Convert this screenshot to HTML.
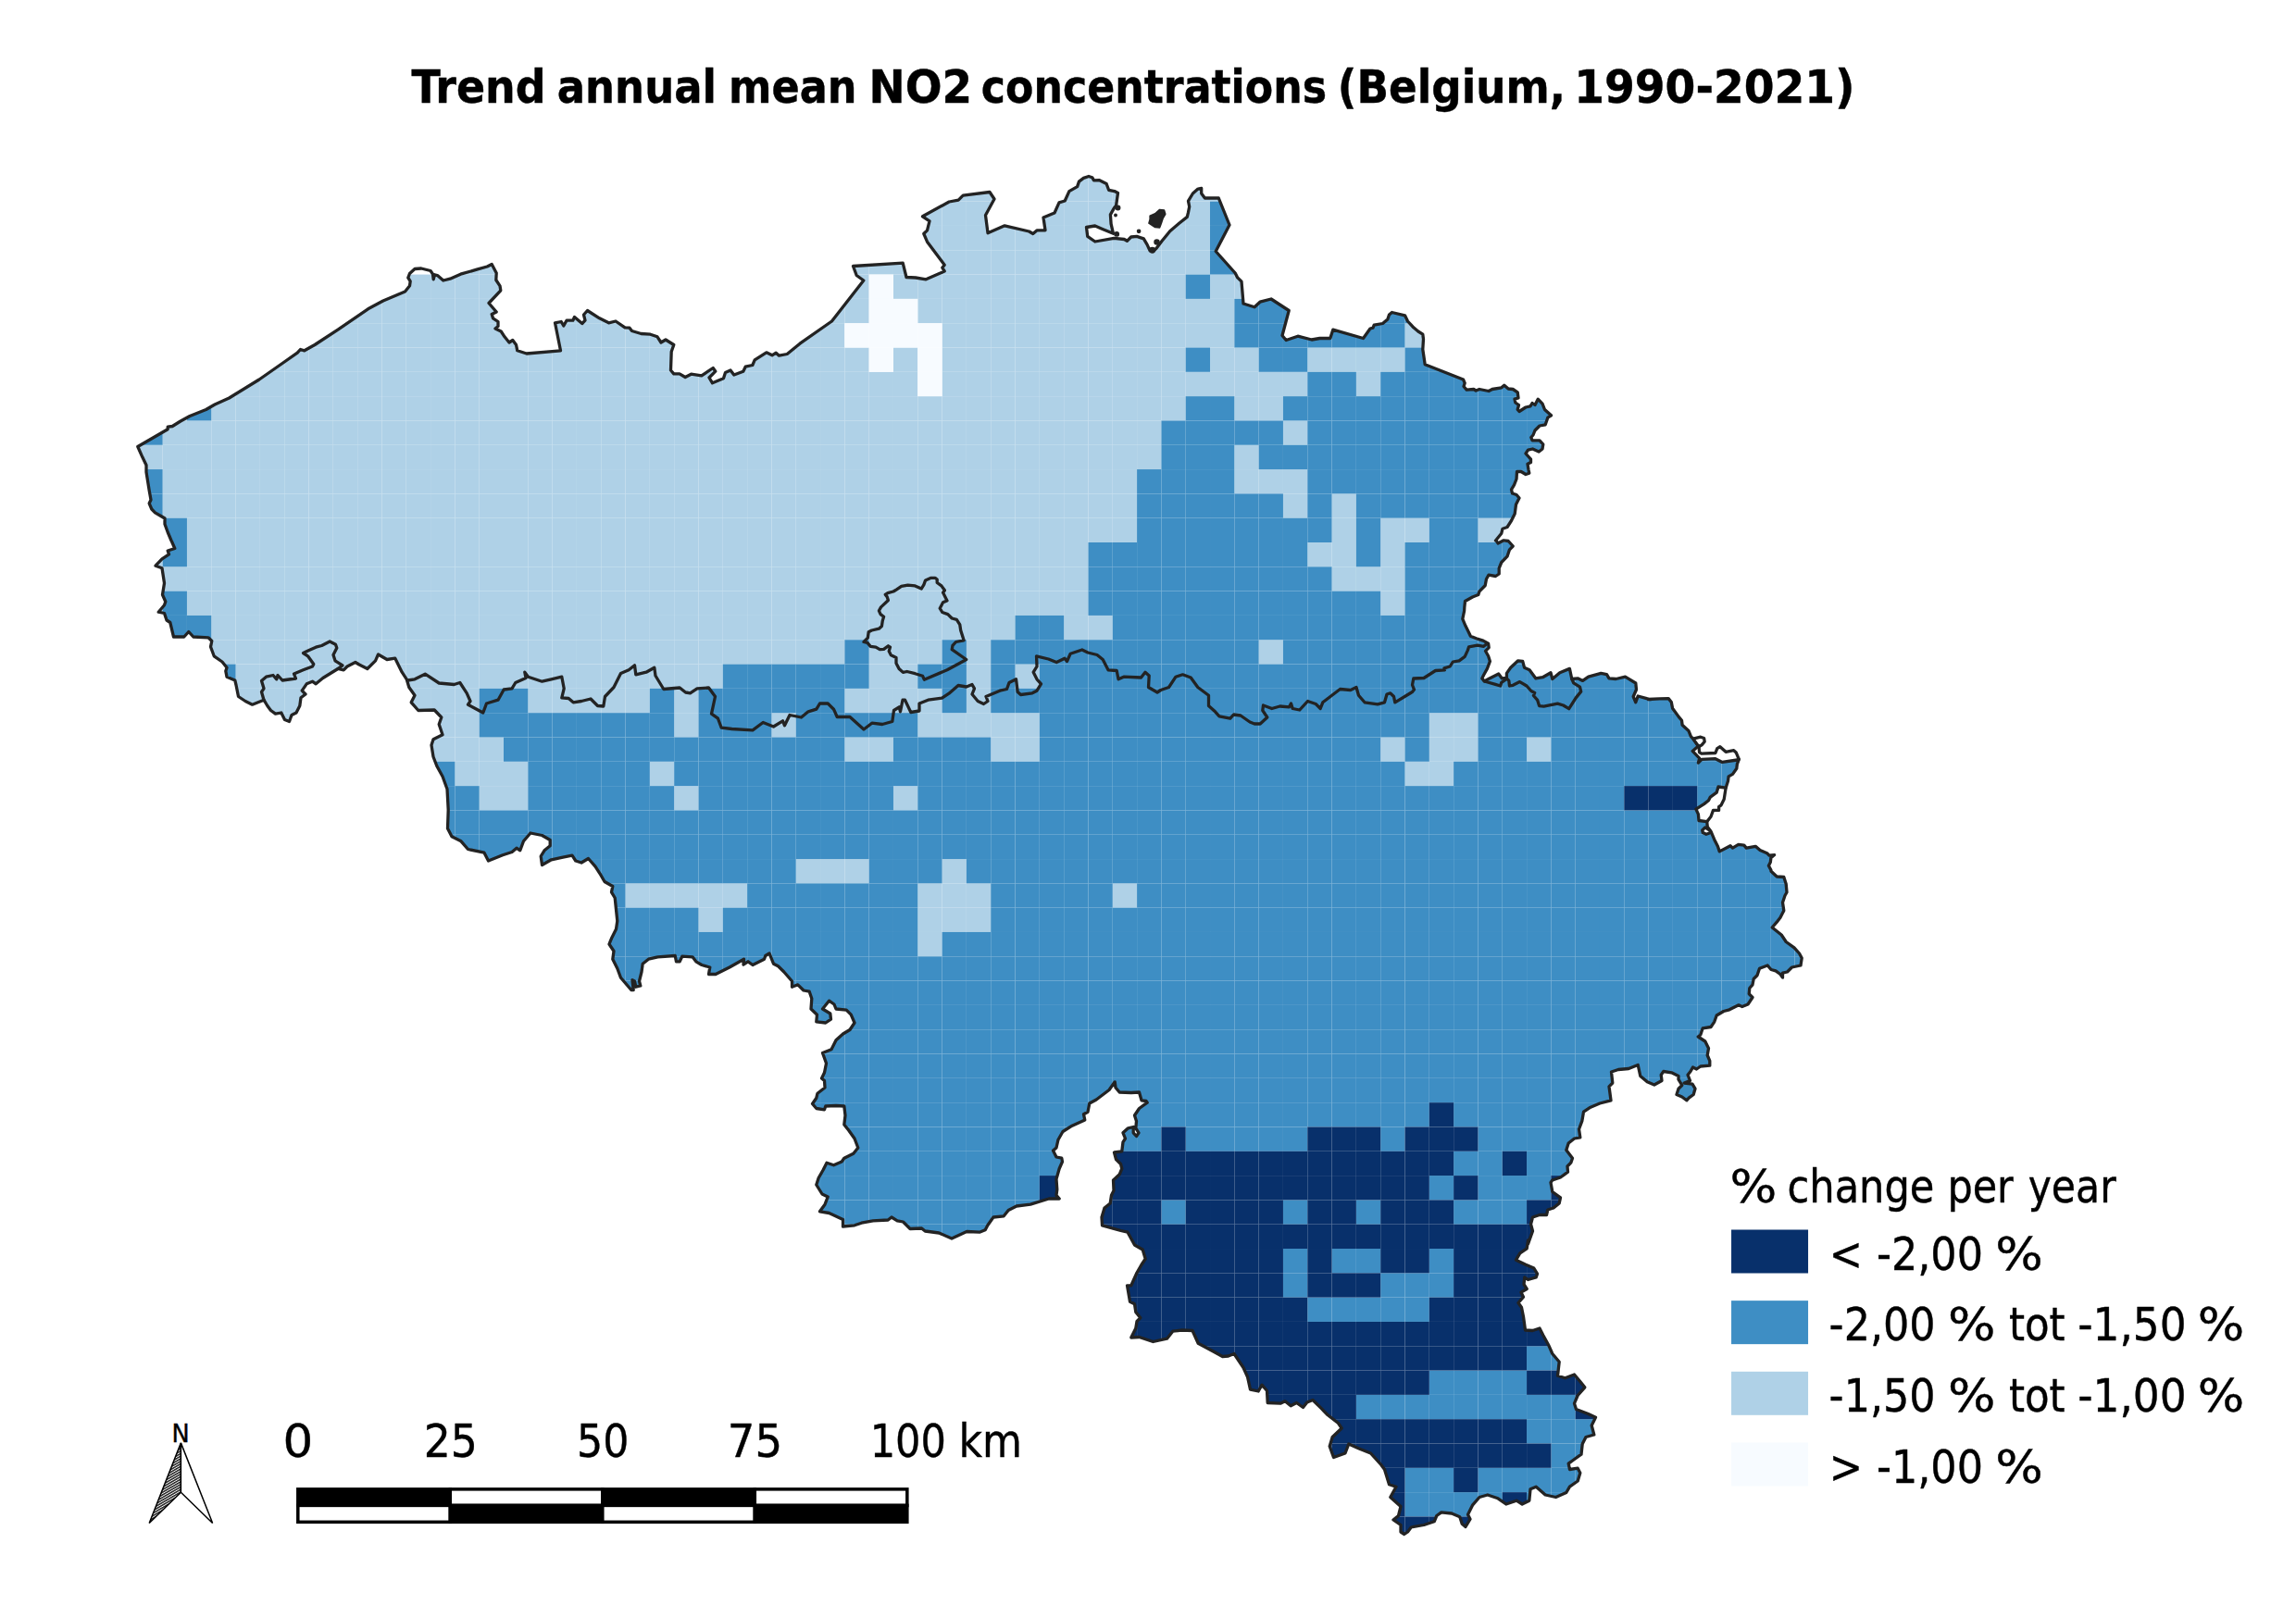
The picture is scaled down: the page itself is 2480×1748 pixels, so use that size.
<!DOCTYPE html><html><head><meta charset="utf-8"><title>Trend annual mean NO2 concentrations</title><style>html,body{margin:0;padding:0;background:#fff}body{width:2480px;height:1748px;position:relative;overflow:hidden}text{font-family:"DejaVu Sans Condensed","DejaVu Sans","Liberation Sans",sans-serif;fill:#000;stroke:#000;stroke-width:.4px}</style></head><body><svg width="2480" height="1748" viewBox="0 0 2480 1748" style="position:absolute;left:0;top:0">
<defs><clipPath id="be"><path d="M148.8,482.5 L181.2,463.8 L181.2,461.2 L186.2,460.5 L195.0,455.0 L205.0,449.5 L222.5,442.5 L232.0,437.0 L247.5,430.0 L280.0,410.0 L305.0,392.5 L321.2,381.2 L324.5,377.5 L328.8,378.8 L340.0,372.5 L365.0,356.2 L397.5,333.8 L413.8,325.0 L437.5,315.0 L442.5,308.8 L443.2,303.8 L440.8,300.0 L442.5,295.5 L448.0,290.5 L455.0,290.0 L465.0,292.5 L467.5,296.2 L468.2,301.8 L469.5,296.8 L472.5,297.5 L478.8,303.0 L486.2,301.2 L497.5,296.2 L515.0,291.2 L526.2,288.0 L531.2,285.5 L536.2,295.0 L535.8,302.5 L540.0,308.8 L540.8,313.8 L528.0,327.5 L536.2,337.0 L531.2,339.5 L532.5,343.8 L538.0,347.5 L538.0,352.5 L535.0,355.0 L541.2,358.0 L545.0,363.8 L550.0,370.0 L553.8,367.5 L557.5,372.5 L558.8,378.8 L568.8,382.0 L605.5,378.8 L599.5,348.8 L606.2,347.5 L608.8,352.0 L612.0,346.2 L618.8,346.2 L620.5,342.5 L628.8,349.5 L632.0,346.2 L630.5,340.0 L634.5,335.5 L647.5,343.8 L657.5,348.8 L665.0,347.0 L675.0,353.8 L680.0,354.2 L682.5,357.5 L692.5,360.5 L702.5,361.2 L710.0,363.8 L714.0,370.0 L719.0,367.0 L727.8,372.5 L725.2,380.0 L724.5,400.0 L727.8,403.8 L734.0,403.8 L740.2,407.5 L746.5,404.2 L757.8,405.8 L770.2,397.5 L772.8,401.2 L766.0,408.0 L769.5,413.8 L781.5,408.8 L783.5,402.5 L789.0,400.0 L792.8,405.0 L802.8,401.2 L805.2,396.2 L812.8,394.5 L815.2,388.8 L827.8,380.8 L834.0,383.8 L838.2,381.2 L841.5,384.2 L850.2,382.5 L864.0,371.2 L898.5,347.0 L932.8,303.0 L925.2,297.5 L921.5,287.5 L975.2,284.2 L979.0,299.5 L989.0,300.0 L1000.2,301.8 L1020.2,293.0 L1017.8,289.2 L1020.2,286.2 L1001.5,261.2 L997.8,252.5 L1001.5,248.8 L1004.0,238.8 L996.5,233.8 L1025.2,218.0 L1035.2,216.2 L1040.2,211.2 L1069.0,207.5 L1074.0,215.0 L1064.5,232.5 L1067.0,251.8 L1085.2,243.8 L1111.5,250.0 L1115.8,252.5 L1120.2,248.8 L1129.0,248.8 L1127.0,235.0 L1139.0,230.0 L1144.0,218.8 L1150.2,217.0 L1154.9,206.6 L1163.6,201.6 L1165.5,196.1 L1170.4,192.4 L1176.0,190.5 L1179.7,191.7 L1181.5,194.8 L1187.1,194.6 L1195.1,198.5 L1197.6,205.3 L1203.8,206.6 L1207.5,208.4 L1205.6,222.0 L1203.2,225.1 L1199.4,231.9 L1200.1,241.8 L1202.5,252.3 L1190.8,247.4 L1182.8,244.0 L1173.5,245.5 L1174.7,255.4 L1182.8,261.0 L1203.2,257.3 L1214.3,258.5 L1217.4,260.3 L1221.7,256.0 L1227.9,255.4 L1235.3,257.9 L1239.0,264.1 L1242.1,270.9 L1245.8,271.5 L1248.9,268.4 L1255.1,260.3 L1263.7,249.8 L1273.6,241.2 L1282.3,234.4 L1283.5,229.4 L1284.7,223.3 L1283.5,217.1 L1288.4,209.0 L1294.0,204.1 L1297.7,203.5 L1297.7,209.0 L1301.4,214.0 L1316.3,214.0 L1328.0,243.0 L1313.2,271.5 L1334.2,295.0 L1336.7,299.9 L1341.0,304.2 L1343.0,328.0 L1355.0,331.8 L1361.0,326.2 L1373.0,323.0 L1392.2,335.5 L1385.0,362.5 L1389.2,367.5 L1401.8,363.2 L1416.8,367.0 L1425.5,365.5 L1436.8,365.5 L1439.8,356.2 L1472.5,365.5 L1480.0,355.0 L1483.0,354.2 L1484.2,351.2 L1493.5,349.5 L1498.8,345.0 L1500.5,340.0 L1503.5,337.5 L1517.5,340.8 L1520.5,347.0 L1526.8,353.8 L1531.8,358.0 L1536.8,361.2 L1537.5,366.2 L1536.8,377.5 L1539.2,393.8 L1580.5,410.0 L1582.2,413.8 L1581.0,417.5 L1584.2,421.2 L1591.8,420.5 L1594.2,422.0 L1598.0,420.5 L1608.0,422.5 L1611.8,420.5 L1621.8,418.8 L1624.8,416.2 L1629.2,420.0 L1634.2,420.5 L1639.2,423.8 L1640.0,430.0 L1636.0,431.2 L1636.8,435.0 L1640.5,437.5 L1639.2,442.5 L1641.0,444.5 L1648.0,440.0 L1653.0,438.8 L1655.0,435.5 L1658.0,437.5 L1661.2,431.2 L1666.0,436.2 L1668.5,442.5 L1675.5,448.8 L1671.8,451.2 L1669.2,458.8 L1663.0,460.0 L1658.0,465.0 L1656.0,470.0 L1653.8,472.5 L1655.0,475.8 L1663.0,475.8 L1666.8,480.0 L1666.0,485.0 L1662.2,488.0 L1655.5,485.0 L1650.5,486.2 L1648.0,490.0 L1653.5,496.2 L1653.5,499.5 L1650.0,501.2 L1651.0,507.5 L1651.8,511.2 L1648.0,512.5 L1643.0,509.5 L1638.5,509.5 L1638.0,517.5 L1635.5,523.8 L1632.5,528.8 L1633.5,533.0 L1638.0,534.5 L1641.0,538.0 L1637.5,545.0 L1636.2,555.0 L1632.5,562.5 L1628.0,569.5 L1623.0,571.2 L1621.8,576.2 L1615.5,584.0 L1616.0,583.8 L1618.0,587.0 L1624.2,583.8 L1629.2,584.5 L1634.2,590.0 L1630.5,593.8 L1628.0,601.2 L1621.8,607.5 L1619.2,613.8 L1619.2,620.0 L1615.5,622.5 L1608.0,621.2 L1605.5,625.5 L1604.2,632.5 L1598.0,638.8 L1596.8,642.5 L1590.5,645.0 L1582.5,649.5 L1581.8,656.2 L1581.6,660.0 L1579.8,668.7 L1582.9,676.1 L1586.0,682.2 L1588.4,687.2 L1594.6,689.7 L1602.0,692.1 L1607.6,695.2 L1608.2,699.6 L1604.5,703.3 L1607.6,708.8 L1609.4,714.4 L1606.4,722.4 L1602.6,729.2 L1600.8,732.9 L1603.3,736.0 L1608.8,732.9 L1618.7,728.0 L1622.4,732.9 L1627.4,732.3 L1627.4,727.4 L1631.7,721.2 L1639.7,713.8 L1644.7,714.4 L1646.5,721.2 L1652.1,723.7 L1658.9,732.9 L1666.3,731.7 L1675.0,726.7 L1676.8,733.5 L1684.8,726.7 L1695.4,722.4 L1697.8,733.5 L1704.6,732.9 L1709.6,735.4 L1715.7,731.1 L1729.3,727.4 L1735.5,728.6 L1738.0,732.9 L1745.4,733.5 L1755.5,731.2 L1766.8,738.0 L1767.5,745.0 L1764.2,752.5 L1766.8,758.8 L1769.2,752.0 L1783.0,755.8 L1780.0,755.5 L1792.4,754.8 L1802.2,754.6 L1805.3,758.5 L1806.6,765.3 L1813.4,774.6 L1816.5,778.3 L1817.1,783.3 L1823.9,789.4 L1826.4,795.6 L1828.8,798.1 L1834.4,806.1 L1828.2,811.4 L1835.6,819.1 L1834.4,824.1 L1838.1,820.3 L1852.9,819.7 L1860.3,823.4 L1876.4,821.0 L1878.3,820.3 L1876.4,825.3 L1875.8,830.2 L1871.5,836.4 L1867.1,838.9 L1866.5,843.8 L1864.1,851.2 L1856.0,850.0 L1854.2,856.2 L1847.4,861.1 L1845.5,864.8 L1840.6,868.6 L1831.9,874.1 L1834.4,879.7 L1835.0,886.5 L1843.7,887.7 L1844.3,893.3 L1848.0,898.2 L1851.7,906.9 L1855.4,914.3 L1857.3,919.9 L1869.0,913.7 L1871.5,916.1 L1877.7,912.4 L1883.8,913.1 L1886.3,916.1 L1896.2,914.3 L1901.1,918.6 L1908.6,921.7 L1911.0,924.2 L1916.6,923.6 L1912.9,926.7 L1912.3,931.6 L1910.4,935.3 L1912.9,940.0 L1913.0,941.2 L1919.2,947.0 L1926.8,947.5 L1929.2,955.0 L1930.0,964.0 L1930.0,964.0 L1928.0,967.5 L1925.5,975.0 L1926.8,983.8 L1923.0,991.2 L1919.2,996.2 L1914.2,1002.0 L1924.2,1010.0 L1929.2,1017.5 L1938.0,1023.8 L1943.5,1030.0 L1946.2,1035.0 L1945.0,1043.0 L1935.5,1045.0 L1930.5,1050.0 L1925.5,1051.2 L1925.5,1056.2 L1923.0,1052.5 L1918.0,1048.8 L1913.0,1047.5 L1909.2,1043.0 L1900.5,1046.2 L1898.0,1053.8 L1894.2,1057.5 L1893.0,1063.8 L1889.8,1067.5 L1889.2,1073.8 L1893.0,1077.5 L1888.0,1085.0 L1881.8,1087.5 L1878.0,1085.8 L1868.0,1090.8 L1861.8,1092.5 L1854.2,1097.0 L1851.8,1103.8 L1848.0,1109.5 L1839.2,1110.8 L1836.8,1118.0 L1834.2,1120.0 L1841.8,1125.0 L1845.5,1132.5 L1844.2,1140.0 L1846.8,1146.2 L1846.8,1151.2 L1836.8,1152.0 L1832.5,1155.0 L1828.5,1153.0 L1826.0,1157.5 L1823.0,1161.2 L1825.5,1167.5 L1819.2,1170.0 L1828.0,1171.2 L1831.0,1176.2 L1829.2,1182.5 L1824.2,1186.2 L1821.8,1188.8 L1816.8,1185.0 L1811.0,1182.5 L1813.0,1176.2 L1816.8,1172.5 L1813.0,1166.2 L1813.0,1162.5 L1805.5,1158.8 L1796.8,1157.5 L1794.2,1161.2 L1795.0,1167.5 L1786.8,1172.0 L1779.2,1168.8 L1771.8,1162.5 L1769.2,1150.5 L1759.2,1154.5 L1748.0,1155.5 L1740.5,1158.0 L1741.8,1170.0 L1738.0,1173.8 L1740.0,1188.8 L1728.0,1192.0 L1718.0,1196.2 L1710.5,1201.2 L1708.8,1211.2 L1705.5,1220.0 L1706.8,1228.8 L1700.5,1230.0 L1694.2,1235.0 L1691.8,1242.5 L1698.5,1251.2 L1696.8,1256.2 L1693.0,1260.0 L1693.5,1266.2 L1685.5,1272.0 L1676.8,1275.0 L1675.0,1277.5 L1676.8,1287.5 L1685.5,1293.8 L1684.2,1300.0 L1678.0,1305.0 L1671.8,1307.0 L1670.5,1312.5 L1663.0,1312.5 L1655.5,1315.0 L1653.5,1322.5 L1655.5,1330.0 L1650.5,1344.0 L1650.5,1340.0 L1649.2,1348.8 L1641.8,1353.8 L1637.5,1361.2 L1648.0,1366.2 L1656.8,1370.0 L1660.5,1376.2 L1659.2,1380.0 L1650.5,1382.5 L1646.8,1380.0 L1646.0,1387.5 L1649.2,1392.5 L1643.0,1396.2 L1645.5,1401.2 L1640.0,1407.5 L1643.5,1412.5 L1645.5,1422.5 L1647.5,1437.0 L1655.5,1437.5 L1663.0,1435.0 L1666.8,1442.5 L1673.0,1453.8 L1676.8,1462.5 L1684.2,1471.2 L1682.5,1486.2 L1690.5,1488.8 L1700.5,1485.0 L1706.8,1492.5 L1711.8,1498.8 L1704.2,1507.5 L1700.5,1516.2 L1702.5,1522.5 L1715.5,1527.5 L1723.5,1531.2 L1719.2,1540.0 L1721.8,1550.0 L1713.0,1552.5 L1709.2,1560.0 L1708.0,1571.2 L1699.2,1577.5 L1694.2,1581.2 L1695.5,1587.5 L1704.2,1586.2 L1706.8,1591.2 L1704.2,1600.0 L1695.5,1606.2 L1691.8,1612.5 L1680.5,1617.5 L1669.2,1615.0 L1659.2,1606.2 L1653.0,1608.8 L1651.8,1621.2 L1644.2,1625.0 L1638.0,1621.2 L1626.8,1625.0 L1618.0,1618.8 L1606.8,1615.0 L1598.0,1617.5 L1590.5,1626.2 L1585.5,1636.2 L1588.0,1641.2 L1583.0,1649.5 L1579.2,1646.2 L1576.8,1638.8 L1568.0,1635.0 L1556.8,1633.8 L1551.8,1637.5 L1549.2,1643.8 L1538.0,1647.5 L1524.2,1650.0 L1520.5,1655.0 L1516.8,1657.5 L1513.0,1655.0 L1513.0,1647.5 L1505.0,1642.0 L1510.5,1637.5 L1513.0,1627.5 L1501.8,1617.5 L1508.0,1606.2 L1500.5,1603.8 L1495.5,1587.5 L1491.8,1582.5 L1480.5,1570.0 L1468.0,1565.0 L1456.8,1560.0 L1453.0,1570.0 L1440.5,1574.5 L1436.2,1562.5 L1439.2,1552.5 L1449.2,1543.0 L1445.5,1537.5 L1434.2,1528.8 L1426.8,1521.2 L1418.0,1512.5 L1411.8,1515.0 L1407.5,1520.5 L1400.5,1515.5 L1394.2,1518.8 L1388.0,1513.8 L1383.0,1516.2 L1369.2,1515.5 L1368.5,1502.5 L1363.0,1496.2 L1359.2,1503.0 L1350.5,1501.2 L1347.5,1487.5 L1343.0,1477.5 L1333.0,1462.5 L1326.8,1465.0 L1320.5,1465.5 L1310.5,1460.0 L1294.2,1451.2 L1288.0,1437.5 L1276.8,1437.0 L1266.8,1438.2 L1260.5,1446.2 L1245.5,1449.5 L1230.5,1444.5 L1221.8,1445.0 L1226.8,1435.0 L1228.0,1427.5 L1231.8,1423.8 L1226.8,1417.5 L1225.5,1408.8 L1220.5,1406.2 L1217.5,1388.8 L1221.8,1388.8 L1228.0,1375.0 L1233.0,1366.2 L1237.2,1360.0 L1234.2,1350.0 L1225.5,1345.0 L1218.0,1331.2 L1210.5,1329.5 L1190.5,1323.8 L1190.0,1315.0 L1193.0,1305.0 L1199.2,1300.0 L1199.2,1300.0 L1200.5,1291.2 L1203.0,1286.2 L1202.5,1275.0 L1209.2,1268.8 L1211.8,1262.5 L1210.5,1257.5 L1205.5,1252.5 L1203.5,1245.0 L1211.8,1243.8 L1213.0,1233.8 L1215.5,1230.0 L1213.0,1223.8 L1218.5,1218.8 L1224.2,1217.5 L1224.2,1223.8 L1227.5,1227.5 L1230.0,1223.8 L1226.8,1218.8 L1227.5,1211.2 L1225.5,1205.0 L1230.5,1197.5 L1239.2,1191.2 L1238.0,1189.5 L1233.0,1188.8 L1230.5,1180.0 L1221.8,1180.5 L1209.2,1180.0 L1205.0,1175.0 L1204.2,1168.8 L1198.0,1177.5 L1184.2,1188.0 L1176.8,1192.0 L1175.0,1201.2 L1170.5,1203.8 L1171.8,1210.0 L1158.0,1216.2 L1148.0,1222.5 L1143.0,1231.2 L1141.0,1240.0 L1137.5,1243.0 L1141.0,1250.0 L1146.8,1251.2 L1147.5,1255.0 L1144.2,1262.5 L1141.0,1273.8 L1141.8,1285.0 L1141.0,1291.2 L1144.2,1295.0 L1133.0,1295.0 L1113.0,1301.2 L1098.0,1303.0 L1089.2,1307.5 L1084.2,1313.8 L1073.0,1315.0 L1066.8,1323.8 L1064.2,1328.8 L1058.0,1331.2 L1044.2,1330.5 L1028.0,1338.0 L1014.2,1332.0 L999.2,1330.0 L995.5,1327.0 L983.0,1327.5 L975.5,1320.0 L969.2,1318.8 L963.0,1315.0 L959.2,1318.0 L943.0,1318.8 L930.5,1321.2 L923.0,1323.8 L910.5,1325.0 L910.5,1317.5 L895.5,1310.5 L885.5,1308.8 L891.0,1301.2 L894.2,1293.0 L888.0,1290.0 L881.8,1280.0 L884.2,1272.5 L889.2,1263.8 L893.0,1256.2 L900.5,1258.8 L909.2,1255.0 L911.8,1251.2 L921.8,1246.2 L926.8,1240.0 L923.0,1230.0 L916.8,1221.2 L911.8,1215.0 L913.0,1205.0 L911.8,1195.0 L903.0,1194.5 L891.8,1195.0 L890.5,1198.8 L881.8,1197.5 L877.5,1192.5 L881.8,1186.2 L883.0,1181.2 L891.0,1175.0 L890.5,1167.5 L887.5,1165.0 L890.5,1158.8 L892.5,1148.8 L888.5,1137.5 L898.0,1133.8 L903.0,1123.8 L910.5,1117.0 L918.0,1112.5 L923.0,1105.0 L919.2,1096.2 L914.2,1091.2 L903.0,1090.0 L901.0,1085.0 L895.5,1081.2 L888.5,1090.0 L896.8,1095.0 L897.5,1101.2 L891.8,1105.0 L881.8,1103.8 L882.5,1096.2 L876.0,1090.0 L876.8,1078.8 L874.2,1071.2 L868.0,1070.0 L861.8,1063.8 L855.5,1066.2 L855.5,1060.0 L846.8,1050.0 L840.5,1043.8 L835.5,1041.2 L831.0,1030.0 L826.8,1032.5 L825.5,1036.2 L813.0,1042.5 L808.0,1038.8 L803.0,1042.0 L803.5,1036.2 L788.0,1045.0 L788.0,1045.0 L773.0,1052.5 L765.5,1052.5 L766.8,1045.0 L758.0,1042.5 L751.8,1038.8 L748.0,1033.8 L736.8,1033.2 L734.2,1038.8 L730.5,1038.8 L729.2,1032.5 L710.5,1033.8 L700.5,1036.2 L694.2,1041.2 L693.0,1050.0 L690.5,1060.0 L691.8,1065.0 L686.8,1066.2 L685.5,1060.0 L683.0,1058.8 L684.2,1069.5 L681.8,1069.5 L670.5,1056.2 L666.8,1046.2 L661.8,1036.2 L663.0,1027.5 L658.0,1020.0 L660.5,1013.8 L665.5,1003.8 L666.8,995.0 L664.2,970.0 L660.5,963.8 L661.8,957.5 L653.0,952.5 L648.0,943.8 L643.0,936.2 L635.5,927.5 L628.0,932.0 L621.8,930.0 L618.0,924.2 L608.0,926.2 L595.5,928.8 L585.5,934.5 L584.2,925.0 L588.0,918.8 L594.2,913.8 L594.2,907.5 L585.5,902.5 L573.0,900.0 L565.5,908.8 L561.8,918.8 L558.0,916.2 L553.0,920.5 L543.0,923.8 L527.5,930.0 L523.0,921.2 L505.5,917.5 L498.0,908.8 L488.0,903.8 L483.5,895.0 L484.2,875.0 L483.0,852.5 L478.0,838.8 L471.8,827.5 L468.0,817.5 L466.0,805.0 L468.0,798.8 L478.0,793.8 L474.2,782.5 L476.8,775.0 L469.2,767.0 L451.8,767.5 L444.2,758.8 L448.0,751.2 L441.8,742.5 L439.2,733.8 L434.2,726.2 L426.8,711.2 L418.0,712.5 L408.5,707.0 L405.5,713.8 L396.8,722.5 L388.0,718.0 L388.0,718.0 L383.8,715.5 L375.0,720.0 L371.2,723.8 L365.0,722.5 L348.8,732.5 L341.2,738.8 L337.5,736.2 L331.2,738.8 L326.2,746.2 L330.0,750.0 L325.0,753.8 L323.8,762.5 L320.0,770.0 L315.0,772.5 L312.5,779.5 L307.5,777.5 L303.8,770.0 L297.5,771.2 L292.5,767.5 L288.8,762.5 L285.0,756.2 L272.5,761.2 L265.0,757.5 L257.5,752.5 L255.0,740.0 L253.8,735.0 L245.0,731.2 L243.8,725.0 L245.0,721.2 L240.0,715.0 L231.2,708.8 L227.5,698.8 L228.8,692.5 L225.0,688.8 L208.8,688.0 L203.8,682.5 L198.8,688.0 L187.5,688.0 L183.8,672.5 L180.0,670.0 L177.5,662.5 L171.2,661.2 L177.5,653.8 L178.8,650.0 L175.5,642.5 L177.5,630.0 L175.0,613.8 L168.0,611.2 L175.0,603.8 L182.5,598.8 L181.2,595.0 L188.8,592.5 L185.5,585.0 L185.0,584.0 L181.2,575.0 L178.0,566.2 L178.0,560.0 L173.8,557.5 L167.5,553.8 L163.8,550.0 L161.2,543.8 L163.0,540.0 L161.2,530.0 L158.0,510.0 L158.0,502.5 L153.8,493.8Z"/></clipPath>
<pattern id="hatch" width="2.4" height="2.4" patternUnits="userSpaceOnUse" patternTransform="rotate(-30)"><rect width="2.4" height="2.4" fill="#fff"/><rect width="2.4" height="1.5" fill="#222"/></pattern></defs>
<g clip-path="url(#be)" class="cg"><g fill="#afd1e7"><rect x="1149.15" y="165.02" width="26.311" height="26.311"/><rect x="1175.46" y="165.02" width="26.311" height="26.311"/><rect x="1017.59" y="191.33" width="26.311" height="26.311"/><rect x="1043.90" y="191.33" width="26.311" height="26.311"/><rect x="1070.22" y="191.33" width="26.311" height="26.311"/><rect x="1122.84" y="191.33" width="26.311" height="26.311"/><rect x="1149.15" y="191.33" width="26.311" height="26.311"/><rect x="1175.46" y="191.33" width="26.311" height="26.311"/><rect x="1201.77" y="191.33" width="26.311" height="26.311"/><rect x="1280.70" y="191.33" width="26.311" height="26.311"/><rect x="1307.01" y="191.33" width="26.311" height="26.311"/><rect x="991.28" y="217.64" width="26.311" height="26.311"/><rect x="1017.59" y="217.64" width="26.311" height="26.311"/><rect x="1043.90" y="217.64" width="26.311" height="26.311"/><rect x="1070.22" y="217.64" width="26.311" height="26.311"/><rect x="1122.84" y="217.64" width="26.311" height="26.311"/><rect x="1149.15" y="217.64" width="26.311" height="26.311"/><rect x="1175.46" y="217.64" width="26.311" height="26.311"/><rect x="1201.77" y="217.64" width="26.311" height="26.311"/><rect x="1254.39" y="217.64" width="26.311" height="26.311"/><rect x="1280.70" y="217.64" width="26.311" height="26.311"/><rect x="991.28" y="243.95" width="26.311" height="26.311"/><rect x="1017.59" y="243.95" width="26.311" height="26.311"/><rect x="1043.90" y="243.95" width="26.311" height="26.311"/><rect x="1070.22" y="243.95" width="26.311" height="26.311"/><rect x="1096.53" y="243.95" width="26.311" height="26.311"/><rect x="1122.84" y="243.95" width="26.311" height="26.311"/><rect x="1149.15" y="243.95" width="26.311" height="26.311"/><rect x="1175.46" y="243.95" width="26.311" height="26.311"/><rect x="1201.77" y="243.95" width="26.311" height="26.311"/><rect x="1228.08" y="243.95" width="26.311" height="26.311"/><rect x="1254.39" y="243.95" width="26.311" height="26.311"/><rect x="1280.70" y="243.95" width="26.311" height="26.311"/><rect x="465.06" y="270.26" width="26.311" height="26.311"/><rect x="491.37" y="270.26" width="26.311" height="26.311"/><rect x="517.69" y="270.26" width="26.311" height="26.311"/><rect x="912.35" y="270.26" width="26.311" height="26.311"/><rect x="938.66" y="270.26" width="26.311" height="26.311"/><rect x="964.97" y="270.26" width="26.311" height="26.311"/><rect x="991.28" y="270.26" width="26.311" height="26.311"/><rect x="1017.59" y="270.26" width="26.311" height="26.311"/><rect x="1043.90" y="270.26" width="26.311" height="26.311"/><rect x="1070.22" y="270.26" width="26.311" height="26.311"/><rect x="1096.53" y="270.26" width="26.311" height="26.311"/><rect x="1122.84" y="270.26" width="26.311" height="26.311"/><rect x="1149.15" y="270.26" width="26.311" height="26.311"/><rect x="1175.46" y="270.26" width="26.311" height="26.311"/><rect x="1201.77" y="270.26" width="26.311" height="26.311"/><rect x="1228.08" y="270.26" width="26.311" height="26.311"/><rect x="1254.39" y="270.26" width="26.311" height="26.311"/><rect x="1280.70" y="270.26" width="26.311" height="26.311"/><rect x="412.44" y="296.58" width="26.311" height="26.311"/><rect x="438.75" y="296.58" width="26.311" height="26.311"/><rect x="465.06" y="296.58" width="26.311" height="26.311"/><rect x="491.37" y="296.58" width="26.311" height="26.311"/><rect x="517.69" y="296.58" width="26.311" height="26.311"/><rect x="912.35" y="296.58" width="26.311" height="26.311"/><rect x="964.97" y="296.58" width="26.311" height="26.311"/><rect x="991.28" y="296.58" width="26.311" height="26.311"/><rect x="1017.59" y="296.58" width="26.311" height="26.311"/><rect x="1043.90" y="296.58" width="26.311" height="26.311"/><rect x="1070.22" y="296.58" width="26.311" height="26.311"/><rect x="1096.53" y="296.58" width="26.311" height="26.311"/><rect x="1122.84" y="296.58" width="26.311" height="26.311"/><rect x="1149.15" y="296.58" width="26.311" height="26.311"/><rect x="1175.46" y="296.58" width="26.311" height="26.311"/><rect x="1201.77" y="296.58" width="26.311" height="26.311"/><rect x="1228.08" y="296.58" width="26.311" height="26.311"/><rect x="1254.39" y="296.58" width="26.311" height="26.311"/><rect x="1307.01" y="296.58" width="26.311" height="26.311"/><rect x="1333.33" y="296.58" width="26.311" height="26.311"/><rect x="1359.64" y="296.58" width="26.311" height="26.311"/><rect x="359.82" y="322.89" width="26.311" height="26.311"/><rect x="386.13" y="322.89" width="26.311" height="26.311"/><rect x="412.44" y="322.89" width="26.311" height="26.311"/><rect x="438.75" y="322.89" width="26.311" height="26.311"/><rect x="465.06" y="322.89" width="26.311" height="26.311"/><rect x="491.37" y="322.89" width="26.311" height="26.311"/><rect x="517.69" y="322.89" width="26.311" height="26.311"/><rect x="596.62" y="322.89" width="26.311" height="26.311"/><rect x="622.93" y="322.89" width="26.311" height="26.311"/><rect x="649.24" y="322.89" width="26.311" height="26.311"/><rect x="886.04" y="322.89" width="26.311" height="26.311"/><rect x="912.35" y="322.89" width="26.311" height="26.311"/><rect x="991.28" y="322.89" width="26.311" height="26.311"/><rect x="1017.59" y="322.89" width="26.311" height="26.311"/><rect x="1043.90" y="322.89" width="26.311" height="26.311"/><rect x="1070.22" y="322.89" width="26.311" height="26.311"/><rect x="1096.53" y="322.89" width="26.311" height="26.311"/><rect x="1122.84" y="322.89" width="26.311" height="26.311"/><rect x="1149.15" y="322.89" width="26.311" height="26.311"/><rect x="1175.46" y="322.89" width="26.311" height="26.311"/><rect x="1201.77" y="322.89" width="26.311" height="26.311"/><rect x="1228.08" y="322.89" width="26.311" height="26.311"/><rect x="1254.39" y="322.89" width="26.311" height="26.311"/><rect x="1280.70" y="322.89" width="26.311" height="26.311"/><rect x="1307.01" y="322.89" width="26.311" height="26.311"/><rect x="307.20" y="349.20" width="26.311" height="26.311"/><rect x="333.51" y="349.20" width="26.311" height="26.311"/><rect x="359.82" y="349.20" width="26.311" height="26.311"/><rect x="386.13" y="349.20" width="26.311" height="26.311"/><rect x="412.44" y="349.20" width="26.311" height="26.311"/><rect x="438.75" y="349.20" width="26.311" height="26.311"/><rect x="465.06" y="349.20" width="26.311" height="26.311"/><rect x="491.37" y="349.20" width="26.311" height="26.311"/><rect x="517.69" y="349.20" width="26.311" height="26.311"/><rect x="544.00" y="349.20" width="26.311" height="26.311"/><rect x="596.62" y="349.20" width="26.311" height="26.311"/><rect x="622.93" y="349.20" width="26.311" height="26.311"/><rect x="649.24" y="349.20" width="26.311" height="26.311"/><rect x="675.55" y="349.20" width="26.311" height="26.311"/><rect x="701.86" y="349.20" width="26.311" height="26.311"/><rect x="728.17" y="349.20" width="26.311" height="26.311"/><rect x="833.42" y="349.20" width="26.311" height="26.311"/><rect x="859.73" y="349.20" width="26.311" height="26.311"/><rect x="886.04" y="349.20" width="26.311" height="26.311"/><rect x="1017.59" y="349.20" width="26.311" height="26.311"/><rect x="1043.90" y="349.20" width="26.311" height="26.311"/><rect x="1070.22" y="349.20" width="26.311" height="26.311"/><rect x="1096.53" y="349.20" width="26.311" height="26.311"/><rect x="1122.84" y="349.20" width="26.311" height="26.311"/><rect x="1149.15" y="349.20" width="26.311" height="26.311"/><rect x="1175.46" y="349.20" width="26.311" height="26.311"/><rect x="1201.77" y="349.20" width="26.311" height="26.311"/><rect x="1228.08" y="349.20" width="26.311" height="26.311"/><rect x="1254.39" y="349.20" width="26.311" height="26.311"/><rect x="1280.70" y="349.20" width="26.311" height="26.311"/><rect x="1307.01" y="349.20" width="26.311" height="26.311"/><rect x="1517.50" y="349.20" width="26.311" height="26.311"/><rect x="280.89" y="375.51" width="26.311" height="26.311"/><rect x="307.20" y="375.51" width="26.311" height="26.311"/><rect x="333.51" y="375.51" width="26.311" height="26.311"/><rect x="359.82" y="375.51" width="26.311" height="26.311"/><rect x="386.13" y="375.51" width="26.311" height="26.311"/><rect x="412.44" y="375.51" width="26.311" height="26.311"/><rect x="438.75" y="375.51" width="26.311" height="26.311"/><rect x="465.06" y="375.51" width="26.311" height="26.311"/><rect x="491.37" y="375.51" width="26.311" height="26.311"/><rect x="517.69" y="375.51" width="26.311" height="26.311"/><rect x="544.00" y="375.51" width="26.311" height="26.311"/><rect x="570.31" y="375.51" width="26.311" height="26.311"/><rect x="596.62" y="375.51" width="26.311" height="26.311"/><rect x="622.93" y="375.51" width="26.311" height="26.311"/><rect x="649.24" y="375.51" width="26.311" height="26.311"/><rect x="675.55" y="375.51" width="26.311" height="26.311"/><rect x="701.86" y="375.51" width="26.311" height="26.311"/><rect x="728.17" y="375.51" width="26.311" height="26.311"/><rect x="754.48" y="375.51" width="26.311" height="26.311"/><rect x="780.79" y="375.51" width="26.311" height="26.311"/><rect x="807.11" y="375.51" width="26.311" height="26.311"/><rect x="833.42" y="375.51" width="26.311" height="26.311"/><rect x="859.73" y="375.51" width="26.311" height="26.311"/><rect x="886.04" y="375.51" width="26.311" height="26.311"/><rect x="912.35" y="375.51" width="26.311" height="26.311"/><rect x="964.97" y="375.51" width="26.311" height="26.311"/><rect x="1017.59" y="375.51" width="26.311" height="26.311"/><rect x="1043.90" y="375.51" width="26.311" height="26.311"/><rect x="1070.22" y="375.51" width="26.311" height="26.311"/><rect x="1096.53" y="375.51" width="26.311" height="26.311"/><rect x="1122.84" y="375.51" width="26.311" height="26.311"/><rect x="1149.15" y="375.51" width="26.311" height="26.311"/><rect x="1175.46" y="375.51" width="26.311" height="26.311"/><rect x="1201.77" y="375.51" width="26.311" height="26.311"/><rect x="1228.08" y="375.51" width="26.311" height="26.311"/><rect x="1254.39" y="375.51" width="26.311" height="26.311"/><rect x="1307.01" y="375.51" width="26.311" height="26.311"/><rect x="1333.33" y="375.51" width="26.311" height="26.311"/><rect x="1412.26" y="375.51" width="26.311" height="26.311"/><rect x="1438.57" y="375.51" width="26.311" height="26.311"/><rect x="1464.88" y="375.51" width="26.311" height="26.311"/><rect x="1491.19" y="375.51" width="26.311" height="26.311"/><rect x="228.26" y="401.82" width="26.311" height="26.311"/><rect x="254.57" y="401.82" width="26.311" height="26.311"/><rect x="280.89" y="401.82" width="26.311" height="26.311"/><rect x="307.20" y="401.82" width="26.311" height="26.311"/><rect x="333.51" y="401.82" width="26.311" height="26.311"/><rect x="359.82" y="401.82" width="26.311" height="26.311"/><rect x="386.13" y="401.82" width="26.311" height="26.311"/><rect x="412.44" y="401.82" width="26.311" height="26.311"/><rect x="438.75" y="401.82" width="26.311" height="26.311"/><rect x="465.06" y="401.82" width="26.311" height="26.311"/><rect x="491.37" y="401.82" width="26.311" height="26.311"/><rect x="517.69" y="401.82" width="26.311" height="26.311"/><rect x="544.00" y="401.82" width="26.311" height="26.311"/><rect x="570.31" y="401.82" width="26.311" height="26.311"/><rect x="596.62" y="401.82" width="26.311" height="26.311"/><rect x="622.93" y="401.82" width="26.311" height="26.311"/><rect x="649.24" y="401.82" width="26.311" height="26.311"/><rect x="675.55" y="401.82" width="26.311" height="26.311"/><rect x="701.86" y="401.82" width="26.311" height="26.311"/><rect x="728.17" y="401.82" width="26.311" height="26.311"/><rect x="754.48" y="401.82" width="26.311" height="26.311"/><rect x="780.79" y="401.82" width="26.311" height="26.311"/><rect x="807.11" y="401.82" width="26.311" height="26.311"/><rect x="833.42" y="401.82" width="26.311" height="26.311"/><rect x="859.73" y="401.82" width="26.311" height="26.311"/><rect x="886.04" y="401.82" width="26.311" height="26.311"/><rect x="912.35" y="401.82" width="26.311" height="26.311"/><rect x="938.66" y="401.82" width="26.311" height="26.311"/><rect x="964.97" y="401.82" width="26.311" height="26.311"/><rect x="1017.59" y="401.82" width="26.311" height="26.311"/><rect x="1043.90" y="401.82" width="26.311" height="26.311"/><rect x="1070.22" y="401.82" width="26.311" height="26.311"/><rect x="1096.53" y="401.82" width="26.311" height="26.311"/><rect x="1122.84" y="401.82" width="26.311" height="26.311"/><rect x="1149.15" y="401.82" width="26.311" height="26.311"/><rect x="1175.46" y="401.82" width="26.311" height="26.311"/><rect x="1201.77" y="401.82" width="26.311" height="26.311"/><rect x="1228.08" y="401.82" width="26.311" height="26.311"/><rect x="1254.39" y="401.82" width="26.311" height="26.311"/><rect x="1280.70" y="401.82" width="26.311" height="26.311"/><rect x="1307.01" y="401.82" width="26.311" height="26.311"/><rect x="1333.33" y="401.82" width="26.311" height="26.311"/><rect x="1359.64" y="401.82" width="26.311" height="26.311"/><rect x="1385.95" y="401.82" width="26.311" height="26.311"/><rect x="1464.88" y="401.82" width="26.311" height="26.311"/><rect x="175.64" y="428.13" width="26.311" height="26.311"/><rect x="228.26" y="428.13" width="26.311" height="26.311"/><rect x="254.57" y="428.13" width="26.311" height="26.311"/><rect x="280.89" y="428.13" width="26.311" height="26.311"/><rect x="307.20" y="428.13" width="26.311" height="26.311"/><rect x="333.51" y="428.13" width="26.311" height="26.311"/><rect x="359.82" y="428.13" width="26.311" height="26.311"/><rect x="386.13" y="428.13" width="26.311" height="26.311"/><rect x="412.44" y="428.13" width="26.311" height="26.311"/><rect x="438.75" y="428.13" width="26.311" height="26.311"/><rect x="465.06" y="428.13" width="26.311" height="26.311"/><rect x="491.37" y="428.13" width="26.311" height="26.311"/><rect x="517.69" y="428.13" width="26.311" height="26.311"/><rect x="544.00" y="428.13" width="26.311" height="26.311"/><rect x="570.31" y="428.13" width="26.311" height="26.311"/><rect x="596.62" y="428.13" width="26.311" height="26.311"/><rect x="622.93" y="428.13" width="26.311" height="26.311"/><rect x="649.24" y="428.13" width="26.311" height="26.311"/><rect x="675.55" y="428.13" width="26.311" height="26.311"/><rect x="701.86" y="428.13" width="26.311" height="26.311"/><rect x="728.17" y="428.13" width="26.311" height="26.311"/><rect x="754.48" y="428.13" width="26.311" height="26.311"/><rect x="780.79" y="428.13" width="26.311" height="26.311"/><rect x="807.11" y="428.13" width="26.311" height="26.311"/><rect x="833.42" y="428.13" width="26.311" height="26.311"/><rect x="859.73" y="428.13" width="26.311" height="26.311"/><rect x="886.04" y="428.13" width="26.311" height="26.311"/><rect x="912.35" y="428.13" width="26.311" height="26.311"/><rect x="938.66" y="428.13" width="26.311" height="26.311"/><rect x="964.97" y="428.13" width="26.311" height="26.311"/><rect x="991.28" y="428.13" width="26.311" height="26.311"/><rect x="1017.59" y="428.13" width="26.311" height="26.311"/><rect x="1043.90" y="428.13" width="26.311" height="26.311"/><rect x="1070.22" y="428.13" width="26.311" height="26.311"/><rect x="1096.53" y="428.13" width="26.311" height="26.311"/><rect x="1122.84" y="428.13" width="26.311" height="26.311"/><rect x="1149.15" y="428.13" width="26.311" height="26.311"/><rect x="1175.46" y="428.13" width="26.311" height="26.311"/><rect x="1201.77" y="428.13" width="26.311" height="26.311"/><rect x="1228.08" y="428.13" width="26.311" height="26.311"/><rect x="1254.39" y="428.13" width="26.311" height="26.311"/><rect x="1333.33" y="428.13" width="26.311" height="26.311"/><rect x="1359.64" y="428.13" width="26.311" height="26.311"/><rect x="123.02" y="454.44" width="26.311" height="26.311"/><rect x="175.64" y="454.44" width="26.311" height="26.311"/><rect x="201.95" y="454.44" width="26.311" height="26.311"/><rect x="228.26" y="454.44" width="26.311" height="26.311"/><rect x="254.57" y="454.44" width="26.311" height="26.311"/><rect x="280.89" y="454.44" width="26.311" height="26.311"/><rect x="307.20" y="454.44" width="26.311" height="26.311"/><rect x="333.51" y="454.44" width="26.311" height="26.311"/><rect x="359.82" y="454.44" width="26.311" height="26.311"/><rect x="386.13" y="454.44" width="26.311" height="26.311"/><rect x="412.44" y="454.44" width="26.311" height="26.311"/><rect x="438.75" y="454.44" width="26.311" height="26.311"/><rect x="465.06" y="454.44" width="26.311" height="26.311"/><rect x="491.37" y="454.44" width="26.311" height="26.311"/><rect x="517.69" y="454.44" width="26.311" height="26.311"/><rect x="544.00" y="454.44" width="26.311" height="26.311"/><rect x="570.31" y="454.44" width="26.311" height="26.311"/><rect x="596.62" y="454.44" width="26.311" height="26.311"/><rect x="622.93" y="454.44" width="26.311" height="26.311"/><rect x="649.24" y="454.44" width="26.311" height="26.311"/><rect x="675.55" y="454.44" width="26.311" height="26.311"/><rect x="701.86" y="454.44" width="26.311" height="26.311"/><rect x="728.17" y="454.44" width="26.311" height="26.311"/><rect x="754.48" y="454.44" width="26.311" height="26.311"/><rect x="780.79" y="454.44" width="26.311" height="26.311"/><rect x="807.11" y="454.44" width="26.311" height="26.311"/><rect x="833.42" y="454.44" width="26.311" height="26.311"/><rect x="859.73" y="454.44" width="26.311" height="26.311"/><rect x="886.04" y="454.44" width="26.311" height="26.311"/><rect x="912.35" y="454.44" width="26.311" height="26.311"/><rect x="938.66" y="454.44" width="26.311" height="26.311"/><rect x="964.97" y="454.44" width="26.311" height="26.311"/><rect x="991.28" y="454.44" width="26.311" height="26.311"/><rect x="1017.59" y="454.44" width="26.311" height="26.311"/><rect x="1043.90" y="454.44" width="26.311" height="26.311"/><rect x="1070.22" y="454.44" width="26.311" height="26.311"/><rect x="1096.53" y="454.44" width="26.311" height="26.311"/><rect x="1122.84" y="454.44" width="26.311" height="26.311"/><rect x="1149.15" y="454.44" width="26.311" height="26.311"/><rect x="1175.46" y="454.44" width="26.311" height="26.311"/><rect x="1201.77" y="454.44" width="26.311" height="26.311"/><rect x="1228.08" y="454.44" width="26.311" height="26.311"/><rect x="1385.95" y="454.44" width="26.311" height="26.311"/><rect x="123.02" y="480.75" width="26.311" height="26.311"/><rect x="149.33" y="480.75" width="26.311" height="26.311"/><rect x="175.64" y="480.75" width="26.311" height="26.311"/><rect x="201.95" y="480.75" width="26.311" height="26.311"/><rect x="228.26" y="480.75" width="26.311" height="26.311"/><rect x="254.57" y="480.75" width="26.311" height="26.311"/><rect x="280.89" y="480.75" width="26.311" height="26.311"/><rect x="307.20" y="480.75" width="26.311" height="26.311"/><rect x="333.51" y="480.75" width="26.311" height="26.311"/><rect x="359.82" y="480.75" width="26.311" height="26.311"/><rect x="386.13" y="480.75" width="26.311" height="26.311"/><rect x="412.44" y="480.75" width="26.311" height="26.311"/><rect x="438.75" y="480.75" width="26.311" height="26.311"/><rect x="465.06" y="480.75" width="26.311" height="26.311"/><rect x="491.37" y="480.75" width="26.311" height="26.311"/><rect x="517.69" y="480.75" width="26.311" height="26.311"/><rect x="544.00" y="480.75" width="26.311" height="26.311"/><rect x="570.31" y="480.75" width="26.311" height="26.311"/><rect x="596.62" y="480.75" width="26.311" height="26.311"/><rect x="622.93" y="480.75" width="26.311" height="26.311"/><rect x="649.24" y="480.75" width="26.311" height="26.311"/><rect x="675.55" y="480.75" width="26.311" height="26.311"/><rect x="701.86" y="480.75" width="26.311" height="26.311"/><rect x="728.17" y="480.75" width="26.311" height="26.311"/><rect x="754.48" y="480.75" width="26.311" height="26.311"/><rect x="780.79" y="480.75" width="26.311" height="26.311"/><rect x="807.11" y="480.75" width="26.311" height="26.311"/><rect x="833.42" y="480.75" width="26.311" height="26.311"/><rect x="859.73" y="480.75" width="26.311" height="26.311"/><rect x="886.04" y="480.75" width="26.311" height="26.311"/><rect x="912.35" y="480.75" width="26.311" height="26.311"/><rect x="938.66" y="480.75" width="26.311" height="26.311"/><rect x="964.97" y="480.75" width="26.311" height="26.311"/><rect x="991.28" y="480.75" width="26.311" height="26.311"/><rect x="1017.59" y="480.75" width="26.311" height="26.311"/><rect x="1043.90" y="480.75" width="26.311" height="26.311"/><rect x="1070.22" y="480.75" width="26.311" height="26.311"/><rect x="1096.53" y="480.75" width="26.311" height="26.311"/><rect x="1122.84" y="480.75" width="26.311" height="26.311"/><rect x="1149.15" y="480.75" width="26.311" height="26.311"/><rect x="1175.46" y="480.75" width="26.311" height="26.311"/><rect x="1201.77" y="480.75" width="26.311" height="26.311"/><rect x="1228.08" y="480.75" width="26.311" height="26.311"/><rect x="1333.33" y="480.75" width="26.311" height="26.311"/><rect x="175.64" y="507.06" width="26.311" height="26.311"/><rect x="201.95" y="507.06" width="26.311" height="26.311"/><rect x="228.26" y="507.06" width="26.311" height="26.311"/><rect x="254.57" y="507.06" width="26.311" height="26.311"/><rect x="280.89" y="507.06" width="26.311" height="26.311"/><rect x="307.20" y="507.06" width="26.311" height="26.311"/><rect x="333.51" y="507.06" width="26.311" height="26.311"/><rect x="359.82" y="507.06" width="26.311" height="26.311"/><rect x="386.13" y="507.06" width="26.311" height="26.311"/><rect x="412.44" y="507.06" width="26.311" height="26.311"/><rect x="438.75" y="507.06" width="26.311" height="26.311"/><rect x="465.06" y="507.06" width="26.311" height="26.311"/><rect x="491.37" y="507.06" width="26.311" height="26.311"/><rect x="517.69" y="507.06" width="26.311" height="26.311"/><rect x="544.00" y="507.06" width="26.311" height="26.311"/><rect x="570.31" y="507.06" width="26.311" height="26.311"/><rect x="596.62" y="507.06" width="26.311" height="26.311"/><rect x="622.93" y="507.06" width="26.311" height="26.311"/><rect x="649.24" y="507.06" width="26.311" height="26.311"/><rect x="675.55" y="507.06" width="26.311" height="26.311"/><rect x="701.86" y="507.06" width="26.311" height="26.311"/><rect x="728.17" y="507.06" width="26.311" height="26.311"/><rect x="754.48" y="507.06" width="26.311" height="26.311"/><rect x="780.79" y="507.06" width="26.311" height="26.311"/><rect x="807.11" y="507.06" width="26.311" height="26.311"/><rect x="833.42" y="507.06" width="26.311" height="26.311"/><rect x="859.73" y="507.06" width="26.311" height="26.311"/><rect x="886.04" y="507.06" width="26.311" height="26.311"/><rect x="912.35" y="507.06" width="26.311" height="26.311"/><rect x="938.66" y="507.06" width="26.311" height="26.311"/><rect x="964.97" y="507.06" width="26.311" height="26.311"/><rect x="991.28" y="507.06" width="26.311" height="26.311"/><rect x="1017.59" y="507.06" width="26.311" height="26.311"/><rect x="1043.90" y="507.06" width="26.311" height="26.311"/><rect x="1070.22" y="507.06" width="26.311" height="26.311"/><rect x="1096.53" y="507.06" width="26.311" height="26.311"/><rect x="1122.84" y="507.06" width="26.311" height="26.311"/><rect x="1149.15" y="507.06" width="26.311" height="26.311"/><rect x="1175.46" y="507.06" width="26.311" height="26.311"/><rect x="1201.77" y="507.06" width="26.311" height="26.311"/><rect x="1333.33" y="507.06" width="26.311" height="26.311"/><rect x="1359.64" y="507.06" width="26.311" height="26.311"/><rect x="1385.95" y="507.06" width="26.311" height="26.311"/><rect x="175.64" y="533.37" width="26.311" height="26.311"/><rect x="201.95" y="533.37" width="26.311" height="26.311"/><rect x="228.26" y="533.37" width="26.311" height="26.311"/><rect x="254.57" y="533.37" width="26.311" height="26.311"/><rect x="280.89" y="533.37" width="26.311" height="26.311"/><rect x="307.20" y="533.37" width="26.311" height="26.311"/><rect x="333.51" y="533.37" width="26.311" height="26.311"/><rect x="359.82" y="533.37" width="26.311" height="26.311"/><rect x="386.13" y="533.37" width="26.311" height="26.311"/><rect x="412.44" y="533.37" width="26.311" height="26.311"/><rect x="438.75" y="533.37" width="26.311" height="26.311"/><rect x="465.06" y="533.37" width="26.311" height="26.311"/><rect x="491.37" y="533.37" width="26.311" height="26.311"/><rect x="517.69" y="533.37" width="26.311" height="26.311"/><rect x="544.00" y="533.37" width="26.311" height="26.311"/><rect x="570.31" y="533.37" width="26.311" height="26.311"/><rect x="596.62" y="533.37" width="26.311" height="26.311"/><rect x="622.93" y="533.37" width="26.311" height="26.311"/><rect x="649.24" y="533.37" width="26.311" height="26.311"/><rect x="675.55" y="533.37" width="26.311" height="26.311"/><rect x="701.86" y="533.37" width="26.311" height="26.311"/><rect x="728.17" y="533.37" width="26.311" height="26.311"/><rect x="754.48" y="533.37" width="26.311" height="26.311"/><rect x="780.79" y="533.37" width="26.311" height="26.311"/><rect x="807.11" y="533.37" width="26.311" height="26.311"/><rect x="833.42" y="533.37" width="26.311" height="26.311"/><rect x="859.73" y="533.37" width="26.311" height="26.311"/><rect x="886.04" y="533.37" width="26.311" height="26.311"/><rect x="912.35" y="533.37" width="26.311" height="26.311"/><rect x="938.66" y="533.37" width="26.311" height="26.311"/><rect x="964.97" y="533.37" width="26.311" height="26.311"/><rect x="991.28" y="533.37" width="26.311" height="26.311"/><rect x="1017.59" y="533.37" width="26.311" height="26.311"/><rect x="1043.90" y="533.37" width="26.311" height="26.311"/><rect x="1070.22" y="533.37" width="26.311" height="26.311"/><rect x="1096.53" y="533.37" width="26.311" height="26.311"/><rect x="1122.84" y="533.37" width="26.311" height="26.311"/><rect x="1149.15" y="533.37" width="26.311" height="26.311"/><rect x="1175.46" y="533.37" width="26.311" height="26.311"/><rect x="1201.77" y="533.37" width="26.311" height="26.311"/><rect x="1385.95" y="533.37" width="26.311" height="26.311"/><rect x="1438.57" y="533.37" width="26.311" height="26.311"/><rect x="149.33" y="559.69" width="26.311" height="26.311"/><rect x="201.95" y="559.69" width="26.311" height="26.311"/><rect x="228.26" y="559.69" width="26.311" height="26.311"/><rect x="254.57" y="559.69" width="26.311" height="26.311"/><rect x="280.89" y="559.69" width="26.311" height="26.311"/><rect x="307.20" y="559.69" width="26.311" height="26.311"/><rect x="333.51" y="559.69" width="26.311" height="26.311"/><rect x="359.82" y="559.69" width="26.311" height="26.311"/><rect x="386.13" y="559.69" width="26.311" height="26.311"/><rect x="412.44" y="559.69" width="26.311" height="26.311"/><rect x="438.75" y="559.69" width="26.311" height="26.311"/><rect x="465.06" y="559.69" width="26.311" height="26.311"/><rect x="491.37" y="559.69" width="26.311" height="26.311"/><rect x="517.69" y="559.69" width="26.311" height="26.311"/><rect x="544.00" y="559.69" width="26.311" height="26.311"/><rect x="570.31" y="559.69" width="26.311" height="26.311"/><rect x="596.62" y="559.69" width="26.311" height="26.311"/><rect x="622.93" y="559.69" width="26.311" height="26.311"/><rect x="649.24" y="559.69" width="26.311" height="26.311"/><rect x="675.55" y="559.69" width="26.311" height="26.311"/><rect x="701.86" y="559.69" width="26.311" height="26.311"/><rect x="728.17" y="559.69" width="26.311" height="26.311"/><rect x="754.48" y="559.69" width="26.311" height="26.311"/><rect x="780.79" y="559.69" width="26.311" height="26.311"/><rect x="807.11" y="559.69" width="26.311" height="26.311"/><rect x="833.42" y="559.69" width="26.311" height="26.311"/><rect x="859.73" y="559.69" width="26.311" height="26.311"/><rect x="886.04" y="559.69" width="26.311" height="26.311"/><rect x="912.35" y="559.69" width="26.311" height="26.311"/><rect x="938.66" y="559.69" width="26.311" height="26.311"/><rect x="964.97" y="559.69" width="26.311" height="26.311"/><rect x="991.28" y="559.69" width="26.311" height="26.311"/><rect x="1017.59" y="559.69" width="26.311" height="26.311"/><rect x="1043.90" y="559.69" width="26.311" height="26.311"/><rect x="1070.22" y="559.69" width="26.311" height="26.311"/><rect x="1096.53" y="559.69" width="26.311" height="26.311"/><rect x="1122.84" y="559.69" width="26.311" height="26.311"/><rect x="1149.15" y="559.69" width="26.311" height="26.311"/><rect x="1175.46" y="559.69" width="26.311" height="26.311"/><rect x="1201.77" y="559.69" width="26.311" height="26.311"/><rect x="1438.57" y="559.69" width="26.311" height="26.311"/><rect x="1491.19" y="559.69" width="26.311" height="26.311"/><rect x="1517.50" y="559.69" width="26.311" height="26.311"/><rect x="1596.44" y="559.69" width="26.311" height="26.311"/><rect x="1622.75" y="559.69" width="26.311" height="26.311"/><rect x="149.33" y="586.00" width="26.311" height="26.311"/><rect x="201.95" y="586.00" width="26.311" height="26.311"/><rect x="228.26" y="586.00" width="26.311" height="26.311"/><rect x="254.57" y="586.00" width="26.311" height="26.311"/><rect x="280.89" y="586.00" width="26.311" height="26.311"/><rect x="307.20" y="586.00" width="26.311" height="26.311"/><rect x="333.51" y="586.00" width="26.311" height="26.311"/><rect x="359.82" y="586.00" width="26.311" height="26.311"/><rect x="386.13" y="586.00" width="26.311" height="26.311"/><rect x="412.44" y="586.00" width="26.311" height="26.311"/><rect x="438.75" y="586.00" width="26.311" height="26.311"/><rect x="465.06" y="586.00" width="26.311" height="26.311"/><rect x="491.37" y="586.00" width="26.311" height="26.311"/><rect x="517.69" y="586.00" width="26.311" height="26.311"/><rect x="544.00" y="586.00" width="26.311" height="26.311"/><rect x="570.31" y="586.00" width="26.311" height="26.311"/><rect x="596.62" y="586.00" width="26.311" height="26.311"/><rect x="622.93" y="586.00" width="26.311" height="26.311"/><rect x="649.24" y="586.00" width="26.311" height="26.311"/><rect x="675.55" y="586.00" width="26.311" height="26.311"/><rect x="701.86" y="586.00" width="26.311" height="26.311"/><rect x="728.17" y="586.00" width="26.311" height="26.311"/><rect x="754.48" y="586.00" width="26.311" height="26.311"/><rect x="780.79" y="586.00" width="26.311" height="26.311"/><rect x="807.11" y="586.00" width="26.311" height="26.311"/><rect x="833.42" y="586.00" width="26.311" height="26.311"/><rect x="859.73" y="586.00" width="26.311" height="26.311"/><rect x="886.04" y="586.00" width="26.311" height="26.311"/><rect x="912.35" y="586.00" width="26.311" height="26.311"/><rect x="938.66" y="586.00" width="26.311" height="26.311"/><rect x="964.97" y="586.00" width="26.311" height="26.311"/><rect x="991.28" y="586.00" width="26.311" height="26.311"/><rect x="1017.59" y="586.00" width="26.311" height="26.311"/><rect x="1043.90" y="586.00" width="26.311" height="26.311"/><rect x="1070.22" y="586.00" width="26.311" height="26.311"/><rect x="1096.53" y="586.00" width="26.311" height="26.311"/><rect x="1122.84" y="586.00" width="26.311" height="26.311"/><rect x="1149.15" y="586.00" width="26.311" height="26.311"/><rect x="1412.26" y="586.00" width="26.311" height="26.311"/><rect x="1438.57" y="586.00" width="26.311" height="26.311"/><rect x="1491.19" y="586.00" width="26.311" height="26.311"/><rect x="149.33" y="612.31" width="26.311" height="26.311"/><rect x="175.64" y="612.31" width="26.311" height="26.311"/><rect x="201.95" y="612.31" width="26.311" height="26.311"/><rect x="228.26" y="612.31" width="26.311" height="26.311"/><rect x="254.57" y="612.31" width="26.311" height="26.311"/><rect x="280.89" y="612.31" width="26.311" height="26.311"/><rect x="307.20" y="612.31" width="26.311" height="26.311"/><rect x="333.51" y="612.31" width="26.311" height="26.311"/><rect x="359.82" y="612.31" width="26.311" height="26.311"/><rect x="386.13" y="612.31" width="26.311" height="26.311"/><rect x="412.44" y="612.31" width="26.311" height="26.311"/><rect x="438.75" y="612.31" width="26.311" height="26.311"/><rect x="465.06" y="612.31" width="26.311" height="26.311"/><rect x="491.37" y="612.31" width="26.311" height="26.311"/><rect x="517.69" y="612.31" width="26.311" height="26.311"/><rect x="544.00" y="612.31" width="26.311" height="26.311"/><rect x="570.31" y="612.31" width="26.311" height="26.311"/><rect x="596.62" y="612.31" width="26.311" height="26.311"/><rect x="622.93" y="612.31" width="26.311" height="26.311"/><rect x="649.24" y="612.31" width="26.311" height="26.311"/><rect x="675.55" y="612.31" width="26.311" height="26.311"/><rect x="701.86" y="612.31" width="26.311" height="26.311"/><rect x="728.17" y="612.31" width="26.311" height="26.311"/><rect x="754.48" y="612.31" width="26.311" height="26.311"/><rect x="780.79" y="612.31" width="26.311" height="26.311"/><rect x="807.11" y="612.31" width="26.311" height="26.311"/><rect x="833.42" y="612.31" width="26.311" height="26.311"/><rect x="859.73" y="612.31" width="26.311" height="26.311"/><rect x="886.04" y="612.31" width="26.311" height="26.311"/><rect x="912.35" y="612.31" width="26.311" height="26.311"/><rect x="938.66" y="612.31" width="26.311" height="26.311"/><rect x="964.97" y="612.31" width="26.311" height="26.311"/><rect x="991.28" y="612.31" width="26.311" height="26.311"/><rect x="1017.59" y="612.31" width="26.311" height="26.311"/><rect x="1043.90" y="612.31" width="26.311" height="26.311"/><rect x="1070.22" y="612.31" width="26.311" height="26.311"/><rect x="1096.53" y="612.31" width="26.311" height="26.311"/><rect x="1122.84" y="612.31" width="26.311" height="26.311"/><rect x="1149.15" y="612.31" width="26.311" height="26.311"/><rect x="1438.57" y="612.31" width="26.311" height="26.311"/><rect x="1464.88" y="612.31" width="26.311" height="26.311"/><rect x="1491.19" y="612.31" width="26.311" height="26.311"/><rect x="149.33" y="638.62" width="26.311" height="26.311"/><rect x="201.95" y="638.62" width="26.311" height="26.311"/><rect x="228.26" y="638.62" width="26.311" height="26.311"/><rect x="254.57" y="638.62" width="26.311" height="26.311"/><rect x="280.89" y="638.62" width="26.311" height="26.311"/><rect x="307.20" y="638.62" width="26.311" height="26.311"/><rect x="333.51" y="638.62" width="26.311" height="26.311"/><rect x="359.82" y="638.62" width="26.311" height="26.311"/><rect x="386.13" y="638.62" width="26.311" height="26.311"/><rect x="412.44" y="638.62" width="26.311" height="26.311"/><rect x="438.75" y="638.62" width="26.311" height="26.311"/><rect x="465.06" y="638.62" width="26.311" height="26.311"/><rect x="491.37" y="638.62" width="26.311" height="26.311"/><rect x="517.69" y="638.62" width="26.311" height="26.311"/><rect x="544.00" y="638.62" width="26.311" height="26.311"/><rect x="570.31" y="638.62" width="26.311" height="26.311"/><rect x="596.62" y="638.62" width="26.311" height="26.311"/><rect x="622.93" y="638.62" width="26.311" height="26.311"/><rect x="649.24" y="638.62" width="26.311" height="26.311"/><rect x="675.55" y="638.62" width="26.311" height="26.311"/><rect x="701.86" y="638.62" width="26.311" height="26.311"/><rect x="728.17" y="638.62" width="26.311" height="26.311"/><rect x="754.48" y="638.62" width="26.311" height="26.311"/><rect x="780.79" y="638.62" width="26.311" height="26.311"/><rect x="807.11" y="638.62" width="26.311" height="26.311"/><rect x="833.42" y="638.62" width="26.311" height="26.311"/><rect x="859.73" y="638.62" width="26.311" height="26.311"/><rect x="886.04" y="638.62" width="26.311" height="26.311"/><rect x="912.35" y="638.62" width="26.311" height="26.311"/><rect x="938.66" y="638.62" width="26.311" height="26.311"/><rect x="964.97" y="638.62" width="26.311" height="26.311"/><rect x="991.28" y="638.62" width="26.311" height="26.311"/><rect x="1017.59" y="638.62" width="26.311" height="26.311"/><rect x="1043.90" y="638.62" width="26.311" height="26.311"/><rect x="1070.22" y="638.62" width="26.311" height="26.311"/><rect x="1096.53" y="638.62" width="26.311" height="26.311"/><rect x="1122.84" y="638.62" width="26.311" height="26.311"/><rect x="1149.15" y="638.62" width="26.311" height="26.311"/><rect x="1491.19" y="638.62" width="26.311" height="26.311"/><rect x="149.33" y="664.93" width="26.311" height="26.311"/><rect x="228.26" y="664.93" width="26.311" height="26.311"/><rect x="254.57" y="664.93" width="26.311" height="26.311"/><rect x="280.89" y="664.93" width="26.311" height="26.311"/><rect x="307.20" y="664.93" width="26.311" height="26.311"/><rect x="333.51" y="664.93" width="26.311" height="26.311"/><rect x="359.82" y="664.93" width="26.311" height="26.311"/><rect x="386.13" y="664.93" width="26.311" height="26.311"/><rect x="412.44" y="664.93" width="26.311" height="26.311"/><rect x="438.75" y="664.93" width="26.311" height="26.311"/><rect x="465.06" y="664.93" width="26.311" height="26.311"/><rect x="491.37" y="664.93" width="26.311" height="26.311"/><rect x="517.69" y="664.93" width="26.311" height="26.311"/><rect x="544.00" y="664.93" width="26.311" height="26.311"/><rect x="570.31" y="664.93" width="26.311" height="26.311"/><rect x="596.62" y="664.93" width="26.311" height="26.311"/><rect x="622.93" y="664.93" width="26.311" height="26.311"/><rect x="649.24" y="664.93" width="26.311" height="26.311"/><rect x="675.55" y="664.93" width="26.311" height="26.311"/><rect x="701.86" y="664.93" width="26.311" height="26.311"/><rect x="728.17" y="664.93" width="26.311" height="26.311"/><rect x="754.48" y="664.93" width="26.311" height="26.311"/><rect x="780.79" y="664.93" width="26.311" height="26.311"/><rect x="807.11" y="664.93" width="26.311" height="26.311"/><rect x="833.42" y="664.93" width="26.311" height="26.311"/><rect x="859.73" y="664.93" width="26.311" height="26.311"/><rect x="886.04" y="664.93" width="26.311" height="26.311"/><rect x="912.35" y="664.93" width="26.311" height="26.311"/><rect x="938.66" y="664.93" width="26.311" height="26.311"/><rect x="964.97" y="664.93" width="26.311" height="26.311"/><rect x="991.28" y="664.93" width="26.311" height="26.311"/><rect x="1017.59" y="664.93" width="26.311" height="26.311"/><rect x="1043.90" y="664.93" width="26.311" height="26.311"/><rect x="1070.22" y="664.93" width="26.311" height="26.311"/><rect x="1149.15" y="664.93" width="26.311" height="26.311"/><rect x="1175.46" y="664.93" width="26.311" height="26.311"/><rect x="201.95" y="691.24" width="26.311" height="26.311"/><rect x="228.26" y="691.24" width="26.311" height="26.311"/><rect x="254.57" y="691.24" width="26.311" height="26.311"/><rect x="280.89" y="691.24" width="26.311" height="26.311"/><rect x="307.20" y="691.24" width="26.311" height="26.311"/><rect x="333.51" y="691.24" width="26.311" height="26.311"/><rect x="359.82" y="691.24" width="26.311" height="26.311"/><rect x="386.13" y="691.24" width="26.311" height="26.311"/><rect x="412.44" y="691.24" width="26.311" height="26.311"/><rect x="438.75" y="691.24" width="26.311" height="26.311"/><rect x="465.06" y="691.24" width="26.311" height="26.311"/><rect x="491.37" y="691.24" width="26.311" height="26.311"/><rect x="517.69" y="691.24" width="26.311" height="26.311"/><rect x="544.00" y="691.24" width="26.311" height="26.311"/><rect x="570.31" y="691.24" width="26.311" height="26.311"/><rect x="596.62" y="691.24" width="26.311" height="26.311"/><rect x="622.93" y="691.24" width="26.311" height="26.311"/><rect x="649.24" y="691.24" width="26.311" height="26.311"/><rect x="675.55" y="691.24" width="26.311" height="26.311"/><rect x="701.86" y="691.24" width="26.311" height="26.311"/><rect x="728.17" y="691.24" width="26.311" height="26.311"/><rect x="754.48" y="691.24" width="26.311" height="26.311"/><rect x="780.79" y="691.24" width="26.311" height="26.311"/><rect x="807.11" y="691.24" width="26.311" height="26.311"/><rect x="833.42" y="691.24" width="26.311" height="26.311"/><rect x="859.73" y="691.24" width="26.311" height="26.311"/><rect x="886.04" y="691.24" width="26.311" height="26.311"/><rect x="938.66" y="691.24" width="26.311" height="26.311"/><rect x="964.97" y="691.24" width="26.311" height="26.311"/><rect x="991.28" y="691.24" width="26.311" height="26.311"/><rect x="1043.90" y="691.24" width="26.311" height="26.311"/><rect x="1359.64" y="691.24" width="26.311" height="26.311"/><rect x="254.57" y="717.55" width="26.311" height="26.311"/><rect x="280.89" y="717.55" width="26.311" height="26.311"/><rect x="307.20" y="717.55" width="26.311" height="26.311"/><rect x="333.51" y="717.55" width="26.311" height="26.311"/><rect x="359.82" y="717.55" width="26.311" height="26.311"/><rect x="386.13" y="717.55" width="26.311" height="26.311"/><rect x="412.44" y="717.55" width="26.311" height="26.311"/><rect x="438.75" y="717.55" width="26.311" height="26.311"/><rect x="465.06" y="717.55" width="26.311" height="26.311"/><rect x="491.37" y="717.55" width="26.311" height="26.311"/><rect x="517.69" y="717.55" width="26.311" height="26.311"/><rect x="544.00" y="717.55" width="26.311" height="26.311"/><rect x="570.31" y="717.55" width="26.311" height="26.311"/><rect x="596.62" y="717.55" width="26.311" height="26.311"/><rect x="622.93" y="717.55" width="26.311" height="26.311"/><rect x="649.24" y="717.55" width="26.311" height="26.311"/><rect x="675.55" y="717.55" width="26.311" height="26.311"/><rect x="701.86" y="717.55" width="26.311" height="26.311"/><rect x="728.17" y="717.55" width="26.311" height="26.311"/><rect x="754.48" y="717.55" width="26.311" height="26.311"/><rect x="938.66" y="717.55" width="26.311" height="26.311"/><rect x="964.97" y="717.55" width="26.311" height="26.311"/><rect x="1043.90" y="717.55" width="26.311" height="26.311"/><rect x="1096.53" y="717.55" width="26.311" height="26.311"/><rect x="228.26" y="743.86" width="26.311" height="26.311"/><rect x="254.57" y="743.86" width="26.311" height="26.311"/><rect x="280.89" y="743.86" width="26.311" height="26.311"/><rect x="307.20" y="743.86" width="26.311" height="26.311"/><rect x="438.75" y="743.86" width="26.311" height="26.311"/><rect x="465.06" y="743.86" width="26.311" height="26.311"/><rect x="491.37" y="743.86" width="26.311" height="26.311"/><rect x="570.31" y="743.86" width="26.311" height="26.311"/><rect x="596.62" y="743.86" width="26.311" height="26.311"/><rect x="622.93" y="743.86" width="26.311" height="26.311"/><rect x="649.24" y="743.86" width="26.311" height="26.311"/><rect x="675.55" y="743.86" width="26.311" height="26.311"/><rect x="728.17" y="743.86" width="26.311" height="26.311"/><rect x="912.35" y="743.86" width="26.311" height="26.311"/><rect x="938.66" y="743.86" width="26.311" height="26.311"/><rect x="964.97" y="743.86" width="26.311" height="26.311"/><rect x="991.28" y="743.86" width="26.311" height="26.311"/><rect x="1043.90" y="743.86" width="26.311" height="26.311"/><rect x="280.89" y="770.17" width="26.311" height="26.311"/><rect x="307.20" y="770.17" width="26.311" height="26.311"/><rect x="465.06" y="770.17" width="26.311" height="26.311"/><rect x="491.37" y="770.17" width="26.311" height="26.311"/><rect x="728.17" y="770.17" width="26.311" height="26.311"/><rect x="833.42" y="770.17" width="26.311" height="26.311"/><rect x="991.28" y="770.17" width="26.311" height="26.311"/><rect x="1017.59" y="770.17" width="26.311" height="26.311"/><rect x="1043.90" y="770.17" width="26.311" height="26.311"/><rect x="1070.22" y="770.17" width="26.311" height="26.311"/><rect x="1096.53" y="770.17" width="26.311" height="26.311"/><rect x="1543.81" y="770.17" width="26.311" height="26.311"/><rect x="1570.12" y="770.17" width="26.311" height="26.311"/><rect x="438.75" y="796.48" width="26.311" height="26.311"/><rect x="465.06" y="796.48" width="26.311" height="26.311"/><rect x="491.37" y="796.48" width="26.311" height="26.311"/><rect x="517.69" y="796.48" width="26.311" height="26.311"/><rect x="912.35" y="796.48" width="26.311" height="26.311"/><rect x="938.66" y="796.48" width="26.311" height="26.311"/><rect x="1070.22" y="796.48" width="26.311" height="26.311"/><rect x="1096.53" y="796.48" width="26.311" height="26.311"/><rect x="1491.19" y="796.48" width="26.311" height="26.311"/><rect x="1543.81" y="796.48" width="26.311" height="26.311"/><rect x="1570.12" y="796.48" width="26.311" height="26.311"/><rect x="1649.06" y="796.48" width="26.311" height="26.311"/><rect x="491.37" y="822.79" width="26.311" height="26.311"/><rect x="517.69" y="822.79" width="26.311" height="26.311"/><rect x="544.00" y="822.79" width="26.311" height="26.311"/><rect x="701.86" y="822.79" width="26.311" height="26.311"/><rect x="1517.50" y="822.79" width="26.311" height="26.311"/><rect x="1543.81" y="822.79" width="26.311" height="26.311"/><rect x="517.69" y="849.11" width="26.311" height="26.311"/><rect x="544.00" y="849.11" width="26.311" height="26.311"/><rect x="728.17" y="849.11" width="26.311" height="26.311"/><rect x="964.97" y="849.11" width="26.311" height="26.311"/><rect x="859.73" y="928.04" width="26.311" height="26.311"/><rect x="886.04" y="928.04" width="26.311" height="26.311"/><rect x="912.35" y="928.04" width="26.311" height="26.311"/><rect x="1017.59" y="928.04" width="26.311" height="26.311"/><rect x="675.55" y="954.35" width="26.311" height="26.311"/><rect x="701.86" y="954.35" width="26.311" height="26.311"/><rect x="728.17" y="954.35" width="26.311" height="26.311"/><rect x="754.48" y="954.35" width="26.311" height="26.311"/><rect x="780.79" y="954.35" width="26.311" height="26.311"/><rect x="991.28" y="954.35" width="26.311" height="26.311"/><rect x="1017.59" y="954.35" width="26.311" height="26.311"/><rect x="1043.90" y="954.35" width="26.311" height="26.311"/><rect x="1201.77" y="954.35" width="26.311" height="26.311"/><rect x="754.48" y="980.66" width="26.311" height="26.311"/><rect x="991.28" y="980.66" width="26.311" height="26.311"/><rect x="1017.59" y="980.66" width="26.311" height="26.311"/><rect x="1043.90" y="980.66" width="26.311" height="26.311"/><rect x="991.28" y="1006.97" width="26.311" height="26.311"/></g><g fill="#3e8ec4"><rect x="1307.01" y="217.64" width="26.311" height="26.311"/><rect x="1307.01" y="243.95" width="26.311" height="26.311"/><rect x="1307.01" y="270.26" width="26.311" height="26.311"/><rect x="1333.33" y="270.26" width="26.311" height="26.311"/><rect x="1280.70" y="296.58" width="26.311" height="26.311"/><rect x="1333.33" y="322.89" width="26.311" height="26.311"/><rect x="1359.64" y="322.89" width="26.311" height="26.311"/><rect x="1385.95" y="322.89" width="26.311" height="26.311"/><rect x="1464.88" y="322.89" width="26.311" height="26.311"/><rect x="1491.19" y="322.89" width="26.311" height="26.311"/><rect x="1517.50" y="322.89" width="26.311" height="26.311"/><rect x="1333.33" y="349.20" width="26.311" height="26.311"/><rect x="1359.64" y="349.20" width="26.311" height="26.311"/><rect x="1385.95" y="349.20" width="26.311" height="26.311"/><rect x="1412.26" y="349.20" width="26.311" height="26.311"/><rect x="1438.57" y="349.20" width="26.311" height="26.311"/><rect x="1464.88" y="349.20" width="26.311" height="26.311"/><rect x="1491.19" y="349.20" width="26.311" height="26.311"/><rect x="1280.70" y="375.51" width="26.311" height="26.311"/><rect x="1359.64" y="375.51" width="26.311" height="26.311"/><rect x="1385.95" y="375.51" width="26.311" height="26.311"/><rect x="1517.50" y="375.51" width="26.311" height="26.311"/><rect x="1543.81" y="375.51" width="26.311" height="26.311"/><rect x="1412.26" y="401.82" width="26.311" height="26.311"/><rect x="1438.57" y="401.82" width="26.311" height="26.311"/><rect x="1491.19" y="401.82" width="26.311" height="26.311"/><rect x="1517.50" y="401.82" width="26.311" height="26.311"/><rect x="1543.81" y="401.82" width="26.311" height="26.311"/><rect x="1570.12" y="401.82" width="26.311" height="26.311"/><rect x="1596.44" y="401.82" width="26.311" height="26.311"/><rect x="1622.75" y="401.82" width="26.311" height="26.311"/><rect x="201.95" y="428.13" width="26.311" height="26.311"/><rect x="1280.70" y="428.13" width="26.311" height="26.311"/><rect x="1307.01" y="428.13" width="26.311" height="26.311"/><rect x="1385.95" y="428.13" width="26.311" height="26.311"/><rect x="1412.26" y="428.13" width="26.311" height="26.311"/><rect x="1438.57" y="428.13" width="26.311" height="26.311"/><rect x="1464.88" y="428.13" width="26.311" height="26.311"/><rect x="1491.19" y="428.13" width="26.311" height="26.311"/><rect x="1517.50" y="428.13" width="26.311" height="26.311"/><rect x="1543.81" y="428.13" width="26.311" height="26.311"/><rect x="1570.12" y="428.13" width="26.311" height="26.311"/><rect x="1596.44" y="428.13" width="26.311" height="26.311"/><rect x="1622.75" y="428.13" width="26.311" height="26.311"/><rect x="1649.06" y="428.13" width="26.311" height="26.311"/><rect x="1675.37" y="428.13" width="26.311" height="26.311"/><rect x="149.33" y="454.44" width="26.311" height="26.311"/><rect x="1254.39" y="454.44" width="26.311" height="26.311"/><rect x="1280.70" y="454.44" width="26.311" height="26.311"/><rect x="1307.01" y="454.44" width="26.311" height="26.311"/><rect x="1333.33" y="454.44" width="26.311" height="26.311"/><rect x="1359.64" y="454.44" width="26.311" height="26.311"/><rect x="1412.26" y="454.44" width="26.311" height="26.311"/><rect x="1438.57" y="454.44" width="26.311" height="26.311"/><rect x="1464.88" y="454.44" width="26.311" height="26.311"/><rect x="1491.19" y="454.44" width="26.311" height="26.311"/><rect x="1517.50" y="454.44" width="26.311" height="26.311"/><rect x="1543.81" y="454.44" width="26.311" height="26.311"/><rect x="1570.12" y="454.44" width="26.311" height="26.311"/><rect x="1596.44" y="454.44" width="26.311" height="26.311"/><rect x="1622.75" y="454.44" width="26.311" height="26.311"/><rect x="1649.06" y="454.44" width="26.311" height="26.311"/><rect x="1254.39" y="480.75" width="26.311" height="26.311"/><rect x="1280.70" y="480.75" width="26.311" height="26.311"/><rect x="1307.01" y="480.75" width="26.311" height="26.311"/><rect x="1359.64" y="480.75" width="26.311" height="26.311"/><rect x="1385.95" y="480.75" width="26.311" height="26.311"/><rect x="1412.26" y="480.75" width="26.311" height="26.311"/><rect x="1438.57" y="480.75" width="26.311" height="26.311"/><rect x="1464.88" y="480.75" width="26.311" height="26.311"/><rect x="1491.19" y="480.75" width="26.311" height="26.311"/><rect x="1517.50" y="480.75" width="26.311" height="26.311"/><rect x="1543.81" y="480.75" width="26.311" height="26.311"/><rect x="1570.12" y="480.75" width="26.311" height="26.311"/><rect x="1596.44" y="480.75" width="26.311" height="26.311"/><rect x="1622.75" y="480.75" width="26.311" height="26.311"/><rect x="1649.06" y="480.75" width="26.311" height="26.311"/><rect x="149.33" y="507.06" width="26.311" height="26.311"/><rect x="1228.08" y="507.06" width="26.311" height="26.311"/><rect x="1254.39" y="507.06" width="26.311" height="26.311"/><rect x="1280.70" y="507.06" width="26.311" height="26.311"/><rect x="1307.01" y="507.06" width="26.311" height="26.311"/><rect x="1412.26" y="507.06" width="26.311" height="26.311"/><rect x="1438.57" y="507.06" width="26.311" height="26.311"/><rect x="1464.88" y="507.06" width="26.311" height="26.311"/><rect x="1491.19" y="507.06" width="26.311" height="26.311"/><rect x="1517.50" y="507.06" width="26.311" height="26.311"/><rect x="1543.81" y="507.06" width="26.311" height="26.311"/><rect x="1570.12" y="507.06" width="26.311" height="26.311"/><rect x="1596.44" y="507.06" width="26.311" height="26.311"/><rect x="1622.75" y="507.06" width="26.311" height="26.311"/><rect x="1649.06" y="507.06" width="26.311" height="26.311"/><rect x="149.33" y="533.37" width="26.311" height="26.311"/><rect x="1228.08" y="533.37" width="26.311" height="26.311"/><rect x="1254.39" y="533.37" width="26.311" height="26.311"/><rect x="1280.70" y="533.37" width="26.311" height="26.311"/><rect x="1307.01" y="533.37" width="26.311" height="26.311"/><rect x="1333.33" y="533.37" width="26.311" height="26.311"/><rect x="1359.64" y="533.37" width="26.311" height="26.311"/><rect x="1412.26" y="533.37" width="26.311" height="26.311"/><rect x="1464.88" y="533.37" width="26.311" height="26.311"/><rect x="1491.19" y="533.37" width="26.311" height="26.311"/><rect x="1517.50" y="533.37" width="26.311" height="26.311"/><rect x="1543.81" y="533.37" width="26.311" height="26.311"/><rect x="1570.12" y="533.37" width="26.311" height="26.311"/><rect x="1596.44" y="533.37" width="26.311" height="26.311"/><rect x="1622.75" y="533.37" width="26.311" height="26.311"/><rect x="175.64" y="559.69" width="26.311" height="26.311"/><rect x="1228.08" y="559.69" width="26.311" height="26.311"/><rect x="1254.39" y="559.69" width="26.311" height="26.311"/><rect x="1280.70" y="559.69" width="26.311" height="26.311"/><rect x="1307.01" y="559.69" width="26.311" height="26.311"/><rect x="1333.33" y="559.69" width="26.311" height="26.311"/><rect x="1359.64" y="559.69" width="26.311" height="26.311"/><rect x="1385.95" y="559.69" width="26.311" height="26.311"/><rect x="1412.26" y="559.69" width="26.311" height="26.311"/><rect x="1464.88" y="559.69" width="26.311" height="26.311"/><rect x="1543.81" y="559.69" width="26.311" height="26.311"/><rect x="1570.12" y="559.69" width="26.311" height="26.311"/><rect x="175.64" y="586.00" width="26.311" height="26.311"/><rect x="1175.46" y="586.00" width="26.311" height="26.311"/><rect x="1201.77" y="586.00" width="26.311" height="26.311"/><rect x="1228.08" y="586.00" width="26.311" height="26.311"/><rect x="1254.39" y="586.00" width="26.311" height="26.311"/><rect x="1280.70" y="586.00" width="26.311" height="26.311"/><rect x="1307.01" y="586.00" width="26.311" height="26.311"/><rect x="1333.33" y="586.00" width="26.311" height="26.311"/><rect x="1359.64" y="586.00" width="26.311" height="26.311"/><rect x="1385.95" y="586.00" width="26.311" height="26.311"/><rect x="1464.88" y="586.00" width="26.311" height="26.311"/><rect x="1517.50" y="586.00" width="26.311" height="26.311"/><rect x="1543.81" y="586.00" width="26.311" height="26.311"/><rect x="1570.12" y="586.00" width="26.311" height="26.311"/><rect x="1596.44" y="586.00" width="26.311" height="26.311"/><rect x="1622.75" y="586.00" width="26.311" height="26.311"/><rect x="1175.46" y="612.31" width="26.311" height="26.311"/><rect x="1201.77" y="612.31" width="26.311" height="26.311"/><rect x="1228.08" y="612.31" width="26.311" height="26.311"/><rect x="1254.39" y="612.31" width="26.311" height="26.311"/><rect x="1280.70" y="612.31" width="26.311" height="26.311"/><rect x="1307.01" y="612.31" width="26.311" height="26.311"/><rect x="1333.33" y="612.31" width="26.311" height="26.311"/><rect x="1359.64" y="612.31" width="26.311" height="26.311"/><rect x="1385.95" y="612.31" width="26.311" height="26.311"/><rect x="1412.26" y="612.31" width="26.311" height="26.311"/><rect x="1517.50" y="612.31" width="26.311" height="26.311"/><rect x="1543.81" y="612.31" width="26.311" height="26.311"/><rect x="1570.12" y="612.31" width="26.311" height="26.311"/><rect x="1596.44" y="612.31" width="26.311" height="26.311"/><rect x="1622.75" y="612.31" width="26.311" height="26.311"/><rect x="175.64" y="638.62" width="26.311" height="26.311"/><rect x="1175.46" y="638.62" width="26.311" height="26.311"/><rect x="1201.77" y="638.62" width="26.311" height="26.311"/><rect x="1228.08" y="638.62" width="26.311" height="26.311"/><rect x="1254.39" y="638.62" width="26.311" height="26.311"/><rect x="1280.70" y="638.62" width="26.311" height="26.311"/><rect x="1307.01" y="638.62" width="26.311" height="26.311"/><rect x="1333.33" y="638.62" width="26.311" height="26.311"/><rect x="1359.64" y="638.62" width="26.311" height="26.311"/><rect x="1385.95" y="638.62" width="26.311" height="26.311"/><rect x="1412.26" y="638.62" width="26.311" height="26.311"/><rect x="1438.57" y="638.62" width="26.311" height="26.311"/><rect x="1464.88" y="638.62" width="26.311" height="26.311"/><rect x="1517.50" y="638.62" width="26.311" height="26.311"/><rect x="1543.81" y="638.62" width="26.311" height="26.311"/><rect x="1570.12" y="638.62" width="26.311" height="26.311"/><rect x="1596.44" y="638.62" width="26.311" height="26.311"/><rect x="175.64" y="664.93" width="26.311" height="26.311"/><rect x="201.95" y="664.93" width="26.311" height="26.311"/><rect x="1096.53" y="664.93" width="26.311" height="26.311"/><rect x="1122.84" y="664.93" width="26.311" height="26.311"/><rect x="1201.77" y="664.93" width="26.311" height="26.311"/><rect x="1228.08" y="664.93" width="26.311" height="26.311"/><rect x="1254.39" y="664.93" width="26.311" height="26.311"/><rect x="1280.70" y="664.93" width="26.311" height="26.311"/><rect x="1307.01" y="664.93" width="26.311" height="26.311"/><rect x="1333.33" y="664.93" width="26.311" height="26.311"/><rect x="1359.64" y="664.93" width="26.311" height="26.311"/><rect x="1385.95" y="664.93" width="26.311" height="26.311"/><rect x="1412.26" y="664.93" width="26.311" height="26.311"/><rect x="1438.57" y="664.93" width="26.311" height="26.311"/><rect x="1464.88" y="664.93" width="26.311" height="26.311"/><rect x="1491.19" y="664.93" width="26.311" height="26.311"/><rect x="1517.50" y="664.93" width="26.311" height="26.311"/><rect x="1543.81" y="664.93" width="26.311" height="26.311"/><rect x="1570.12" y="664.93" width="26.311" height="26.311"/><rect x="1596.44" y="664.93" width="26.311" height="26.311"/><rect x="912.35" y="691.24" width="26.311" height="26.311"/><rect x="1017.59" y="691.24" width="26.311" height="26.311"/><rect x="1070.22" y="691.24" width="26.311" height="26.311"/><rect x="1096.53" y="691.24" width="26.311" height="26.311"/><rect x="1122.84" y="691.24" width="26.311" height="26.311"/><rect x="1149.15" y="691.24" width="26.311" height="26.311"/><rect x="1175.46" y="691.24" width="26.311" height="26.311"/><rect x="1201.77" y="691.24" width="26.311" height="26.311"/><rect x="1228.08" y="691.24" width="26.311" height="26.311"/><rect x="1254.39" y="691.24" width="26.311" height="26.311"/><rect x="1280.70" y="691.24" width="26.311" height="26.311"/><rect x="1307.01" y="691.24" width="26.311" height="26.311"/><rect x="1333.33" y="691.24" width="26.311" height="26.311"/><rect x="1385.95" y="691.24" width="26.311" height="26.311"/><rect x="1412.26" y="691.24" width="26.311" height="26.311"/><rect x="1438.57" y="691.24" width="26.311" height="26.311"/><rect x="1464.88" y="691.24" width="26.311" height="26.311"/><rect x="1491.19" y="691.24" width="26.311" height="26.311"/><rect x="1517.50" y="691.24" width="26.311" height="26.311"/><rect x="1543.81" y="691.24" width="26.311" height="26.311"/><rect x="1570.12" y="691.24" width="26.311" height="26.311"/><rect x="1596.44" y="691.24" width="26.311" height="26.311"/><rect x="1622.75" y="691.24" width="26.311" height="26.311"/><rect x="228.26" y="717.55" width="26.311" height="26.311"/><rect x="780.79" y="717.55" width="26.311" height="26.311"/><rect x="807.11" y="717.55" width="26.311" height="26.311"/><rect x="833.42" y="717.55" width="26.311" height="26.311"/><rect x="859.73" y="717.55" width="26.311" height="26.311"/><rect x="886.04" y="717.55" width="26.311" height="26.311"/><rect x="912.35" y="717.55" width="26.311" height="26.311"/><rect x="991.28" y="717.55" width="26.311" height="26.311"/><rect x="1017.59" y="717.55" width="26.311" height="26.311"/><rect x="1070.22" y="717.55" width="26.311" height="26.311"/><rect x="1122.84" y="717.55" width="26.311" height="26.311"/><rect x="1149.15" y="717.55" width="26.311" height="26.311"/><rect x="1175.46" y="717.55" width="26.311" height="26.311"/><rect x="1201.77" y="717.55" width="26.311" height="26.311"/><rect x="1228.08" y="717.55" width="26.311" height="26.311"/><rect x="1254.39" y="717.55" width="26.311" height="26.311"/><rect x="1280.70" y="717.55" width="26.311" height="26.311"/><rect x="1307.01" y="717.55" width="26.311" height="26.311"/><rect x="1333.33" y="717.55" width="26.311" height="26.311"/><rect x="1359.64" y="717.55" width="26.311" height="26.311"/><rect x="1385.95" y="717.55" width="26.311" height="26.311"/><rect x="1412.26" y="717.55" width="26.311" height="26.311"/><rect x="1438.57" y="717.55" width="26.311" height="26.311"/><rect x="1464.88" y="717.55" width="26.311" height="26.311"/><rect x="1491.19" y="717.55" width="26.311" height="26.311"/><rect x="1517.50" y="717.55" width="26.311" height="26.311"/><rect x="1543.81" y="717.55" width="26.311" height="26.311"/><rect x="1570.12" y="717.55" width="26.311" height="26.311"/><rect x="1596.44" y="717.55" width="26.311" height="26.311"/><rect x="1622.75" y="717.55" width="26.311" height="26.311"/><rect x="1649.06" y="717.55" width="26.311" height="26.311"/><rect x="1675.37" y="717.55" width="26.311" height="26.311"/><rect x="1701.68" y="717.55" width="26.311" height="26.311"/><rect x="1727.99" y="717.55" width="26.311" height="26.311"/><rect x="1754.30" y="717.55" width="26.311" height="26.311"/><rect x="517.69" y="743.86" width="26.311" height="26.311"/><rect x="544.00" y="743.86" width="26.311" height="26.311"/><rect x="701.86" y="743.86" width="26.311" height="26.311"/><rect x="754.48" y="743.86" width="26.311" height="26.311"/><rect x="780.79" y="743.86" width="26.311" height="26.311"/><rect x="807.11" y="743.86" width="26.311" height="26.311"/><rect x="833.42" y="743.86" width="26.311" height="26.311"/><rect x="859.73" y="743.86" width="26.311" height="26.311"/><rect x="886.04" y="743.86" width="26.311" height="26.311"/><rect x="1017.59" y="743.86" width="26.311" height="26.311"/><rect x="1070.22" y="743.86" width="26.311" height="26.311"/><rect x="1096.53" y="743.86" width="26.311" height="26.311"/><rect x="1122.84" y="743.86" width="26.311" height="26.311"/><rect x="1149.15" y="743.86" width="26.311" height="26.311"/><rect x="1175.46" y="743.86" width="26.311" height="26.311"/><rect x="1201.77" y="743.86" width="26.311" height="26.311"/><rect x="1228.08" y="743.86" width="26.311" height="26.311"/><rect x="1254.39" y="743.86" width="26.311" height="26.311"/><rect x="1280.70" y="743.86" width="26.311" height="26.311"/><rect x="1307.01" y="743.86" width="26.311" height="26.311"/><rect x="1333.33" y="743.86" width="26.311" height="26.311"/><rect x="1359.64" y="743.86" width="26.311" height="26.311"/><rect x="1385.95" y="743.86" width="26.311" height="26.311"/><rect x="1412.26" y="743.86" width="26.311" height="26.311"/><rect x="1438.57" y="743.86" width="26.311" height="26.311"/><rect x="1464.88" y="743.86" width="26.311" height="26.311"/><rect x="1491.19" y="743.86" width="26.311" height="26.311"/><rect x="1517.50" y="743.86" width="26.311" height="26.311"/><rect x="1543.81" y="743.86" width="26.311" height="26.311"/><rect x="1570.12" y="743.86" width="26.311" height="26.311"/><rect x="1596.44" y="743.86" width="26.311" height="26.311"/><rect x="1622.75" y="743.86" width="26.311" height="26.311"/><rect x="1649.06" y="743.86" width="26.311" height="26.311"/><rect x="1675.37" y="743.86" width="26.311" height="26.311"/><rect x="1701.68" y="743.86" width="26.311" height="26.311"/><rect x="1727.99" y="743.86" width="26.311" height="26.311"/><rect x="1754.30" y="743.86" width="26.311" height="26.311"/><rect x="1780.61" y="743.86" width="26.311" height="26.311"/><rect x="1806.92" y="743.86" width="26.311" height="26.311"/><rect x="517.69" y="770.17" width="26.311" height="26.311"/><rect x="544.00" y="770.17" width="26.311" height="26.311"/><rect x="570.31" y="770.17" width="26.311" height="26.311"/><rect x="596.62" y="770.17" width="26.311" height="26.311"/><rect x="622.93" y="770.17" width="26.311" height="26.311"/><rect x="649.24" y="770.17" width="26.311" height="26.311"/><rect x="675.55" y="770.17" width="26.311" height="26.311"/><rect x="701.86" y="770.17" width="26.311" height="26.311"/><rect x="754.48" y="770.17" width="26.311" height="26.311"/><rect x="780.79" y="770.17" width="26.311" height="26.311"/><rect x="807.11" y="770.17" width="26.311" height="26.311"/><rect x="859.73" y="770.17" width="26.311" height="26.311"/><rect x="886.04" y="770.17" width="26.311" height="26.311"/><rect x="912.35" y="770.17" width="26.311" height="26.311"/><rect x="938.66" y="770.17" width="26.311" height="26.311"/><rect x="964.97" y="770.17" width="26.311" height="26.311"/><rect x="1122.84" y="770.17" width="26.311" height="26.311"/><rect x="1149.15" y="770.17" width="26.311" height="26.311"/><rect x="1175.46" y="770.17" width="26.311" height="26.311"/><rect x="1201.77" y="770.17" width="26.311" height="26.311"/><rect x="1228.08" y="770.17" width="26.311" height="26.311"/><rect x="1254.39" y="770.17" width="26.311" height="26.311"/><rect x="1280.70" y="770.17" width="26.311" height="26.311"/><rect x="1307.01" y="770.17" width="26.311" height="26.311"/><rect x="1333.33" y="770.17" width="26.311" height="26.311"/><rect x="1359.64" y="770.17" width="26.311" height="26.311"/><rect x="1385.95" y="770.17" width="26.311" height="26.311"/><rect x="1412.26" y="770.17" width="26.311" height="26.311"/><rect x="1438.57" y="770.17" width="26.311" height="26.311"/><rect x="1464.88" y="770.17" width="26.311" height="26.311"/><rect x="1491.19" y="770.17" width="26.311" height="26.311"/><rect x="1517.50" y="770.17" width="26.311" height="26.311"/><rect x="1596.44" y="770.17" width="26.311" height="26.311"/><rect x="1622.75" y="770.17" width="26.311" height="26.311"/><rect x="1649.06" y="770.17" width="26.311" height="26.311"/><rect x="1675.37" y="770.17" width="26.311" height="26.311"/><rect x="1701.68" y="770.17" width="26.311" height="26.311"/><rect x="1727.99" y="770.17" width="26.311" height="26.311"/><rect x="1754.30" y="770.17" width="26.311" height="26.311"/><rect x="1780.61" y="770.17" width="26.311" height="26.311"/><rect x="1806.92" y="770.17" width="26.311" height="26.311"/><rect x="544.00" y="796.48" width="26.311" height="26.311"/><rect x="570.31" y="796.48" width="26.311" height="26.311"/><rect x="596.62" y="796.48" width="26.311" height="26.311"/><rect x="622.93" y="796.48" width="26.311" height="26.311"/><rect x="649.24" y="796.48" width="26.311" height="26.311"/><rect x="675.55" y="796.48" width="26.311" height="26.311"/><rect x="701.86" y="796.48" width="26.311" height="26.311"/><rect x="728.17" y="796.48" width="26.311" height="26.311"/><rect x="754.48" y="796.48" width="26.311" height="26.311"/><rect x="780.79" y="796.48" width="26.311" height="26.311"/><rect x="807.11" y="796.48" width="26.311" height="26.311"/><rect x="833.42" y="796.48" width="26.311" height="26.311"/><rect x="859.73" y="796.48" width="26.311" height="26.311"/><rect x="886.04" y="796.48" width="26.311" height="26.311"/><rect x="964.97" y="796.48" width="26.311" height="26.311"/><rect x="991.28" y="796.48" width="26.311" height="26.311"/><rect x="1017.59" y="796.48" width="26.311" height="26.311"/><rect x="1043.90" y="796.48" width="26.311" height="26.311"/><rect x="1122.84" y="796.48" width="26.311" height="26.311"/><rect x="1149.15" y="796.48" width="26.311" height="26.311"/><rect x="1175.46" y="796.48" width="26.311" height="26.311"/><rect x="1201.77" y="796.48" width="26.311" height="26.311"/><rect x="1228.08" y="796.48" width="26.311" height="26.311"/><rect x="1254.39" y="796.48" width="26.311" height="26.311"/><rect x="1280.70" y="796.48" width="26.311" height="26.311"/><rect x="1307.01" y="796.48" width="26.311" height="26.311"/><rect x="1333.33" y="796.48" width="26.311" height="26.311"/><rect x="1359.64" y="796.48" width="26.311" height="26.311"/><rect x="1385.95" y="796.48" width="26.311" height="26.311"/><rect x="1412.26" y="796.48" width="26.311" height="26.311"/><rect x="1438.57" y="796.48" width="26.311" height="26.311"/><rect x="1464.88" y="796.48" width="26.311" height="26.311"/><rect x="1517.50" y="796.48" width="26.311" height="26.311"/><rect x="1596.44" y="796.48" width="26.311" height="26.311"/><rect x="1622.75" y="796.48" width="26.311" height="26.311"/><rect x="1675.37" y="796.48" width="26.311" height="26.311"/><rect x="1701.68" y="796.48" width="26.311" height="26.311"/><rect x="1727.99" y="796.48" width="26.311" height="26.311"/><rect x="1754.30" y="796.48" width="26.311" height="26.311"/><rect x="1780.61" y="796.48" width="26.311" height="26.311"/><rect x="1806.92" y="796.48" width="26.311" height="26.311"/><rect x="1833.23" y="796.48" width="26.311" height="26.311"/><rect x="1859.55" y="796.48" width="26.311" height="26.311"/><rect x="465.06" y="822.79" width="26.311" height="26.311"/><rect x="570.31" y="822.79" width="26.311" height="26.311"/><rect x="596.62" y="822.79" width="26.311" height="26.311"/><rect x="622.93" y="822.79" width="26.311" height="26.311"/><rect x="649.24" y="822.79" width="26.311" height="26.311"/><rect x="675.55" y="822.79" width="26.311" height="26.311"/><rect x="728.17" y="822.79" width="26.311" height="26.311"/><rect x="754.48" y="822.79" width="26.311" height="26.311"/><rect x="780.79" y="822.79" width="26.311" height="26.311"/><rect x="807.11" y="822.79" width="26.311" height="26.311"/><rect x="833.42" y="822.79" width="26.311" height="26.311"/><rect x="859.73" y="822.79" width="26.311" height="26.311"/><rect x="886.04" y="822.79" width="26.311" height="26.311"/><rect x="912.35" y="822.79" width="26.311" height="26.311"/><rect x="938.66" y="822.79" width="26.311" height="26.311"/><rect x="964.97" y="822.79" width="26.311" height="26.311"/><rect x="991.28" y="822.79" width="26.311" height="26.311"/><rect x="1017.59" y="822.79" width="26.311" height="26.311"/><rect x="1043.90" y="822.79" width="26.311" height="26.311"/><rect x="1070.22" y="822.79" width="26.311" height="26.311"/><rect x="1096.53" y="822.79" width="26.311" height="26.311"/><rect x="1122.84" y="822.79" width="26.311" height="26.311"/><rect x="1149.15" y="822.79" width="26.311" height="26.311"/><rect x="1175.46" y="822.79" width="26.311" height="26.311"/><rect x="1201.77" y="822.79" width="26.311" height="26.311"/><rect x="1228.08" y="822.79" width="26.311" height="26.311"/><rect x="1254.39" y="822.79" width="26.311" height="26.311"/><rect x="1280.70" y="822.79" width="26.311" height="26.311"/><rect x="1307.01" y="822.79" width="26.311" height="26.311"/><rect x="1333.33" y="822.79" width="26.311" height="26.311"/><rect x="1359.64" y="822.79" width="26.311" height="26.311"/><rect x="1385.95" y="822.79" width="26.311" height="26.311"/><rect x="1412.26" y="822.79" width="26.311" height="26.311"/><rect x="1438.57" y="822.79" width="26.311" height="26.311"/><rect x="1464.88" y="822.79" width="26.311" height="26.311"/><rect x="1491.19" y="822.79" width="26.311" height="26.311"/><rect x="1570.12" y="822.79" width="26.311" height="26.311"/><rect x="1596.44" y="822.79" width="26.311" height="26.311"/><rect x="1622.75" y="822.79" width="26.311" height="26.311"/><rect x="1649.06" y="822.79" width="26.311" height="26.311"/><rect x="1675.37" y="822.79" width="26.311" height="26.311"/><rect x="1701.68" y="822.79" width="26.311" height="26.311"/><rect x="1727.99" y="822.79" width="26.311" height="26.311"/><rect x="1754.30" y="822.79" width="26.311" height="26.311"/><rect x="1780.61" y="822.79" width="26.311" height="26.311"/><rect x="1806.92" y="822.79" width="26.311" height="26.311"/><rect x="1833.23" y="822.79" width="26.311" height="26.311"/><rect x="1859.55" y="822.79" width="26.311" height="26.311"/><rect x="465.06" y="849.11" width="26.311" height="26.311"/><rect x="491.37" y="849.11" width="26.311" height="26.311"/><rect x="570.31" y="849.11" width="26.311" height="26.311"/><rect x="596.62" y="849.11" width="26.311" height="26.311"/><rect x="622.93" y="849.11" width="26.311" height="26.311"/><rect x="649.24" y="849.11" width="26.311" height="26.311"/><rect x="675.55" y="849.11" width="26.311" height="26.311"/><rect x="701.86" y="849.11" width="26.311" height="26.311"/><rect x="754.48" y="849.11" width="26.311" height="26.311"/><rect x="780.79" y="849.11" width="26.311" height="26.311"/><rect x="807.11" y="849.11" width="26.311" height="26.311"/><rect x="833.42" y="849.11" width="26.311" height="26.311"/><rect x="859.73" y="849.11" width="26.311" height="26.311"/><rect x="886.04" y="849.11" width="26.311" height="26.311"/><rect x="912.35" y="849.11" width="26.311" height="26.311"/><rect x="938.66" y="849.11" width="26.311" height="26.311"/><rect x="991.28" y="849.11" width="26.311" height="26.311"/><rect x="1017.59" y="849.11" width="26.311" height="26.311"/><rect x="1043.90" y="849.11" width="26.311" height="26.311"/><rect x="1070.22" y="849.11" width="26.311" height="26.311"/><rect x="1096.53" y="849.11" width="26.311" height="26.311"/><rect x="1122.84" y="849.11" width="26.311" height="26.311"/><rect x="1149.15" y="849.11" width="26.311" height="26.311"/><rect x="1175.46" y="849.11" width="26.311" height="26.311"/><rect x="1201.77" y="849.11" width="26.311" height="26.311"/><rect x="1228.08" y="849.11" width="26.311" height="26.311"/><rect x="1254.39" y="849.11" width="26.311" height="26.311"/><rect x="1280.70" y="849.11" width="26.311" height="26.311"/><rect x="1307.01" y="849.11" width="26.311" height="26.311"/><rect x="1333.33" y="849.11" width="26.311" height="26.311"/><rect x="1359.64" y="849.11" width="26.311" height="26.311"/><rect x="1385.95" y="849.11" width="26.311" height="26.311"/><rect x="1412.26" y="849.11" width="26.311" height="26.311"/><rect x="1438.57" y="849.11" width="26.311" height="26.311"/><rect x="1464.88" y="849.11" width="26.311" height="26.311"/><rect x="1491.19" y="849.11" width="26.311" height="26.311"/><rect x="1517.50" y="849.11" width="26.311" height="26.311"/><rect x="1543.81" y="849.11" width="26.311" height="26.311"/><rect x="1570.12" y="849.11" width="26.311" height="26.311"/><rect x="1596.44" y="849.11" width="26.311" height="26.311"/><rect x="1622.75" y="849.11" width="26.311" height="26.311"/><rect x="1649.06" y="849.11" width="26.311" height="26.311"/><rect x="1675.37" y="849.11" width="26.311" height="26.311"/><rect x="1701.68" y="849.11" width="26.311" height="26.311"/><rect x="1727.99" y="849.11" width="26.311" height="26.311"/><rect x="1833.23" y="849.11" width="26.311" height="26.311"/><rect x="1859.55" y="849.11" width="26.311" height="26.311"/><rect x="465.06" y="875.42" width="26.311" height="26.311"/><rect x="491.37" y="875.42" width="26.311" height="26.311"/><rect x="517.69" y="875.42" width="26.311" height="26.311"/><rect x="544.00" y="875.42" width="26.311" height="26.311"/><rect x="570.31" y="875.42" width="26.311" height="26.311"/><rect x="596.62" y="875.42" width="26.311" height="26.311"/><rect x="622.93" y="875.42" width="26.311" height="26.311"/><rect x="649.24" y="875.42" width="26.311" height="26.311"/><rect x="675.55" y="875.42" width="26.311" height="26.311"/><rect x="701.86" y="875.42" width="26.311" height="26.311"/><rect x="728.17" y="875.42" width="26.311" height="26.311"/><rect x="754.48" y="875.42" width="26.311" height="26.311"/><rect x="780.79" y="875.42" width="26.311" height="26.311"/><rect x="807.11" y="875.42" width="26.311" height="26.311"/><rect x="833.42" y="875.42" width="26.311" height="26.311"/><rect x="859.73" y="875.42" width="26.311" height="26.311"/><rect x="886.04" y="875.42" width="26.311" height="26.311"/><rect x="912.35" y="875.42" width="26.311" height="26.311"/><rect x="938.66" y="875.42" width="26.311" height="26.311"/><rect x="964.97" y="875.42" width="26.311" height="26.311"/><rect x="991.28" y="875.42" width="26.311" height="26.311"/><rect x="1017.59" y="875.42" width="26.311" height="26.311"/><rect x="1043.90" y="875.42" width="26.311" height="26.311"/><rect x="1070.22" y="875.42" width="26.311" height="26.311"/><rect x="1096.53" y="875.42" width="26.311" height="26.311"/><rect x="1122.84" y="875.42" width="26.311" height="26.311"/><rect x="1149.15" y="875.42" width="26.311" height="26.311"/><rect x="1175.46" y="875.42" width="26.311" height="26.311"/><rect x="1201.77" y="875.42" width="26.311" height="26.311"/><rect x="1228.08" y="875.42" width="26.311" height="26.311"/><rect x="1254.39" y="875.42" width="26.311" height="26.311"/><rect x="1280.70" y="875.42" width="26.311" height="26.311"/><rect x="1307.01" y="875.42" width="26.311" height="26.311"/><rect x="1333.33" y="875.42" width="26.311" height="26.311"/><rect x="1359.64" y="875.42" width="26.311" height="26.311"/><rect x="1385.95" y="875.42" width="26.311" height="26.311"/><rect x="1412.26" y="875.42" width="26.311" height="26.311"/><rect x="1438.57" y="875.42" width="26.311" height="26.311"/><rect x="1464.88" y="875.42" width="26.311" height="26.311"/><rect x="1491.19" y="875.42" width="26.311" height="26.311"/><rect x="1517.50" y="875.42" width="26.311" height="26.311"/><rect x="1543.81" y="875.42" width="26.311" height="26.311"/><rect x="1570.12" y="875.42" width="26.311" height="26.311"/><rect x="1596.44" y="875.42" width="26.311" height="26.311"/><rect x="1622.75" y="875.42" width="26.311" height="26.311"/><rect x="1649.06" y="875.42" width="26.311" height="26.311"/><rect x="1675.37" y="875.42" width="26.311" height="26.311"/><rect x="1701.68" y="875.42" width="26.311" height="26.311"/><rect x="1727.99" y="875.42" width="26.311" height="26.311"/><rect x="1754.30" y="875.42" width="26.311" height="26.311"/><rect x="1780.61" y="875.42" width="26.311" height="26.311"/><rect x="1806.92" y="875.42" width="26.311" height="26.311"/><rect x="1833.23" y="875.42" width="26.311" height="26.311"/><rect x="465.06" y="901.73" width="26.311" height="26.311"/><rect x="491.37" y="901.73" width="26.311" height="26.311"/><rect x="517.69" y="901.73" width="26.311" height="26.311"/><rect x="544.00" y="901.73" width="26.311" height="26.311"/><rect x="570.31" y="901.73" width="26.311" height="26.311"/><rect x="596.62" y="901.73" width="26.311" height="26.311"/><rect x="622.93" y="901.73" width="26.311" height="26.311"/><rect x="649.24" y="901.73" width="26.311" height="26.311"/><rect x="675.55" y="901.73" width="26.311" height="26.311"/><rect x="701.86" y="901.73" width="26.311" height="26.311"/><rect x="728.17" y="901.73" width="26.311" height="26.311"/><rect x="754.48" y="901.73" width="26.311" height="26.311"/><rect x="780.79" y="901.73" width="26.311" height="26.311"/><rect x="807.11" y="901.73" width="26.311" height="26.311"/><rect x="833.42" y="901.73" width="26.311" height="26.311"/><rect x="859.73" y="901.73" width="26.311" height="26.311"/><rect x="886.04" y="901.73" width="26.311" height="26.311"/><rect x="912.35" y="901.73" width="26.311" height="26.311"/><rect x="938.66" y="901.73" width="26.311" height="26.311"/><rect x="964.97" y="901.73" width="26.311" height="26.311"/><rect x="991.28" y="901.73" width="26.311" height="26.311"/><rect x="1017.59" y="901.73" width="26.311" height="26.311"/><rect x="1043.90" y="901.73" width="26.311" height="26.311"/><rect x="1070.22" y="901.73" width="26.311" height="26.311"/><rect x="1096.53" y="901.73" width="26.311" height="26.311"/><rect x="1122.84" y="901.73" width="26.311" height="26.311"/><rect x="1149.15" y="901.73" width="26.311" height="26.311"/><rect x="1175.46" y="901.73" width="26.311" height="26.311"/><rect x="1201.77" y="901.73" width="26.311" height="26.311"/><rect x="1228.08" y="901.73" width="26.311" height="26.311"/><rect x="1254.39" y="901.73" width="26.311" height="26.311"/><rect x="1280.70" y="901.73" width="26.311" height="26.311"/><rect x="1307.01" y="901.73" width="26.311" height="26.311"/><rect x="1333.33" y="901.73" width="26.311" height="26.311"/><rect x="1359.64" y="901.73" width="26.311" height="26.311"/><rect x="1385.95" y="901.73" width="26.311" height="26.311"/><rect x="1412.26" y="901.73" width="26.311" height="26.311"/><rect x="1438.57" y="901.73" width="26.311" height="26.311"/><rect x="1464.88" y="901.73" width="26.311" height="26.311"/><rect x="1491.19" y="901.73" width="26.311" height="26.311"/><rect x="1517.50" y="901.73" width="26.311" height="26.311"/><rect x="1543.81" y="901.73" width="26.311" height="26.311"/><rect x="1570.12" y="901.73" width="26.311" height="26.311"/><rect x="1596.44" y="901.73" width="26.311" height="26.311"/><rect x="1622.75" y="901.73" width="26.311" height="26.311"/><rect x="1649.06" y="901.73" width="26.311" height="26.311"/><rect x="1675.37" y="901.73" width="26.311" height="26.311"/><rect x="1701.68" y="901.73" width="26.311" height="26.311"/><rect x="1727.99" y="901.73" width="26.311" height="26.311"/><rect x="1754.30" y="901.73" width="26.311" height="26.311"/><rect x="1780.61" y="901.73" width="26.311" height="26.311"/><rect x="1806.92" y="901.73" width="26.311" height="26.311"/><rect x="1833.23" y="901.73" width="26.311" height="26.311"/><rect x="1859.55" y="901.73" width="26.311" height="26.311"/><rect x="1885.86" y="901.73" width="26.311" height="26.311"/><rect x="1912.17" y="901.73" width="26.311" height="26.311"/><rect x="517.69" y="928.04" width="26.311" height="26.311"/><rect x="570.31" y="928.04" width="26.311" height="26.311"/><rect x="596.62" y="928.04" width="26.311" height="26.311"/><rect x="622.93" y="928.04" width="26.311" height="26.311"/><rect x="649.24" y="928.04" width="26.311" height="26.311"/><rect x="675.55" y="928.04" width="26.311" height="26.311"/><rect x="701.86" y="928.04" width="26.311" height="26.311"/><rect x="728.17" y="928.04" width="26.311" height="26.311"/><rect x="754.48" y="928.04" width="26.311" height="26.311"/><rect x="780.79" y="928.04" width="26.311" height="26.311"/><rect x="807.11" y="928.04" width="26.311" height="26.311"/><rect x="833.42" y="928.04" width="26.311" height="26.311"/><rect x="938.66" y="928.04" width="26.311" height="26.311"/><rect x="964.97" y="928.04" width="26.311" height="26.311"/><rect x="991.28" y="928.04" width="26.311" height="26.311"/><rect x="1043.90" y="928.04" width="26.311" height="26.311"/><rect x="1070.22" y="928.04" width="26.311" height="26.311"/><rect x="1096.53" y="928.04" width="26.311" height="26.311"/><rect x="1122.84" y="928.04" width="26.311" height="26.311"/><rect x="1149.15" y="928.04" width="26.311" height="26.311"/><rect x="1175.46" y="928.04" width="26.311" height="26.311"/><rect x="1201.77" y="928.04" width="26.311" height="26.311"/><rect x="1228.08" y="928.04" width="26.311" height="26.311"/><rect x="1254.39" y="928.04" width="26.311" height="26.311"/><rect x="1280.70" y="928.04" width="26.311" height="26.311"/><rect x="1307.01" y="928.04" width="26.311" height="26.311"/><rect x="1333.33" y="928.04" width="26.311" height="26.311"/><rect x="1359.64" y="928.04" width="26.311" height="26.311"/><rect x="1385.95" y="928.04" width="26.311" height="26.311"/><rect x="1412.26" y="928.04" width="26.311" height="26.311"/><rect x="1438.57" y="928.04" width="26.311" height="26.311"/><rect x="1464.88" y="928.04" width="26.311" height="26.311"/><rect x="1491.19" y="928.04" width="26.311" height="26.311"/><rect x="1517.50" y="928.04" width="26.311" height="26.311"/><rect x="1543.81" y="928.04" width="26.311" height="26.311"/><rect x="1570.12" y="928.04" width="26.311" height="26.311"/><rect x="1596.44" y="928.04" width="26.311" height="26.311"/><rect x="1622.75" y="928.04" width="26.311" height="26.311"/><rect x="1649.06" y="928.04" width="26.311" height="26.311"/><rect x="1675.37" y="928.04" width="26.311" height="26.311"/><rect x="1701.68" y="928.04" width="26.311" height="26.311"/><rect x="1727.99" y="928.04" width="26.311" height="26.311"/><rect x="1754.30" y="928.04" width="26.311" height="26.311"/><rect x="1780.61" y="928.04" width="26.311" height="26.311"/><rect x="1806.92" y="928.04" width="26.311" height="26.311"/><rect x="1833.23" y="928.04" width="26.311" height="26.311"/><rect x="1859.55" y="928.04" width="26.311" height="26.311"/><rect x="1885.86" y="928.04" width="26.311" height="26.311"/><rect x="1912.17" y="928.04" width="26.311" height="26.311"/><rect x="649.24" y="954.35" width="26.311" height="26.311"/><rect x="807.11" y="954.35" width="26.311" height="26.311"/><rect x="833.42" y="954.35" width="26.311" height="26.311"/><rect x="859.73" y="954.35" width="26.311" height="26.311"/><rect x="886.04" y="954.35" width="26.311" height="26.311"/><rect x="912.35" y="954.35" width="26.311" height="26.311"/><rect x="938.66" y="954.35" width="26.311" height="26.311"/><rect x="964.97" y="954.35" width="26.311" height="26.311"/><rect x="1070.22" y="954.35" width="26.311" height="26.311"/><rect x="1096.53" y="954.35" width="26.311" height="26.311"/><rect x="1122.84" y="954.35" width="26.311" height="26.311"/><rect x="1149.15" y="954.35" width="26.311" height="26.311"/><rect x="1175.46" y="954.35" width="26.311" height="26.311"/><rect x="1228.08" y="954.35" width="26.311" height="26.311"/><rect x="1254.39" y="954.35" width="26.311" height="26.311"/><rect x="1280.70" y="954.35" width="26.311" height="26.311"/><rect x="1307.01" y="954.35" width="26.311" height="26.311"/><rect x="1333.33" y="954.35" width="26.311" height="26.311"/><rect x="1359.64" y="954.35" width="26.311" height="26.311"/><rect x="1385.95" y="954.35" width="26.311" height="26.311"/><rect x="1412.26" y="954.35" width="26.311" height="26.311"/><rect x="1438.57" y="954.35" width="26.311" height="26.311"/><rect x="1464.88" y="954.35" width="26.311" height="26.311"/><rect x="1491.19" y="954.35" width="26.311" height="26.311"/><rect x="1517.50" y="954.35" width="26.311" height="26.311"/><rect x="1543.81" y="954.35" width="26.311" height="26.311"/><rect x="1570.12" y="954.35" width="26.311" height="26.311"/><rect x="1596.44" y="954.35" width="26.311" height="26.311"/><rect x="1622.75" y="954.35" width="26.311" height="26.311"/><rect x="1649.06" y="954.35" width="26.311" height="26.311"/><rect x="1675.37" y="954.35" width="26.311" height="26.311"/><rect x="1701.68" y="954.35" width="26.311" height="26.311"/><rect x="1727.99" y="954.35" width="26.311" height="26.311"/><rect x="1754.30" y="954.35" width="26.311" height="26.311"/><rect x="1780.61" y="954.35" width="26.311" height="26.311"/><rect x="1806.92" y="954.35" width="26.311" height="26.311"/><rect x="1833.23" y="954.35" width="26.311" height="26.311"/><rect x="1859.55" y="954.35" width="26.311" height="26.311"/><rect x="1885.86" y="954.35" width="26.311" height="26.311"/><rect x="1912.17" y="954.35" width="26.311" height="26.311"/><rect x="649.24" y="980.66" width="26.311" height="26.311"/><rect x="675.55" y="980.66" width="26.311" height="26.311"/><rect x="701.86" y="980.66" width="26.311" height="26.311"/><rect x="728.17" y="980.66" width="26.311" height="26.311"/><rect x="780.79" y="980.66" width="26.311" height="26.311"/><rect x="807.11" y="980.66" width="26.311" height="26.311"/><rect x="833.42" y="980.66" width="26.311" height="26.311"/><rect x="859.73" y="980.66" width="26.311" height="26.311"/><rect x="886.04" y="980.66" width="26.311" height="26.311"/><rect x="912.35" y="980.66" width="26.311" height="26.311"/><rect x="938.66" y="980.66" width="26.311" height="26.311"/><rect x="964.97" y="980.66" width="26.311" height="26.311"/><rect x="1070.22" y="980.66" width="26.311" height="26.311"/><rect x="1096.53" y="980.66" width="26.311" height="26.311"/><rect x="1122.84" y="980.66" width="26.311" height="26.311"/><rect x="1149.15" y="980.66" width="26.311" height="26.311"/><rect x="1175.46" y="980.66" width="26.311" height="26.311"/><rect x="1201.77" y="980.66" width="26.311" height="26.311"/><rect x="1228.08" y="980.66" width="26.311" height="26.311"/><rect x="1254.39" y="980.66" width="26.311" height="26.311"/><rect x="1280.70" y="980.66" width="26.311" height="26.311"/><rect x="1307.01" y="980.66" width="26.311" height="26.311"/><rect x="1333.33" y="980.66" width="26.311" height="26.311"/><rect x="1359.64" y="980.66" width="26.311" height="26.311"/><rect x="1385.95" y="980.66" width="26.311" height="26.311"/><rect x="1412.26" y="980.66" width="26.311" height="26.311"/><rect x="1438.57" y="980.66" width="26.311" height="26.311"/><rect x="1464.88" y="980.66" width="26.311" height="26.311"/><rect x="1491.19" y="980.66" width="26.311" height="26.311"/><rect x="1517.50" y="980.66" width="26.311" height="26.311"/><rect x="1543.81" y="980.66" width="26.311" height="26.311"/><rect x="1570.12" y="980.66" width="26.311" height="26.311"/><rect x="1596.44" y="980.66" width="26.311" height="26.311"/><rect x="1622.75" y="980.66" width="26.311" height="26.311"/><rect x="1649.06" y="980.66" width="26.311" height="26.311"/><rect x="1675.37" y="980.66" width="26.311" height="26.311"/><rect x="1701.68" y="980.66" width="26.311" height="26.311"/><rect x="1727.99" y="980.66" width="26.311" height="26.311"/><rect x="1754.30" y="980.66" width="26.311" height="26.311"/><rect x="1780.61" y="980.66" width="26.311" height="26.311"/><rect x="1806.92" y="980.66" width="26.311" height="26.311"/><rect x="1833.23" y="980.66" width="26.311" height="26.311"/><rect x="1859.55" y="980.66" width="26.311" height="26.311"/><rect x="1885.86" y="980.66" width="26.311" height="26.311"/><rect x="1912.17" y="980.66" width="26.311" height="26.311"/><rect x="649.24" y="1006.97" width="26.311" height="26.311"/><rect x="675.55" y="1006.97" width="26.311" height="26.311"/><rect x="701.86" y="1006.97" width="26.311" height="26.311"/><rect x="728.17" y="1006.97" width="26.311" height="26.311"/><rect x="754.48" y="1006.97" width="26.311" height="26.311"/><rect x="780.79" y="1006.97" width="26.311" height="26.311"/><rect x="807.11" y="1006.97" width="26.311" height="26.311"/><rect x="833.42" y="1006.97" width="26.311" height="26.311"/><rect x="859.73" y="1006.97" width="26.311" height="26.311"/><rect x="886.04" y="1006.97" width="26.311" height="26.311"/><rect x="912.35" y="1006.97" width="26.311" height="26.311"/><rect x="938.66" y="1006.97" width="26.311" height="26.311"/><rect x="964.97" y="1006.97" width="26.311" height="26.311"/><rect x="1017.59" y="1006.97" width="26.311" height="26.311"/><rect x="1043.90" y="1006.97" width="26.311" height="26.311"/><rect x="1070.22" y="1006.97" width="26.311" height="26.311"/><rect x="1096.53" y="1006.97" width="26.311" height="26.311"/><rect x="1122.84" y="1006.97" width="26.311" height="26.311"/><rect x="1149.15" y="1006.97" width="26.311" height="26.311"/><rect x="1175.46" y="1006.97" width="26.311" height="26.311"/><rect x="1201.77" y="1006.97" width="26.311" height="26.311"/><rect x="1228.08" y="1006.97" width="26.311" height="26.311"/><rect x="1254.39" y="1006.97" width="26.311" height="26.311"/><rect x="1280.70" y="1006.97" width="26.311" height="26.311"/><rect x="1307.01" y="1006.97" width="26.311" height="26.311"/><rect x="1333.33" y="1006.97" width="26.311" height="26.311"/><rect x="1359.64" y="1006.97" width="26.311" height="26.311"/><rect x="1385.95" y="1006.97" width="26.311" height="26.311"/><rect x="1412.26" y="1006.97" width="26.311" height="26.311"/><rect x="1438.57" y="1006.97" width="26.311" height="26.311"/><rect x="1464.88" y="1006.97" width="26.311" height="26.311"/><rect x="1491.19" y="1006.97" width="26.311" height="26.311"/><rect x="1517.50" y="1006.97" width="26.311" height="26.311"/><rect x="1543.81" y="1006.97" width="26.311" height="26.311"/><rect x="1570.12" y="1006.97" width="26.311" height="26.311"/><rect x="1596.44" y="1006.97" width="26.311" height="26.311"/><rect x="1622.75" y="1006.97" width="26.311" height="26.311"/><rect x="1649.06" y="1006.97" width="26.311" height="26.311"/><rect x="1675.37" y="1006.97" width="26.311" height="26.311"/><rect x="1701.68" y="1006.97" width="26.311" height="26.311"/><rect x="1727.99" y="1006.97" width="26.311" height="26.311"/><rect x="1754.30" y="1006.97" width="26.311" height="26.311"/><rect x="1780.61" y="1006.97" width="26.311" height="26.311"/><rect x="1806.92" y="1006.97" width="26.311" height="26.311"/><rect x="1833.23" y="1006.97" width="26.311" height="26.311"/><rect x="1859.55" y="1006.97" width="26.311" height="26.311"/><rect x="1885.86" y="1006.97" width="26.311" height="26.311"/><rect x="1912.17" y="1006.97" width="26.311" height="26.311"/><rect x="1938.48" y="1006.97" width="26.311" height="26.311"/><rect x="649.24" y="1033.28" width="26.311" height="26.311"/><rect x="675.55" y="1033.28" width="26.311" height="26.311"/><rect x="701.86" y="1033.28" width="26.311" height="26.311"/><rect x="728.17" y="1033.28" width="26.311" height="26.311"/><rect x="754.48" y="1033.28" width="26.311" height="26.311"/><rect x="780.79" y="1033.28" width="26.311" height="26.311"/><rect x="807.11" y="1033.28" width="26.311" height="26.311"/><rect x="833.42" y="1033.28" width="26.311" height="26.311"/><rect x="859.73" y="1033.28" width="26.311" height="26.311"/><rect x="886.04" y="1033.28" width="26.311" height="26.311"/><rect x="912.35" y="1033.28" width="26.311" height="26.311"/><rect x="938.66" y="1033.28" width="26.311" height="26.311"/><rect x="964.97" y="1033.28" width="26.311" height="26.311"/><rect x="991.28" y="1033.28" width="26.311" height="26.311"/><rect x="1017.59" y="1033.28" width="26.311" height="26.311"/><rect x="1043.90" y="1033.28" width="26.311" height="26.311"/><rect x="1070.22" y="1033.28" width="26.311" height="26.311"/><rect x="1096.53" y="1033.28" width="26.311" height="26.311"/><rect x="1122.84" y="1033.28" width="26.311" height="26.311"/><rect x="1149.15" y="1033.28" width="26.311" height="26.311"/><rect x="1175.46" y="1033.28" width="26.311" height="26.311"/><rect x="1201.77" y="1033.28" width="26.311" height="26.311"/><rect x="1228.08" y="1033.28" width="26.311" height="26.311"/><rect x="1254.39" y="1033.28" width="26.311" height="26.311"/><rect x="1280.70" y="1033.28" width="26.311" height="26.311"/><rect x="1307.01" y="1033.28" width="26.311" height="26.311"/><rect x="1333.33" y="1033.28" width="26.311" height="26.311"/><rect x="1359.64" y="1033.28" width="26.311" height="26.311"/><rect x="1385.95" y="1033.28" width="26.311" height="26.311"/><rect x="1412.26" y="1033.28" width="26.311" height="26.311"/><rect x="1438.57" y="1033.28" width="26.311" height="26.311"/><rect x="1464.88" y="1033.28" width="26.311" height="26.311"/><rect x="1491.19" y="1033.28" width="26.311" height="26.311"/><rect x="1517.50" y="1033.28" width="26.311" height="26.311"/><rect x="1543.81" y="1033.28" width="26.311" height="26.311"/><rect x="1570.12" y="1033.28" width="26.311" height="26.311"/><rect x="1596.44" y="1033.28" width="26.311" height="26.311"/><rect x="1622.75" y="1033.28" width="26.311" height="26.311"/><rect x="1649.06" y="1033.28" width="26.311" height="26.311"/><rect x="1675.37" y="1033.28" width="26.311" height="26.311"/><rect x="1701.68" y="1033.28" width="26.311" height="26.311"/><rect x="1727.99" y="1033.28" width="26.311" height="26.311"/><rect x="1754.30" y="1033.28" width="26.311" height="26.311"/><rect x="1780.61" y="1033.28" width="26.311" height="26.311"/><rect x="1806.92" y="1033.28" width="26.311" height="26.311"/><rect x="1833.23" y="1033.28" width="26.311" height="26.311"/><rect x="1859.55" y="1033.28" width="26.311" height="26.311"/><rect x="1885.86" y="1033.28" width="26.311" height="26.311"/><rect x="1912.17" y="1033.28" width="26.311" height="26.311"/><rect x="1938.48" y="1033.28" width="26.311" height="26.311"/><rect x="649.24" y="1059.59" width="26.311" height="26.311"/><rect x="675.55" y="1059.59" width="26.311" height="26.311"/><rect x="833.42" y="1059.59" width="26.311" height="26.311"/><rect x="859.73" y="1059.59" width="26.311" height="26.311"/><rect x="886.04" y="1059.59" width="26.311" height="26.311"/><rect x="912.35" y="1059.59" width="26.311" height="26.311"/><rect x="938.66" y="1059.59" width="26.311" height="26.311"/><rect x="964.97" y="1059.59" width="26.311" height="26.311"/><rect x="991.28" y="1059.59" width="26.311" height="26.311"/><rect x="1017.59" y="1059.59" width="26.311" height="26.311"/><rect x="1043.90" y="1059.59" width="26.311" height="26.311"/><rect x="1070.22" y="1059.59" width="26.311" height="26.311"/><rect x="1096.53" y="1059.59" width="26.311" height="26.311"/><rect x="1122.84" y="1059.59" width="26.311" height="26.311"/><rect x="1149.15" y="1059.59" width="26.311" height="26.311"/><rect x="1175.46" y="1059.59" width="26.311" height="26.311"/><rect x="1201.77" y="1059.59" width="26.311" height="26.311"/><rect x="1228.08" y="1059.59" width="26.311" height="26.311"/><rect x="1254.39" y="1059.59" width="26.311" height="26.311"/><rect x="1280.70" y="1059.59" width="26.311" height="26.311"/><rect x="1307.01" y="1059.59" width="26.311" height="26.311"/><rect x="1333.33" y="1059.59" width="26.311" height="26.311"/><rect x="1359.64" y="1059.59" width="26.311" height="26.311"/><rect x="1385.95" y="1059.59" width="26.311" height="26.311"/><rect x="1412.26" y="1059.59" width="26.311" height="26.311"/><rect x="1438.57" y="1059.59" width="26.311" height="26.311"/><rect x="1464.88" y="1059.59" width="26.311" height="26.311"/><rect x="1491.19" y="1059.59" width="26.311" height="26.311"/><rect x="1517.50" y="1059.59" width="26.311" height="26.311"/><rect x="1543.81" y="1059.59" width="26.311" height="26.311"/><rect x="1570.12" y="1059.59" width="26.311" height="26.311"/><rect x="1596.44" y="1059.59" width="26.311" height="26.311"/><rect x="1622.75" y="1059.59" width="26.311" height="26.311"/><rect x="1649.06" y="1059.59" width="26.311" height="26.311"/><rect x="1675.37" y="1059.59" width="26.311" height="26.311"/><rect x="1701.68" y="1059.59" width="26.311" height="26.311"/><rect x="1727.99" y="1059.59" width="26.311" height="26.311"/><rect x="1754.30" y="1059.59" width="26.311" height="26.311"/><rect x="1780.61" y="1059.59" width="26.311" height="26.311"/><rect x="1806.92" y="1059.59" width="26.311" height="26.311"/><rect x="1833.23" y="1059.59" width="26.311" height="26.311"/><rect x="1859.55" y="1059.59" width="26.311" height="26.311"/><rect x="1885.86" y="1059.59" width="26.311" height="26.311"/><rect x="859.73" y="1085.90" width="26.311" height="26.311"/><rect x="886.04" y="1085.90" width="26.311" height="26.311"/><rect x="912.35" y="1085.90" width="26.311" height="26.311"/><rect x="938.66" y="1085.90" width="26.311" height="26.311"/><rect x="964.97" y="1085.90" width="26.311" height="26.311"/><rect x="991.28" y="1085.90" width="26.311" height="26.311"/><rect x="1017.59" y="1085.90" width="26.311" height="26.311"/><rect x="1043.90" y="1085.90" width="26.311" height="26.311"/><rect x="1070.22" y="1085.90" width="26.311" height="26.311"/><rect x="1096.53" y="1085.90" width="26.311" height="26.311"/><rect x="1122.84" y="1085.90" width="26.311" height="26.311"/><rect x="1149.15" y="1085.90" width="26.311" height="26.311"/><rect x="1175.46" y="1085.90" width="26.311" height="26.311"/><rect x="1201.77" y="1085.90" width="26.311" height="26.311"/><rect x="1228.08" y="1085.90" width="26.311" height="26.311"/><rect x="1254.39" y="1085.90" width="26.311" height="26.311"/><rect x="1280.70" y="1085.90" width="26.311" height="26.311"/><rect x="1307.01" y="1085.90" width="26.311" height="26.311"/><rect x="1333.33" y="1085.90" width="26.311" height="26.311"/><rect x="1359.64" y="1085.90" width="26.311" height="26.311"/><rect x="1385.95" y="1085.90" width="26.311" height="26.311"/><rect x="1412.26" y="1085.90" width="26.311" height="26.311"/><rect x="1438.57" y="1085.90" width="26.311" height="26.311"/><rect x="1464.88" y="1085.90" width="26.311" height="26.311"/><rect x="1491.19" y="1085.90" width="26.311" height="26.311"/><rect x="1517.50" y="1085.90" width="26.311" height="26.311"/><rect x="1543.81" y="1085.90" width="26.311" height="26.311"/><rect x="1570.12" y="1085.90" width="26.311" height="26.311"/><rect x="1596.44" y="1085.90" width="26.311" height="26.311"/><rect x="1622.75" y="1085.90" width="26.311" height="26.311"/><rect x="1649.06" y="1085.90" width="26.311" height="26.311"/><rect x="1675.37" y="1085.90" width="26.311" height="26.311"/><rect x="1701.68" y="1085.90" width="26.311" height="26.311"/><rect x="1727.99" y="1085.90" width="26.311" height="26.311"/><rect x="1754.30" y="1085.90" width="26.311" height="26.311"/><rect x="1780.61" y="1085.90" width="26.311" height="26.311"/><rect x="1806.92" y="1085.90" width="26.311" height="26.311"/><rect x="1833.23" y="1085.90" width="26.311" height="26.311"/><rect x="1859.55" y="1085.90" width="26.311" height="26.311"/><rect x="1885.86" y="1085.90" width="26.311" height="26.311"/><rect x="859.73" y="1112.22" width="26.311" height="26.311"/><rect x="886.04" y="1112.22" width="26.311" height="26.311"/><rect x="912.35" y="1112.22" width="26.311" height="26.311"/><rect x="938.66" y="1112.22" width="26.311" height="26.311"/><rect x="964.97" y="1112.22" width="26.311" height="26.311"/><rect x="991.28" y="1112.22" width="26.311" height="26.311"/><rect x="1017.59" y="1112.22" width="26.311" height="26.311"/><rect x="1043.90" y="1112.22" width="26.311" height="26.311"/><rect x="1070.22" y="1112.22" width="26.311" height="26.311"/><rect x="1096.53" y="1112.22" width="26.311" height="26.311"/><rect x="1122.84" y="1112.22" width="26.311" height="26.311"/><rect x="1149.15" y="1112.22" width="26.311" height="26.311"/><rect x="1175.46" y="1112.22" width="26.311" height="26.311"/><rect x="1201.77" y="1112.22" width="26.311" height="26.311"/><rect x="1228.08" y="1112.22" width="26.311" height="26.311"/><rect x="1254.39" y="1112.22" width="26.311" height="26.311"/><rect x="1280.70" y="1112.22" width="26.311" height="26.311"/><rect x="1307.01" y="1112.22" width="26.311" height="26.311"/><rect x="1333.33" y="1112.22" width="26.311" height="26.311"/><rect x="1359.64" y="1112.22" width="26.311" height="26.311"/><rect x="1385.95" y="1112.22" width="26.311" height="26.311"/><rect x="1412.26" y="1112.22" width="26.311" height="26.311"/><rect x="1438.57" y="1112.22" width="26.311" height="26.311"/><rect x="1464.88" y="1112.22" width="26.311" height="26.311"/><rect x="1491.19" y="1112.22" width="26.311" height="26.311"/><rect x="1517.50" y="1112.22" width="26.311" height="26.311"/><rect x="1543.81" y="1112.22" width="26.311" height="26.311"/><rect x="1570.12" y="1112.22" width="26.311" height="26.311"/><rect x="1596.44" y="1112.22" width="26.311" height="26.311"/><rect x="1622.75" y="1112.22" width="26.311" height="26.311"/><rect x="1649.06" y="1112.22" width="26.311" height="26.311"/><rect x="1675.37" y="1112.22" width="26.311" height="26.311"/><rect x="1701.68" y="1112.22" width="26.311" height="26.311"/><rect x="1727.99" y="1112.22" width="26.311" height="26.311"/><rect x="1754.30" y="1112.22" width="26.311" height="26.311"/><rect x="1780.61" y="1112.22" width="26.311" height="26.311"/><rect x="1806.92" y="1112.22" width="26.311" height="26.311"/><rect x="1833.23" y="1112.22" width="26.311" height="26.311"/><rect x="859.73" y="1138.53" width="26.311" height="26.311"/><rect x="886.04" y="1138.53" width="26.311" height="26.311"/><rect x="912.35" y="1138.53" width="26.311" height="26.311"/><rect x="938.66" y="1138.53" width="26.311" height="26.311"/><rect x="964.97" y="1138.53" width="26.311" height="26.311"/><rect x="991.28" y="1138.53" width="26.311" height="26.311"/><rect x="1017.59" y="1138.53" width="26.311" height="26.311"/><rect x="1043.90" y="1138.53" width="26.311" height="26.311"/><rect x="1070.22" y="1138.53" width="26.311" height="26.311"/><rect x="1096.53" y="1138.53" width="26.311" height="26.311"/><rect x="1122.84" y="1138.53" width="26.311" height="26.311"/><rect x="1149.15" y="1138.53" width="26.311" height="26.311"/><rect x="1175.46" y="1138.53" width="26.311" height="26.311"/><rect x="1201.77" y="1138.53" width="26.311" height="26.311"/><rect x="1228.08" y="1138.53" width="26.311" height="26.311"/><rect x="1254.39" y="1138.53" width="26.311" height="26.311"/><rect x="1280.70" y="1138.53" width="26.311" height="26.311"/><rect x="1307.01" y="1138.53" width="26.311" height="26.311"/><rect x="1333.33" y="1138.53" width="26.311" height="26.311"/><rect x="1359.64" y="1138.53" width="26.311" height="26.311"/><rect x="1385.95" y="1138.53" width="26.311" height="26.311"/><rect x="1412.26" y="1138.53" width="26.311" height="26.311"/><rect x="1438.57" y="1138.53" width="26.311" height="26.311"/><rect x="1464.88" y="1138.53" width="26.311" height="26.311"/><rect x="1491.19" y="1138.53" width="26.311" height="26.311"/><rect x="1517.50" y="1138.53" width="26.311" height="26.311"/><rect x="1543.81" y="1138.53" width="26.311" height="26.311"/><rect x="1570.12" y="1138.53" width="26.311" height="26.311"/><rect x="1596.44" y="1138.53" width="26.311" height="26.311"/><rect x="1622.75" y="1138.53" width="26.311" height="26.311"/><rect x="1649.06" y="1138.53" width="26.311" height="26.311"/><rect x="1675.37" y="1138.53" width="26.311" height="26.311"/><rect x="1701.68" y="1138.53" width="26.311" height="26.311"/><rect x="1727.99" y="1138.53" width="26.311" height="26.311"/><rect x="1754.30" y="1138.53" width="26.311" height="26.311"/><rect x="1780.61" y="1138.53" width="26.311" height="26.311"/><rect x="1806.92" y="1138.53" width="26.311" height="26.311"/><rect x="1833.23" y="1138.53" width="26.311" height="26.311"/><rect x="859.73" y="1164.84" width="26.311" height="26.311"/><rect x="886.04" y="1164.84" width="26.311" height="26.311"/><rect x="912.35" y="1164.84" width="26.311" height="26.311"/><rect x="938.66" y="1164.84" width="26.311" height="26.311"/><rect x="964.97" y="1164.84" width="26.311" height="26.311"/><rect x="991.28" y="1164.84" width="26.311" height="26.311"/><rect x="1017.59" y="1164.84" width="26.311" height="26.311"/><rect x="1043.90" y="1164.84" width="26.311" height="26.311"/><rect x="1070.22" y="1164.84" width="26.311" height="26.311"/><rect x="1096.53" y="1164.84" width="26.311" height="26.311"/><rect x="1122.84" y="1164.84" width="26.311" height="26.311"/><rect x="1149.15" y="1164.84" width="26.311" height="26.311"/><rect x="1175.46" y="1164.84" width="26.311" height="26.311"/><rect x="1201.77" y="1164.84" width="26.311" height="26.311"/><rect x="1228.08" y="1164.84" width="26.311" height="26.311"/><rect x="1254.39" y="1164.84" width="26.311" height="26.311"/><rect x="1280.70" y="1164.84" width="26.311" height="26.311"/><rect x="1307.01" y="1164.84" width="26.311" height="26.311"/><rect x="1333.33" y="1164.84" width="26.311" height="26.311"/><rect x="1359.64" y="1164.84" width="26.311" height="26.311"/><rect x="1385.95" y="1164.84" width="26.311" height="26.311"/><rect x="1412.26" y="1164.84" width="26.311" height="26.311"/><rect x="1438.57" y="1164.84" width="26.311" height="26.311"/><rect x="1464.88" y="1164.84" width="26.311" height="26.311"/><rect x="1491.19" y="1164.84" width="26.311" height="26.311"/><rect x="1517.50" y="1164.84" width="26.311" height="26.311"/><rect x="1543.81" y="1164.84" width="26.311" height="26.311"/><rect x="1570.12" y="1164.84" width="26.311" height="26.311"/><rect x="1596.44" y="1164.84" width="26.311" height="26.311"/><rect x="1622.75" y="1164.84" width="26.311" height="26.311"/><rect x="1649.06" y="1164.84" width="26.311" height="26.311"/><rect x="1675.37" y="1164.84" width="26.311" height="26.311"/><rect x="1701.68" y="1164.84" width="26.311" height="26.311"/><rect x="1727.99" y="1164.84" width="26.311" height="26.311"/><rect x="1754.30" y="1164.84" width="26.311" height="26.311"/><rect x="1780.61" y="1164.84" width="26.311" height="26.311"/><rect x="1806.92" y="1164.84" width="26.311" height="26.311"/><rect x="1833.23" y="1164.84" width="26.311" height="26.311"/><rect x="859.73" y="1191.15" width="26.311" height="26.311"/><rect x="886.04" y="1191.15" width="26.311" height="26.311"/><rect x="912.35" y="1191.15" width="26.311" height="26.311"/><rect x="938.66" y="1191.15" width="26.311" height="26.311"/><rect x="964.97" y="1191.15" width="26.311" height="26.311"/><rect x="991.28" y="1191.15" width="26.311" height="26.311"/><rect x="1017.59" y="1191.15" width="26.311" height="26.311"/><rect x="1043.90" y="1191.15" width="26.311" height="26.311"/><rect x="1070.22" y="1191.15" width="26.311" height="26.311"/><rect x="1096.53" y="1191.15" width="26.311" height="26.311"/><rect x="1122.84" y="1191.15" width="26.311" height="26.311"/><rect x="1149.15" y="1191.15" width="26.311" height="26.311"/><rect x="1175.46" y="1191.15" width="26.311" height="26.311"/><rect x="1201.77" y="1191.15" width="26.311" height="26.311"/><rect x="1228.08" y="1191.15" width="26.311" height="26.311"/><rect x="1254.39" y="1191.15" width="26.311" height="26.311"/><rect x="1280.70" y="1191.15" width="26.311" height="26.311"/><rect x="1307.01" y="1191.15" width="26.311" height="26.311"/><rect x="1333.33" y="1191.15" width="26.311" height="26.311"/><rect x="1359.64" y="1191.15" width="26.311" height="26.311"/><rect x="1385.95" y="1191.15" width="26.311" height="26.311"/><rect x="1412.26" y="1191.15" width="26.311" height="26.311"/><rect x="1438.57" y="1191.15" width="26.311" height="26.311"/><rect x="1464.88" y="1191.15" width="26.311" height="26.311"/><rect x="1491.19" y="1191.15" width="26.311" height="26.311"/><rect x="1517.50" y="1191.15" width="26.311" height="26.311"/><rect x="1570.12" y="1191.15" width="26.311" height="26.311"/><rect x="1596.44" y="1191.15" width="26.311" height="26.311"/><rect x="1622.75" y="1191.15" width="26.311" height="26.311"/><rect x="1649.06" y="1191.15" width="26.311" height="26.311"/><rect x="1675.37" y="1191.15" width="26.311" height="26.311"/><rect x="1701.68" y="1191.15" width="26.311" height="26.311"/><rect x="1727.99" y="1191.15" width="26.311" height="26.311"/><rect x="886.04" y="1217.46" width="26.311" height="26.311"/><rect x="912.35" y="1217.46" width="26.311" height="26.311"/><rect x="938.66" y="1217.46" width="26.311" height="26.311"/><rect x="964.97" y="1217.46" width="26.311" height="26.311"/><rect x="991.28" y="1217.46" width="26.311" height="26.311"/><rect x="1017.59" y="1217.46" width="26.311" height="26.311"/><rect x="1043.90" y="1217.46" width="26.311" height="26.311"/><rect x="1070.22" y="1217.46" width="26.311" height="26.311"/><rect x="1096.53" y="1217.46" width="26.311" height="26.311"/><rect x="1122.84" y="1217.46" width="26.311" height="26.311"/><rect x="1149.15" y="1217.46" width="26.311" height="26.311"/><rect x="1175.46" y="1217.46" width="26.311" height="26.311"/><rect x="1201.77" y="1217.46" width="26.311" height="26.311"/><rect x="1228.08" y="1217.46" width="26.311" height="26.311"/><rect x="1280.70" y="1217.46" width="26.311" height="26.311"/><rect x="1307.01" y="1217.46" width="26.311" height="26.311"/><rect x="1333.33" y="1217.46" width="26.311" height="26.311"/><rect x="1359.64" y="1217.46" width="26.311" height="26.311"/><rect x="1385.95" y="1217.46" width="26.311" height="26.311"/><rect x="1491.19" y="1217.46" width="26.311" height="26.311"/><rect x="1596.44" y="1217.46" width="26.311" height="26.311"/><rect x="1622.75" y="1217.46" width="26.311" height="26.311"/><rect x="1649.06" y="1217.46" width="26.311" height="26.311"/><rect x="1675.37" y="1217.46" width="26.311" height="26.311"/><rect x="1701.68" y="1217.46" width="26.311" height="26.311"/><rect x="859.73" y="1243.77" width="26.311" height="26.311"/><rect x="886.04" y="1243.77" width="26.311" height="26.311"/><rect x="912.35" y="1243.77" width="26.311" height="26.311"/><rect x="938.66" y="1243.77" width="26.311" height="26.311"/><rect x="964.97" y="1243.77" width="26.311" height="26.311"/><rect x="991.28" y="1243.77" width="26.311" height="26.311"/><rect x="1017.59" y="1243.77" width="26.311" height="26.311"/><rect x="1043.90" y="1243.77" width="26.311" height="26.311"/><rect x="1070.22" y="1243.77" width="26.311" height="26.311"/><rect x="1096.53" y="1243.77" width="26.311" height="26.311"/><rect x="1122.84" y="1243.77" width="26.311" height="26.311"/><rect x="1149.15" y="1243.77" width="26.311" height="26.311"/><rect x="1175.46" y="1243.77" width="26.311" height="26.311"/><rect x="1570.12" y="1243.77" width="26.311" height="26.311"/><rect x="1596.44" y="1243.77" width="26.311" height="26.311"/><rect x="1649.06" y="1243.77" width="26.311" height="26.311"/><rect x="1675.37" y="1243.77" width="26.311" height="26.311"/><rect x="859.73" y="1270.08" width="26.311" height="26.311"/><rect x="886.04" y="1270.08" width="26.311" height="26.311"/><rect x="912.35" y="1270.08" width="26.311" height="26.311"/><rect x="938.66" y="1270.08" width="26.311" height="26.311"/><rect x="964.97" y="1270.08" width="26.311" height="26.311"/><rect x="991.28" y="1270.08" width="26.311" height="26.311"/><rect x="1017.59" y="1270.08" width="26.311" height="26.311"/><rect x="1043.90" y="1270.08" width="26.311" height="26.311"/><rect x="1070.22" y="1270.08" width="26.311" height="26.311"/><rect x="1096.53" y="1270.08" width="26.311" height="26.311"/><rect x="1543.81" y="1270.08" width="26.311" height="26.311"/><rect x="1596.44" y="1270.08" width="26.311" height="26.311"/><rect x="1622.75" y="1270.08" width="26.311" height="26.311"/><rect x="1649.06" y="1270.08" width="26.311" height="26.311"/><rect x="859.73" y="1296.39" width="26.311" height="26.311"/><rect x="886.04" y="1296.39" width="26.311" height="26.311"/><rect x="912.35" y="1296.39" width="26.311" height="26.311"/><rect x="938.66" y="1296.39" width="26.311" height="26.311"/><rect x="964.97" y="1296.39" width="26.311" height="26.311"/><rect x="991.28" y="1296.39" width="26.311" height="26.311"/><rect x="1017.59" y="1296.39" width="26.311" height="26.311"/><rect x="1043.90" y="1296.39" width="26.311" height="26.311"/><rect x="1070.22" y="1296.39" width="26.311" height="26.311"/><rect x="1096.53" y="1296.39" width="26.311" height="26.311"/><rect x="1254.39" y="1296.39" width="26.311" height="26.311"/><rect x="1385.95" y="1296.39" width="26.311" height="26.311"/><rect x="1464.88" y="1296.39" width="26.311" height="26.311"/><rect x="1570.12" y="1296.39" width="26.311" height="26.311"/><rect x="1596.44" y="1296.39" width="26.311" height="26.311"/><rect x="1622.75" y="1296.39" width="26.311" height="26.311"/><rect x="886.04" y="1322.70" width="26.311" height="26.311"/><rect x="912.35" y="1322.70" width="26.311" height="26.311"/><rect x="964.97" y="1322.70" width="26.311" height="26.311"/><rect x="991.28" y="1322.70" width="26.311" height="26.311"/><rect x="1017.59" y="1322.70" width="26.311" height="26.311"/><rect x="1043.90" y="1322.70" width="26.311" height="26.311"/><rect x="1070.22" y="1322.70" width="26.311" height="26.311"/><rect x="1385.95" y="1349.01" width="26.311" height="26.311"/><rect x="1438.57" y="1349.01" width="26.311" height="26.311"/><rect x="1464.88" y="1349.01" width="26.311" height="26.311"/><rect x="1543.81" y="1349.01" width="26.311" height="26.311"/><rect x="1385.95" y="1375.33" width="26.311" height="26.311"/><rect x="1491.19" y="1375.33" width="26.311" height="26.311"/><rect x="1517.50" y="1375.33" width="26.311" height="26.311"/><rect x="1543.81" y="1375.33" width="26.311" height="26.311"/><rect x="1412.26" y="1401.64" width="26.311" height="26.311"/><rect x="1438.57" y="1401.64" width="26.311" height="26.311"/><rect x="1464.88" y="1401.64" width="26.311" height="26.311"/><rect x="1491.19" y="1401.64" width="26.311" height="26.311"/><rect x="1517.50" y="1401.64" width="26.311" height="26.311"/><rect x="1649.06" y="1454.26" width="26.311" height="26.311"/><rect x="1675.37" y="1454.26" width="26.311" height="26.311"/><rect x="1543.81" y="1480.57" width="26.311" height="26.311"/><rect x="1570.12" y="1480.57" width="26.311" height="26.311"/><rect x="1596.44" y="1480.57" width="26.311" height="26.311"/><rect x="1622.75" y="1480.57" width="26.311" height="26.311"/><rect x="1464.88" y="1506.88" width="26.311" height="26.311"/><rect x="1491.19" y="1506.88" width="26.311" height="26.311"/><rect x="1517.50" y="1506.88" width="26.311" height="26.311"/><rect x="1543.81" y="1506.88" width="26.311" height="26.311"/><rect x="1570.12" y="1506.88" width="26.311" height="26.311"/><rect x="1596.44" y="1506.88" width="26.311" height="26.311"/><rect x="1622.75" y="1506.88" width="26.311" height="26.311"/><rect x="1649.06" y="1506.88" width="26.311" height="26.311"/><rect x="1675.37" y="1506.88" width="26.311" height="26.311"/><rect x="1649.06" y="1533.19" width="26.311" height="26.311"/><rect x="1675.37" y="1533.19" width="26.311" height="26.311"/><rect x="1701.68" y="1533.19" width="26.311" height="26.311"/><rect x="1675.37" y="1559.50" width="26.311" height="26.311"/><rect x="1701.68" y="1559.50" width="26.311" height="26.311"/><rect x="1517.50" y="1585.81" width="26.311" height="26.311"/><rect x="1543.81" y="1585.81" width="26.311" height="26.311"/><rect x="1596.44" y="1585.81" width="26.311" height="26.311"/><rect x="1622.75" y="1585.81" width="26.311" height="26.311"/><rect x="1649.06" y="1585.81" width="26.311" height="26.311"/><rect x="1675.37" y="1585.81" width="26.311" height="26.311"/><rect x="1701.68" y="1585.81" width="26.311" height="26.311"/><rect x="1517.50" y="1612.12" width="26.311" height="26.311"/><rect x="1543.81" y="1612.12" width="26.311" height="26.311"/><rect x="1570.12" y="1612.12" width="26.311" height="26.311"/><rect x="1596.44" y="1612.12" width="26.311" height="26.311"/><rect x="1649.06" y="1612.12" width="26.311" height="26.311"/><rect x="1675.37" y="1612.12" width="26.311" height="26.311"/></g><g fill="#f7fbff"><rect x="938.66" y="296.58" width="26.311" height="26.311"/><rect x="938.66" y="322.89" width="26.311" height="26.311"/><rect x="964.97" y="322.89" width="26.311" height="26.311"/><rect x="912.35" y="349.20" width="26.311" height="26.311"/><rect x="938.66" y="349.20" width="26.311" height="26.311"/><rect x="964.97" y="349.20" width="26.311" height="26.311"/><rect x="991.28" y="349.20" width="26.311" height="26.311"/><rect x="938.66" y="375.51" width="26.311" height="26.311"/><rect x="991.28" y="375.51" width="26.311" height="26.311"/><rect x="991.28" y="401.82" width="26.311" height="26.311"/></g><g fill="#08306b"><rect x="1754.30" y="849.11" width="26.311" height="26.311"/><rect x="1780.61" y="849.11" width="26.311" height="26.311"/><rect x="1806.92" y="849.11" width="26.311" height="26.311"/><rect x="1543.81" y="1191.15" width="26.311" height="26.311"/><rect x="1254.39" y="1217.46" width="26.311" height="26.311"/><rect x="1412.26" y="1217.46" width="26.311" height="26.311"/><rect x="1438.57" y="1217.46" width="26.311" height="26.311"/><rect x="1464.88" y="1217.46" width="26.311" height="26.311"/><rect x="1517.50" y="1217.46" width="26.311" height="26.311"/><rect x="1543.81" y="1217.46" width="26.311" height="26.311"/><rect x="1570.12" y="1217.46" width="26.311" height="26.311"/><rect x="1201.77" y="1243.77" width="26.311" height="26.311"/><rect x="1228.08" y="1243.77" width="26.311" height="26.311"/><rect x="1254.39" y="1243.77" width="26.311" height="26.311"/><rect x="1280.70" y="1243.77" width="26.311" height="26.311"/><rect x="1307.01" y="1243.77" width="26.311" height="26.311"/><rect x="1333.33" y="1243.77" width="26.311" height="26.311"/><rect x="1359.64" y="1243.77" width="26.311" height="26.311"/><rect x="1385.95" y="1243.77" width="26.311" height="26.311"/><rect x="1412.26" y="1243.77" width="26.311" height="26.311"/><rect x="1438.57" y="1243.77" width="26.311" height="26.311"/><rect x="1464.88" y="1243.77" width="26.311" height="26.311"/><rect x="1491.19" y="1243.77" width="26.311" height="26.311"/><rect x="1517.50" y="1243.77" width="26.311" height="26.311"/><rect x="1543.81" y="1243.77" width="26.311" height="26.311"/><rect x="1622.75" y="1243.77" width="26.311" height="26.311"/><rect x="1122.84" y="1270.08" width="26.311" height="26.311"/><rect x="1175.46" y="1270.08" width="26.311" height="26.311"/><rect x="1201.77" y="1270.08" width="26.311" height="26.311"/><rect x="1228.08" y="1270.08" width="26.311" height="26.311"/><rect x="1254.39" y="1270.08" width="26.311" height="26.311"/><rect x="1280.70" y="1270.08" width="26.311" height="26.311"/><rect x="1307.01" y="1270.08" width="26.311" height="26.311"/><rect x="1333.33" y="1270.08" width="26.311" height="26.311"/><rect x="1359.64" y="1270.08" width="26.311" height="26.311"/><rect x="1385.95" y="1270.08" width="26.311" height="26.311"/><rect x="1412.26" y="1270.08" width="26.311" height="26.311"/><rect x="1438.57" y="1270.08" width="26.311" height="26.311"/><rect x="1464.88" y="1270.08" width="26.311" height="26.311"/><rect x="1491.19" y="1270.08" width="26.311" height="26.311"/><rect x="1517.50" y="1270.08" width="26.311" height="26.311"/><rect x="1570.12" y="1270.08" width="26.311" height="26.311"/><rect x="1675.37" y="1270.08" width="26.311" height="26.311"/><rect x="1122.84" y="1296.39" width="26.311" height="26.311"/><rect x="1175.46" y="1296.39" width="26.311" height="26.311"/><rect x="1201.77" y="1296.39" width="26.311" height="26.311"/><rect x="1228.08" y="1296.39" width="26.311" height="26.311"/><rect x="1280.70" y="1296.39" width="26.311" height="26.311"/><rect x="1307.01" y="1296.39" width="26.311" height="26.311"/><rect x="1333.33" y="1296.39" width="26.311" height="26.311"/><rect x="1359.64" y="1296.39" width="26.311" height="26.311"/><rect x="1412.26" y="1296.39" width="26.311" height="26.311"/><rect x="1438.57" y="1296.39" width="26.311" height="26.311"/><rect x="1491.19" y="1296.39" width="26.311" height="26.311"/><rect x="1517.50" y="1296.39" width="26.311" height="26.311"/><rect x="1543.81" y="1296.39" width="26.311" height="26.311"/><rect x="1649.06" y="1296.39" width="26.311" height="26.311"/><rect x="1675.37" y="1296.39" width="26.311" height="26.311"/><rect x="1175.46" y="1322.70" width="26.311" height="26.311"/><rect x="1201.77" y="1322.70" width="26.311" height="26.311"/><rect x="1228.08" y="1322.70" width="26.311" height="26.311"/><rect x="1254.39" y="1322.70" width="26.311" height="26.311"/><rect x="1280.70" y="1322.70" width="26.311" height="26.311"/><rect x="1307.01" y="1322.70" width="26.311" height="26.311"/><rect x="1333.33" y="1322.70" width="26.311" height="26.311"/><rect x="1359.64" y="1322.70" width="26.311" height="26.311"/><rect x="1385.95" y="1322.70" width="26.311" height="26.311"/><rect x="1412.26" y="1322.70" width="26.311" height="26.311"/><rect x="1438.57" y="1322.70" width="26.311" height="26.311"/><rect x="1464.88" y="1322.70" width="26.311" height="26.311"/><rect x="1491.19" y="1322.70" width="26.311" height="26.311"/><rect x="1517.50" y="1322.70" width="26.311" height="26.311"/><rect x="1543.81" y="1322.70" width="26.311" height="26.311"/><rect x="1570.12" y="1322.70" width="26.311" height="26.311"/><rect x="1596.44" y="1322.70" width="26.311" height="26.311"/><rect x="1622.75" y="1322.70" width="26.311" height="26.311"/><rect x="1649.06" y="1322.70" width="26.311" height="26.311"/><rect x="1201.77" y="1349.01" width="26.311" height="26.311"/><rect x="1228.08" y="1349.01" width="26.311" height="26.311"/><rect x="1254.39" y="1349.01" width="26.311" height="26.311"/><rect x="1280.70" y="1349.01" width="26.311" height="26.311"/><rect x="1307.01" y="1349.01" width="26.311" height="26.311"/><rect x="1333.33" y="1349.01" width="26.311" height="26.311"/><rect x="1359.64" y="1349.01" width="26.311" height="26.311"/><rect x="1412.26" y="1349.01" width="26.311" height="26.311"/><rect x="1491.19" y="1349.01" width="26.311" height="26.311"/><rect x="1517.50" y="1349.01" width="26.311" height="26.311"/><rect x="1570.12" y="1349.01" width="26.311" height="26.311"/><rect x="1596.44" y="1349.01" width="26.311" height="26.311"/><rect x="1622.75" y="1349.01" width="26.311" height="26.311"/><rect x="1649.06" y="1349.01" width="26.311" height="26.311"/><rect x="1201.77" y="1375.33" width="26.311" height="26.311"/><rect x="1228.08" y="1375.33" width="26.311" height="26.311"/><rect x="1254.39" y="1375.33" width="26.311" height="26.311"/><rect x="1280.70" y="1375.33" width="26.311" height="26.311"/><rect x="1307.01" y="1375.33" width="26.311" height="26.311"/><rect x="1333.33" y="1375.33" width="26.311" height="26.311"/><rect x="1359.64" y="1375.33" width="26.311" height="26.311"/><rect x="1412.26" y="1375.33" width="26.311" height="26.311"/><rect x="1438.57" y="1375.33" width="26.311" height="26.311"/><rect x="1464.88" y="1375.33" width="26.311" height="26.311"/><rect x="1570.12" y="1375.33" width="26.311" height="26.311"/><rect x="1596.44" y="1375.33" width="26.311" height="26.311"/><rect x="1622.75" y="1375.33" width="26.311" height="26.311"/><rect x="1649.06" y="1375.33" width="26.311" height="26.311"/><rect x="1201.77" y="1401.64" width="26.311" height="26.311"/><rect x="1228.08" y="1401.64" width="26.311" height="26.311"/><rect x="1254.39" y="1401.64" width="26.311" height="26.311"/><rect x="1280.70" y="1401.64" width="26.311" height="26.311"/><rect x="1307.01" y="1401.64" width="26.311" height="26.311"/><rect x="1333.33" y="1401.64" width="26.311" height="26.311"/><rect x="1359.64" y="1401.64" width="26.311" height="26.311"/><rect x="1385.95" y="1401.64" width="26.311" height="26.311"/><rect x="1543.81" y="1401.64" width="26.311" height="26.311"/><rect x="1570.12" y="1401.64" width="26.311" height="26.311"/><rect x="1596.44" y="1401.64" width="26.311" height="26.311"/><rect x="1622.75" y="1401.64" width="26.311" height="26.311"/><rect x="1201.77" y="1427.95" width="26.311" height="26.311"/><rect x="1228.08" y="1427.95" width="26.311" height="26.311"/><rect x="1254.39" y="1427.95" width="26.311" height="26.311"/><rect x="1280.70" y="1427.95" width="26.311" height="26.311"/><rect x="1307.01" y="1427.95" width="26.311" height="26.311"/><rect x="1333.33" y="1427.95" width="26.311" height="26.311"/><rect x="1359.64" y="1427.95" width="26.311" height="26.311"/><rect x="1385.95" y="1427.95" width="26.311" height="26.311"/><rect x="1412.26" y="1427.95" width="26.311" height="26.311"/><rect x="1438.57" y="1427.95" width="26.311" height="26.311"/><rect x="1464.88" y="1427.95" width="26.311" height="26.311"/><rect x="1491.19" y="1427.95" width="26.311" height="26.311"/><rect x="1517.50" y="1427.95" width="26.311" height="26.311"/><rect x="1543.81" y="1427.95" width="26.311" height="26.311"/><rect x="1570.12" y="1427.95" width="26.311" height="26.311"/><rect x="1596.44" y="1427.95" width="26.311" height="26.311"/><rect x="1622.75" y="1427.95" width="26.311" height="26.311"/><rect x="1649.06" y="1427.95" width="26.311" height="26.311"/><rect x="1675.37" y="1427.95" width="26.311" height="26.311"/><rect x="1280.70" y="1454.26" width="26.311" height="26.311"/><rect x="1307.01" y="1454.26" width="26.311" height="26.311"/><rect x="1333.33" y="1454.26" width="26.311" height="26.311"/><rect x="1359.64" y="1454.26" width="26.311" height="26.311"/><rect x="1385.95" y="1454.26" width="26.311" height="26.311"/><rect x="1412.26" y="1454.26" width="26.311" height="26.311"/><rect x="1438.57" y="1454.26" width="26.311" height="26.311"/><rect x="1464.88" y="1454.26" width="26.311" height="26.311"/><rect x="1491.19" y="1454.26" width="26.311" height="26.311"/><rect x="1517.50" y="1454.26" width="26.311" height="26.311"/><rect x="1543.81" y="1454.26" width="26.311" height="26.311"/><rect x="1570.12" y="1454.26" width="26.311" height="26.311"/><rect x="1596.44" y="1454.26" width="26.311" height="26.311"/><rect x="1622.75" y="1454.26" width="26.311" height="26.311"/><rect x="1333.33" y="1480.57" width="26.311" height="26.311"/><rect x="1359.64" y="1480.57" width="26.311" height="26.311"/><rect x="1385.95" y="1480.57" width="26.311" height="26.311"/><rect x="1412.26" y="1480.57" width="26.311" height="26.311"/><rect x="1438.57" y="1480.57" width="26.311" height="26.311"/><rect x="1464.88" y="1480.57" width="26.311" height="26.311"/><rect x="1491.19" y="1480.57" width="26.311" height="26.311"/><rect x="1517.50" y="1480.57" width="26.311" height="26.311"/><rect x="1649.06" y="1480.57" width="26.311" height="26.311"/><rect x="1675.37" y="1480.57" width="26.311" height="26.311"/><rect x="1701.68" y="1480.57" width="26.311" height="26.311"/><rect x="1359.64" y="1506.88" width="26.311" height="26.311"/><rect x="1385.95" y="1506.88" width="26.311" height="26.311"/><rect x="1412.26" y="1506.88" width="26.311" height="26.311"/><rect x="1438.57" y="1506.88" width="26.311" height="26.311"/><rect x="1701.68" y="1506.88" width="26.311" height="26.311"/><rect x="1412.26" y="1533.19" width="26.311" height="26.311"/><rect x="1438.57" y="1533.19" width="26.311" height="26.311"/><rect x="1464.88" y="1533.19" width="26.311" height="26.311"/><rect x="1491.19" y="1533.19" width="26.311" height="26.311"/><rect x="1517.50" y="1533.19" width="26.311" height="26.311"/><rect x="1543.81" y="1533.19" width="26.311" height="26.311"/><rect x="1570.12" y="1533.19" width="26.311" height="26.311"/><rect x="1596.44" y="1533.19" width="26.311" height="26.311"/><rect x="1622.75" y="1533.19" width="26.311" height="26.311"/><rect x="1412.26" y="1559.50" width="26.311" height="26.311"/><rect x="1438.57" y="1559.50" width="26.311" height="26.311"/><rect x="1464.88" y="1559.50" width="26.311" height="26.311"/><rect x="1491.19" y="1559.50" width="26.311" height="26.311"/><rect x="1517.50" y="1559.50" width="26.311" height="26.311"/><rect x="1543.81" y="1559.50" width="26.311" height="26.311"/><rect x="1570.12" y="1559.50" width="26.311" height="26.311"/><rect x="1596.44" y="1559.50" width="26.311" height="26.311"/><rect x="1622.75" y="1559.50" width="26.311" height="26.311"/><rect x="1649.06" y="1559.50" width="26.311" height="26.311"/><rect x="1464.88" y="1585.81" width="26.311" height="26.311"/><rect x="1491.19" y="1585.81" width="26.311" height="26.311"/><rect x="1570.12" y="1585.81" width="26.311" height="26.311"/><rect x="1491.19" y="1612.12" width="26.311" height="26.311"/><rect x="1622.75" y="1612.12" width="26.311" height="26.311"/><rect x="1491.19" y="1638.44" width="26.311" height="26.311"/><rect x="1517.50" y="1638.44" width="26.311" height="26.311"/><rect x="1543.81" y="1638.44" width="26.311" height="26.311"/><rect x="1570.12" y="1638.44" width="26.311" height="26.311"/></g></g>
<g fill="none" stroke="#232323" stroke-width="3.3" stroke-linejoin="round" stroke-linecap="round">
<path d="M148.8,482.5 L181.2,463.8 L181.2,461.2 L186.2,460.5 L195.0,455.0 L205.0,449.5 L222.5,442.5 L232.0,437.0 L247.5,430.0 L280.0,410.0 L305.0,392.5 L321.2,381.2 L324.5,377.5 L328.8,378.8 L340.0,372.5 L365.0,356.2 L397.5,333.8 L413.8,325.0 L437.5,315.0 L442.5,308.8 L443.2,303.8 L440.8,300.0 L442.5,295.5 L448.0,290.5 L455.0,290.0 L465.0,292.5 L467.5,296.2 L468.2,301.8 L469.5,296.8 L472.5,297.5 L478.8,303.0 L486.2,301.2 L497.5,296.2 L515.0,291.2 L526.2,288.0 L531.2,285.5 L536.2,295.0 L535.8,302.5 L540.0,308.8 L540.8,313.8 L528.0,327.5 L536.2,337.0 L531.2,339.5 L532.5,343.8 L538.0,347.5 L538.0,352.5 L535.0,355.0 L541.2,358.0 L545.0,363.8 L550.0,370.0 L553.8,367.5 L557.5,372.5 L558.8,378.8 L568.8,382.0 L605.5,378.8 L599.5,348.8 L606.2,347.5 L608.8,352.0 L612.0,346.2 L618.8,346.2 L620.5,342.5 L628.8,349.5 L632.0,346.2 L630.5,340.0 L634.5,335.5 L647.5,343.8 L657.5,348.8 L665.0,347.0 L675.0,353.8 L680.0,354.2 L682.5,357.5 L692.5,360.5 L702.5,361.2 L710.0,363.8 L714.0,370.0 L719.0,367.0 L727.8,372.5 L725.2,380.0 L724.5,400.0 L727.8,403.8 L734.0,403.8 L740.2,407.5 L746.5,404.2 L757.8,405.8 L770.2,397.5 L772.8,401.2 L766.0,408.0 L769.5,413.8 L781.5,408.8 L783.5,402.5 L789.0,400.0 L792.8,405.0 L802.8,401.2 L805.2,396.2 L812.8,394.5 L815.2,388.8 L827.8,380.8 L834.0,383.8 L838.2,381.2 L841.5,384.2 L850.2,382.5 L864.0,371.2 L898.5,347.0 L932.8,303.0 L925.2,297.5 L921.5,287.5 L975.2,284.2 L979.0,299.5 L989.0,300.0 L1000.2,301.8 L1020.2,293.0 L1017.8,289.2 L1020.2,286.2 L1001.5,261.2 L997.8,252.5 L1001.5,248.8 L1004.0,238.8 L996.5,233.8 L1025.2,218.0 L1035.2,216.2 L1040.2,211.2 L1069.0,207.5 L1074.0,215.0 L1064.5,232.5 L1067.0,251.8 L1085.2,243.8 L1111.5,250.0 L1115.8,252.5 L1120.2,248.8 L1129.0,248.8 L1127.0,235.0 L1139.0,230.0 L1144.0,218.8 L1150.2,217.0 L1154.9,206.6 L1163.6,201.6 L1165.5,196.1 L1170.4,192.4 L1176.0,190.5 L1179.7,191.7 L1181.5,194.8 L1187.1,194.6 L1195.1,198.5 L1197.6,205.3 L1203.8,206.6 L1207.5,208.4 L1205.6,222.0 L1203.2,225.1 L1199.4,231.9 L1200.1,241.8 L1202.5,252.3 L1190.8,247.4 L1182.8,244.0 L1173.5,245.5 L1174.7,255.4 L1182.8,261.0 L1203.2,257.3 L1214.3,258.5 L1217.4,260.3 L1221.7,256.0 L1227.9,255.4 L1235.3,257.9 L1239.0,264.1 L1242.1,270.9 L1245.8,271.5 L1248.9,268.4 L1255.1,260.3 L1263.7,249.8 L1273.6,241.2 L1282.3,234.4 L1283.5,229.4 L1284.7,223.3 L1283.5,217.1 L1288.4,209.0 L1294.0,204.1 L1297.7,203.5 L1297.7,209.0 L1301.4,214.0 L1316.3,214.0 L1328.0,243.0 L1313.2,271.5 L1334.2,295.0 L1336.7,299.9 L1341.0,304.2 L1343.0,328.0 L1355.0,331.8 L1361.0,326.2 L1373.0,323.0 L1392.2,335.5 L1385.0,362.5 L1389.2,367.5 L1401.8,363.2 L1416.8,367.0 L1425.5,365.5 L1436.8,365.5 L1439.8,356.2 L1472.5,365.5 L1480.0,355.0 L1483.0,354.2 L1484.2,351.2 L1493.5,349.5 L1498.8,345.0 L1500.5,340.0 L1503.5,337.5 L1517.5,340.8 L1520.5,347.0 L1526.8,353.8 L1531.8,358.0 L1536.8,361.2 L1537.5,366.2 L1536.8,377.5 L1539.2,393.8 L1580.5,410.0 L1582.2,413.8 L1581.0,417.5 L1584.2,421.2 L1591.8,420.5 L1594.2,422.0 L1598.0,420.5 L1608.0,422.5 L1611.8,420.5 L1621.8,418.8 L1624.8,416.2 L1629.2,420.0 L1634.2,420.5 L1639.2,423.8 L1640.0,430.0 L1636.0,431.2 L1636.8,435.0 L1640.5,437.5 L1639.2,442.5 L1641.0,444.5 L1648.0,440.0 L1653.0,438.8 L1655.0,435.5 L1658.0,437.5 L1661.2,431.2 L1666.0,436.2 L1668.5,442.5 L1675.5,448.8 L1671.8,451.2 L1669.2,458.8 L1663.0,460.0 L1658.0,465.0 L1656.0,470.0 L1653.8,472.5 L1655.0,475.8 L1663.0,475.8 L1666.8,480.0 L1666.0,485.0 L1662.2,488.0 L1655.5,485.0 L1650.5,486.2 L1648.0,490.0 L1653.5,496.2 L1653.5,499.5 L1650.0,501.2 L1651.0,507.5 L1651.8,511.2 L1648.0,512.5 L1643.0,509.5 L1638.5,509.5 L1638.0,517.5 L1635.5,523.8 L1632.5,528.8 L1633.5,533.0 L1638.0,534.5 L1641.0,538.0 L1637.5,545.0 L1636.2,555.0 L1632.5,562.5 L1628.0,569.5 L1623.0,571.2 L1621.8,576.2 L1615.5,584.0 L1616.0,583.8 L1618.0,587.0 L1624.2,583.8 L1629.2,584.5 L1634.2,590.0 L1630.5,593.8 L1628.0,601.2 L1621.8,607.5 L1619.2,613.8 L1619.2,620.0 L1615.5,622.5 L1608.0,621.2 L1605.5,625.5 L1604.2,632.5 L1598.0,638.8 L1596.8,642.5 L1590.5,645.0 L1582.5,649.5 L1581.8,656.2 L1581.6,660.0 L1579.8,668.7 L1582.9,676.1 L1586.0,682.2 L1588.4,687.2 L1594.6,689.7 L1602.0,692.1 L1607.6,695.2 L1608.2,699.6 L1604.5,703.3 L1607.6,708.8 L1609.4,714.4 L1606.4,722.4 L1602.6,729.2 L1600.8,732.9 L1603.3,736.0 L1608.8,732.9 L1618.7,728.0 L1622.4,732.9 L1627.4,732.3 L1627.4,727.4 L1631.7,721.2 L1639.7,713.8 L1644.7,714.4 L1646.5,721.2 L1652.1,723.7 L1658.9,732.9 L1666.3,731.7 L1675.0,726.7 L1676.8,733.5 L1684.8,726.7 L1695.4,722.4 L1697.8,733.5 L1704.6,732.9 L1709.6,735.4 L1715.7,731.1 L1729.3,727.4 L1735.5,728.6 L1738.0,732.9 L1745.4,733.5 L1755.5,731.2 L1766.8,738.0 L1767.5,745.0 L1764.2,752.5 L1766.8,758.8 L1769.2,752.0 L1783.0,755.8 L1780.0,755.5 L1792.4,754.8 L1802.2,754.6 L1805.3,758.5 L1806.6,765.3 L1813.4,774.6 L1816.5,778.3 L1817.1,783.3 L1823.9,789.4 L1826.4,795.6 L1828.8,798.1 L1834.4,806.1 L1828.2,811.4 L1835.6,819.1 L1834.4,824.1 L1838.1,820.3 L1852.9,819.7 L1860.3,823.4 L1876.4,821.0 L1878.3,820.3 L1876.4,825.3 L1875.8,830.2 L1871.5,836.4 L1867.1,838.9 L1866.5,843.8 L1864.1,851.2 L1856.0,850.0 L1854.2,856.2 L1847.4,861.1 L1845.5,864.8 L1840.6,868.6 L1831.9,874.1 L1834.4,879.7 L1835.0,886.5 L1843.7,887.7 L1844.3,893.3 L1848.0,898.2 L1851.7,906.9 L1855.4,914.3 L1857.3,919.9 L1869.0,913.7 L1871.5,916.1 L1877.7,912.4 L1883.8,913.1 L1886.3,916.1 L1896.2,914.3 L1901.1,918.6 L1908.6,921.7 L1911.0,924.2 L1916.6,923.6 L1912.9,926.7 L1912.3,931.6 L1910.4,935.3 L1912.9,940.0 L1913.0,941.2 L1919.2,947.0 L1926.8,947.5 L1929.2,955.0 L1930.0,964.0 L1930.0,964.0 L1928.0,967.5 L1925.5,975.0 L1926.8,983.8 L1923.0,991.2 L1919.2,996.2 L1914.2,1002.0 L1924.2,1010.0 L1929.2,1017.5 L1938.0,1023.8 L1943.5,1030.0 L1946.2,1035.0 L1945.0,1043.0 L1935.5,1045.0 L1930.5,1050.0 L1925.5,1051.2 L1925.5,1056.2 L1923.0,1052.5 L1918.0,1048.8 L1913.0,1047.5 L1909.2,1043.0 L1900.5,1046.2 L1898.0,1053.8 L1894.2,1057.5 L1893.0,1063.8 L1889.8,1067.5 L1889.2,1073.8 L1893.0,1077.5 L1888.0,1085.0 L1881.8,1087.5 L1878.0,1085.8 L1868.0,1090.8 L1861.8,1092.5 L1854.2,1097.0 L1851.8,1103.8 L1848.0,1109.5 L1839.2,1110.8 L1836.8,1118.0 L1834.2,1120.0 L1841.8,1125.0 L1845.5,1132.5 L1844.2,1140.0 L1846.8,1146.2 L1846.8,1151.2 L1836.8,1152.0 L1832.5,1155.0 L1828.5,1153.0 L1826.0,1157.5 L1823.0,1161.2 L1825.5,1167.5 L1819.2,1170.0 L1828.0,1171.2 L1831.0,1176.2 L1829.2,1182.5 L1824.2,1186.2 L1821.8,1188.8 L1816.8,1185.0 L1811.0,1182.5 L1813.0,1176.2 L1816.8,1172.5 L1813.0,1166.2 L1813.0,1162.5 L1805.5,1158.8 L1796.8,1157.5 L1794.2,1161.2 L1795.0,1167.5 L1786.8,1172.0 L1779.2,1168.8 L1771.8,1162.5 L1769.2,1150.5 L1759.2,1154.5 L1748.0,1155.5 L1740.5,1158.0 L1741.8,1170.0 L1738.0,1173.8 L1740.0,1188.8 L1728.0,1192.0 L1718.0,1196.2 L1710.5,1201.2 L1708.8,1211.2 L1705.5,1220.0 L1706.8,1228.8 L1700.5,1230.0 L1694.2,1235.0 L1691.8,1242.5 L1698.5,1251.2 L1696.8,1256.2 L1693.0,1260.0 L1693.5,1266.2 L1685.5,1272.0 L1676.8,1275.0 L1675.0,1277.5 L1676.8,1287.5 L1685.5,1293.8 L1684.2,1300.0 L1678.0,1305.0 L1671.8,1307.0 L1670.5,1312.5 L1663.0,1312.5 L1655.5,1315.0 L1653.5,1322.5 L1655.5,1330.0 L1650.5,1344.0 L1650.5,1340.0 L1649.2,1348.8 L1641.8,1353.8 L1637.5,1361.2 L1648.0,1366.2 L1656.8,1370.0 L1660.5,1376.2 L1659.2,1380.0 L1650.5,1382.5 L1646.8,1380.0 L1646.0,1387.5 L1649.2,1392.5 L1643.0,1396.2 L1645.5,1401.2 L1640.0,1407.5 L1643.5,1412.5 L1645.5,1422.5 L1647.5,1437.0 L1655.5,1437.5 L1663.0,1435.0 L1666.8,1442.5 L1673.0,1453.8 L1676.8,1462.5 L1684.2,1471.2 L1682.5,1486.2 L1690.5,1488.8 L1700.5,1485.0 L1706.8,1492.5 L1711.8,1498.8 L1704.2,1507.5 L1700.5,1516.2 L1702.5,1522.5 L1715.5,1527.5 L1723.5,1531.2 L1719.2,1540.0 L1721.8,1550.0 L1713.0,1552.5 L1709.2,1560.0 L1708.0,1571.2 L1699.2,1577.5 L1694.2,1581.2 L1695.5,1587.5 L1704.2,1586.2 L1706.8,1591.2 L1704.2,1600.0 L1695.5,1606.2 L1691.8,1612.5 L1680.5,1617.5 L1669.2,1615.0 L1659.2,1606.2 L1653.0,1608.8 L1651.8,1621.2 L1644.2,1625.0 L1638.0,1621.2 L1626.8,1625.0 L1618.0,1618.8 L1606.8,1615.0 L1598.0,1617.5 L1590.5,1626.2 L1585.5,1636.2 L1588.0,1641.2 L1583.0,1649.5 L1579.2,1646.2 L1576.8,1638.8 L1568.0,1635.0 L1556.8,1633.8 L1551.8,1637.5 L1549.2,1643.8 L1538.0,1647.5 L1524.2,1650.0 L1520.5,1655.0 L1516.8,1657.5 L1513.0,1655.0 L1513.0,1647.5 L1505.0,1642.0 L1510.5,1637.5 L1513.0,1627.5 L1501.8,1617.5 L1508.0,1606.2 L1500.5,1603.8 L1495.5,1587.5 L1491.8,1582.5 L1480.5,1570.0 L1468.0,1565.0 L1456.8,1560.0 L1453.0,1570.0 L1440.5,1574.5 L1436.2,1562.5 L1439.2,1552.5 L1449.2,1543.0 L1445.5,1537.5 L1434.2,1528.8 L1426.8,1521.2 L1418.0,1512.5 L1411.8,1515.0 L1407.5,1520.5 L1400.5,1515.5 L1394.2,1518.8 L1388.0,1513.8 L1383.0,1516.2 L1369.2,1515.5 L1368.5,1502.5 L1363.0,1496.2 L1359.2,1503.0 L1350.5,1501.2 L1347.5,1487.5 L1343.0,1477.5 L1333.0,1462.5 L1326.8,1465.0 L1320.5,1465.5 L1310.5,1460.0 L1294.2,1451.2 L1288.0,1437.5 L1276.8,1437.0 L1266.8,1438.2 L1260.5,1446.2 L1245.5,1449.5 L1230.5,1444.5 L1221.8,1445.0 L1226.8,1435.0 L1228.0,1427.5 L1231.8,1423.8 L1226.8,1417.5 L1225.5,1408.8 L1220.5,1406.2 L1217.5,1388.8 L1221.8,1388.8 L1228.0,1375.0 L1233.0,1366.2 L1237.2,1360.0 L1234.2,1350.0 L1225.5,1345.0 L1218.0,1331.2 L1210.5,1329.5 L1190.5,1323.8 L1190.0,1315.0 L1193.0,1305.0 L1199.2,1300.0 L1199.2,1300.0 L1200.5,1291.2 L1203.0,1286.2 L1202.5,1275.0 L1209.2,1268.8 L1211.8,1262.5 L1210.5,1257.5 L1205.5,1252.5 L1203.5,1245.0 L1211.8,1243.8 L1213.0,1233.8 L1215.5,1230.0 L1213.0,1223.8 L1218.5,1218.8 L1224.2,1217.5 L1224.2,1223.8 L1227.5,1227.5 L1230.0,1223.8 L1226.8,1218.8 L1227.5,1211.2 L1225.5,1205.0 L1230.5,1197.5 L1239.2,1191.2 L1238.0,1189.5 L1233.0,1188.8 L1230.5,1180.0 L1221.8,1180.5 L1209.2,1180.0 L1205.0,1175.0 L1204.2,1168.8 L1198.0,1177.5 L1184.2,1188.0 L1176.8,1192.0 L1175.0,1201.2 L1170.5,1203.8 L1171.8,1210.0 L1158.0,1216.2 L1148.0,1222.5 L1143.0,1231.2 L1141.0,1240.0 L1137.5,1243.0 L1141.0,1250.0 L1146.8,1251.2 L1147.5,1255.0 L1144.2,1262.5 L1141.0,1273.8 L1141.8,1285.0 L1141.0,1291.2 L1144.2,1295.0 L1133.0,1295.0 L1113.0,1301.2 L1098.0,1303.0 L1089.2,1307.5 L1084.2,1313.8 L1073.0,1315.0 L1066.8,1323.8 L1064.2,1328.8 L1058.0,1331.2 L1044.2,1330.5 L1028.0,1338.0 L1014.2,1332.0 L999.2,1330.0 L995.5,1327.0 L983.0,1327.5 L975.5,1320.0 L969.2,1318.8 L963.0,1315.0 L959.2,1318.0 L943.0,1318.8 L930.5,1321.2 L923.0,1323.8 L910.5,1325.0 L910.5,1317.5 L895.5,1310.5 L885.5,1308.8 L891.0,1301.2 L894.2,1293.0 L888.0,1290.0 L881.8,1280.0 L884.2,1272.5 L889.2,1263.8 L893.0,1256.2 L900.5,1258.8 L909.2,1255.0 L911.8,1251.2 L921.8,1246.2 L926.8,1240.0 L923.0,1230.0 L916.8,1221.2 L911.8,1215.0 L913.0,1205.0 L911.8,1195.0 L903.0,1194.5 L891.8,1195.0 L890.5,1198.8 L881.8,1197.5 L877.5,1192.5 L881.8,1186.2 L883.0,1181.2 L891.0,1175.0 L890.5,1167.5 L887.5,1165.0 L890.5,1158.8 L892.5,1148.8 L888.5,1137.5 L898.0,1133.8 L903.0,1123.8 L910.5,1117.0 L918.0,1112.5 L923.0,1105.0 L919.2,1096.2 L914.2,1091.2 L903.0,1090.0 L901.0,1085.0 L895.5,1081.2 L888.5,1090.0 L896.8,1095.0 L897.5,1101.2 L891.8,1105.0 L881.8,1103.8 L882.5,1096.2 L876.0,1090.0 L876.8,1078.8 L874.2,1071.2 L868.0,1070.0 L861.8,1063.8 L855.5,1066.2 L855.5,1060.0 L846.8,1050.0 L840.5,1043.8 L835.5,1041.2 L831.0,1030.0 L826.8,1032.5 L825.5,1036.2 L813.0,1042.5 L808.0,1038.8 L803.0,1042.0 L803.5,1036.2 L788.0,1045.0 L788.0,1045.0 L773.0,1052.5 L765.5,1052.5 L766.8,1045.0 L758.0,1042.5 L751.8,1038.8 L748.0,1033.8 L736.8,1033.2 L734.2,1038.8 L730.5,1038.8 L729.2,1032.5 L710.5,1033.8 L700.5,1036.2 L694.2,1041.2 L693.0,1050.0 L690.5,1060.0 L691.8,1065.0 L686.8,1066.2 L685.5,1060.0 L683.0,1058.8 L684.2,1069.5 L681.8,1069.5 L670.5,1056.2 L666.8,1046.2 L661.8,1036.2 L663.0,1027.5 L658.0,1020.0 L660.5,1013.8 L665.5,1003.8 L666.8,995.0 L664.2,970.0 L660.5,963.8 L661.8,957.5 L653.0,952.5 L648.0,943.8 L643.0,936.2 L635.5,927.5 L628.0,932.0 L621.8,930.0 L618.0,924.2 L608.0,926.2 L595.5,928.8 L585.5,934.5 L584.2,925.0 L588.0,918.8 L594.2,913.8 L594.2,907.5 L585.5,902.5 L573.0,900.0 L565.5,908.8 L561.8,918.8 L558.0,916.2 L553.0,920.5 L543.0,923.8 L527.5,930.0 L523.0,921.2 L505.5,917.5 L498.0,908.8 L488.0,903.8 L483.5,895.0 L484.2,875.0 L483.0,852.5 L478.0,838.8 L471.8,827.5 L468.0,817.5 L466.0,805.0 L468.0,798.8 L478.0,793.8 L474.2,782.5 L476.8,775.0 L469.2,767.0 L451.8,767.5 L444.2,758.8 L448.0,751.2 L441.8,742.5 L439.2,733.8 L434.2,726.2 L426.8,711.2 L418.0,712.5 L408.5,707.0 L405.5,713.8 L396.8,722.5 L388.0,718.0 L388.0,718.0 L383.8,715.5 L375.0,720.0 L371.2,723.8 L365.0,722.5 L348.8,732.5 L341.2,738.8 L337.5,736.2 L331.2,738.8 L326.2,746.2 L330.0,750.0 L325.0,753.8 L323.8,762.5 L320.0,770.0 L315.0,772.5 L312.5,779.5 L307.5,777.5 L303.8,770.0 L297.5,771.2 L292.5,767.5 L288.8,762.5 L285.0,756.2 L272.5,761.2 L265.0,757.5 L257.5,752.5 L255.0,740.0 L253.8,735.0 L245.0,731.2 L243.8,725.0 L245.0,721.2 L240.0,715.0 L231.2,708.8 L227.5,698.8 L228.8,692.5 L225.0,688.8 L208.8,688.0 L203.8,682.5 L198.8,688.0 L187.5,688.0 L183.8,672.5 L180.0,670.0 L177.5,662.5 L171.2,661.2 L177.5,653.8 L178.8,650.0 L175.5,642.5 L177.5,630.0 L175.0,613.8 L168.0,611.2 L175.0,603.8 L182.5,598.8 L181.2,595.0 L188.8,592.5 L185.5,585.0 L185.0,584.0 L181.2,575.0 L178.0,566.2 L178.0,560.0 L173.8,557.5 L167.5,553.8 L163.8,550.0 L161.2,543.8 L163.0,540.0 L161.2,530.0 L158.0,510.0 L158.0,502.5 L153.8,493.8Z"/>
<path d="M440.5,735.0 L448.0,733.8 L459.2,728.2 L474.2,738.0 L490.5,739.5 L496.8,737.5 L504.2,748.8 L508.0,757.5 L505.5,761.2 L521.8,770.0 L525.5,760.0 L538.0,756.2 L544.2,745.0 L553.0,743.8 L556.8,737.5 L568.0,732.5 L566.8,726.2 L570.5,731.2 L585.5,736.2 L595.5,733.8 L606.8,731.2 L609.2,743.8 L606.8,753.8 L614.2,754.5 L619.2,758.8 L628.0,757.5 L638.0,755.0 L645.5,762.5 L651.8,763.0 L653.5,752.5 L663.0,742.5 L670.5,727.5 L679.2,723.8 L685.5,718.8 L686.8,728.8 L698.0,726.2 L706.8,721.2 L708.0,730.0 L716.8,744.5 L734.2,743.0 L740.5,748.0 L745.5,748.8 L753.0,743.8 L765.5,743.0 L772.5,752.5 L768.5,771.2 L775.5,776.2 L779.2,786.2 L790.5,787.5 L813.0,788.8 L824.2,780.5 L835.5,785.0 L845.5,778.8 L847.5,783.8 L853.0,772.5 L865.5,775.0 L873.0,768.8 L881.8,766.2 L885.5,760.0 L894.2,760.0 L900.5,766.2 L904.2,774.5 L918.0,774.5 L933.0,788.0 L941.8,781.2 L953.0,782.5 L962.0,780.0 L963.8,779.5 L965.5,767.5 L971.2,763.8 L972.5,768.8 L975.0,756.2 L977.5,756.2 L983.8,769.5 L993.0,768.0 L993.0,760.0 L1002.5,756.2 L1017.5,754.2 L1025.0,749.2 L1035.0,740.5 L1043.8,742.0 L1050.0,739.5 L1052.5,743.8 L1050.0,750.0 L1056.2,757.5 L1062.5,760.5 L1067.0,757.5 L1065.0,752.5 L1080.0,746.2 L1087.5,744.5 L1090.0,737.5 L1097.5,733.8 L1099.2,747.5 L1102.5,750.5 L1115.0,748.8 L1120.0,746.2 L1124.5,738.8 L1120.0,733.8 L1116.2,726.2 L1120.0,720.0 L1119.5,708.8 L1132.5,712.0 L1141.2,715.5 L1150.0,711.2 L1152.5,714.5 L1156.2,706.2 L1168.8,702.0 L1175.0,705.0 L1185.0,707.5 L1191.2,712.5 L1197.0,723.8 L1206.2,724.5 L1208.0,733.8 L1213.8,731.2 L1232.5,732.0 L1237.0,726.2 L1241.2,730.0 L1240.5,742.5 L1250.0,748.0 L1253.8,745.5 L1262.5,742.5 L1270.0,731.2 L1277.5,728.8 L1286.2,732.0 L1293.8,742.5 L1305.5,751.2 L1305.5,762.5 L1312.5,768.8 L1317.0,773.8 L1328.8,776.2 L1332.5,772.0 L1340.0,773.0 L1350.0,780.0 L1355.0,782.0 L1361.2,782.0 L1368.8,775.0 L1363.8,767.5 L1364.5,762.0 L1373.8,765.5 L1382.5,763.0 L1392.5,763.8 L1394.5,760.0 L1396.2,765.5 L1403.8,767.0 L1412.5,757.5 L1421.2,760.5 L1426.2,765.5 L1428.8,758.8 L1447.5,744.5 L1458.8,745.5 L1465.0,742.5 L1467.5,751.2 L1474.0,758.8 L1488.0,760.8 L1495.5,758.8 L1498.0,750.0 L1501.8,748.8 L1505.5,752.5 L1506.8,758.8 L1525.5,747.5 L1527.5,745.0 L1525.5,740.0 L1526.8,733.0 L1538.0,732.5 L1550.5,724.5 L1560.5,723.8 L1560.0,721.8 L1566.2,720.0 L1569.3,715.0 L1576.1,713.8 L1582.2,709.4 L1585.3,702.6 L1586.6,698.9 L1595.8,697.1 L1602.6,698.3 L1605.7,695.8"/>
<path d="M365.0,722.5 L370.0,718.8 L362.0,713.8 L360.0,707.5 L363.8,700.0 L362.5,696.2 L356.2,693.0 L347.5,697.5 L341.2,699.2 L333.8,702.5 L327.5,705.5 L332.5,708.8 L338.8,717.5 L337.5,720.0 L327.5,723.8 L317.5,728.0 L319.5,733.0 L305.0,735.0 L300.0,729.5 L298.8,733.8 L295.0,729.5 L287.5,731.2 L282.5,735.5 L285.0,743.8 L282.5,747.5 L285.0,756.2"/>
<path d="M1603.3,736.0 L1614.4,739.1 L1620.6,741.0 L1621.8,737.3 L1627.4,733.5"/>
<path d="M1627.4,732.9 L1629.8,735.4 L1630.5,741.0 L1634.2,740.3 L1641.6,736.6 L1649.0,741.0 L1653.9,746.5 L1657.7,748.4 L1656.4,751.5 L1660.7,756.4 L1662.6,762.6 L1667.5,763.2 L1682.4,760.1 L1688.6,762.0 L1694.7,765.7 L1702.2,753.9 L1707.7,747.1 L1706.5,742.2 L1699.7,737.9 L1697.8,733.5"/>
<path d="M1835.0,806.7 L1835.6,812.9 L1838.1,814.2 L1852.9,813.5 L1854.8,808.6 L1857.9,806.7 L1864.1,812.3 L1872.7,810.7 L1875.2,812.9 L1878.3,820.3"/>
<path d="M1864.1,851.2 L1862.2,863.6 L1859.1,869.8 L1856.6,871.6 L1856.6,875.4 L1850.5,875.4 L1848.0,882.2 L1843.7,887.7"/>
<path d="M933.0,693.5 L937.3,689.2 L938.2,682.7 L941.6,681.0 L949.4,679.2 L952.4,676.6 L953.3,670.6 L954.6,666.2 L951.1,663.6 L949.4,659.8 L951.6,655.9 L959.4,648.5 L958.1,644.6 L956.3,642.4 L958.9,640.7 L965.0,639.0 L968.5,636.8 L973.6,633.4 L980.6,632.1 L988.4,632.9 L995.3,636.0 L997.9,631.6 L999.6,626.9 L1005.7,624.3 L1010.0,624.3 L1012.2,626.0 L1012.2,629.5 L1016.9,632.9 L1020.4,637.7 L1018.6,640.3 L1023.0,648.9 L1018.6,650.7 L1015.2,657.2 L1017.8,661.5 L1023.8,663.6 L1028.2,668.0 L1033.3,669.3 L1036.8,674.9 L1037.7,681.0 L1041.1,691.8 L1032.5,693.5 L1029.0,697.4 L1028.2,701.7 L1043.7,712.5 L1035.1,717.3 L1023.0,723.8 L998.3,734.2 L996.6,730.3 L988.4,727.7 L979.7,725.5 L975.4,726.4 L971.1,722.5 L968.0,716.4 L968.0,710.4 L962.4,707.8 L960.2,703.4 L961.5,699.1 L959.4,697.8 L954.6,701.3 L950.3,701.7 L946.0,699.1 L940.3,698.3 L936.9,694.4Z"/>
<path fill="#fff" d="M1828.8,798.1 L1836.9,796.2 L1840.6,797.5 L1841.2,801.2 L1838.1,804.9 L1835.0,806.7Z"/>
<path fill="#fff" d="M1838.7,897.0 L1841.8,893.9 L1846.7,897.0 L1848.0,899.5 L1843.0,901.3 L1839.3,899.5Z"/>
</g>
<g fill="#232323" stroke="#232323" stroke-width="1.5" stroke-linejoin="round">
<path d="M1242.1,233.2 L1247.7,230.7 L1252.6,226.4 L1257.5,227.0 L1258.8,231.3 L1256.3,235.6 L1254.4,241.2 L1252.6,246.1 L1247.7,245.5 L1243.9,243.0 L1240.9,241.2 L1242.1,236.9Z"/>
<circle cx="1230.1" cy="249.8" r="1.6"/>
<circle cx="1249.5" cy="261.6" r="2.5"/>
<circle cx="1205.0" cy="232.5" r="1.2"/>
<circle cx="1207.5" cy="224.5" r="2.2"/>
<circle cx="1206.2" cy="252.9" r="2.2"/>
<circle cx="1244.6" cy="270.2" r="2.7"/>
</g>
<g stroke="#000" stroke-width="3.5" stroke-linejoin="miter">
<rect x="321.8" y="1608.85" width="164.53" height="17.6" fill="#000"/>
<rect x="321.8" y="1626.4" width="164.53" height="17.9" fill="#fff"/>
<rect x="486.3" y="1608.85" width="164.53" height="17.6" fill="#fff"/>
<rect x="486.3" y="1626.4" width="164.53" height="17.9" fill="#000"/>
<rect x="650.8" y="1608.85" width="164.53" height="17.6" fill="#000"/>
<rect x="650.8" y="1626.4" width="164.53" height="17.9" fill="#fff"/>
<rect x="815.3" y="1608.85" width="164.53" height="17.6" fill="#fff"/>
<rect x="815.3" y="1626.4" width="164.53" height="17.9" fill="#000"/>
</g>
<g stroke="#000" stroke-width="1.5" stroke-linejoin="miter"><path d="M195.4,1558.9 L161.2,1645.5 L195.4,1612.2Z" fill="url(#hatch)"/><path d="M195.4,1558.9 L229.6,1645.5 L195.4,1612.2Z" fill="#fff"/></g>
<rect x="1870.05" y="1328.5" width="83" height="47" fill="#08306b"/>
<rect x="1870.05" y="1405.15" width="83" height="47" fill="#3e8ec4"/>
<rect x="1870.05" y="1481.8" width="83" height="47" fill="#afd1e7"/>
<rect x="1870.05" y="1558.45" width="83" height="47" fill="#f7fbff"/>
<text transform="translate(444.56,110.9) scale(1.0210,1)" textLength="142.14" lengthAdjust="spacingAndGlyphs" font-weight="bold" font-size="50">Trend</text>
<text transform="translate(601.71,110.9) scale(1.0001,1)" textLength="172.20" lengthAdjust="spacingAndGlyphs" font-weight="bold" font-size="50">annual</text>
<text transform="translate(787.10,110.9) scale(0.9904,1)" textLength="139.78" lengthAdjust="spacingAndGlyphs" font-weight="bold" font-size="50">mean</text>
<text transform="translate(938.59,110.9) scale(1.0407,1)" textLength="107.19" lengthAdjust="spacingAndGlyphs" font-weight="bold" font-size="50">NO2</text>
<text transform="translate(1059.84,110.9) scale(0.9833,1)" textLength="379.50" lengthAdjust="spacingAndGlyphs" font-weight="bold" font-size="50">concentrations</text>
<text transform="translate(1444.79,110.9) scale(1.0070,1)" textLength="244.38" lengthAdjust="spacingAndGlyphs" font-weight="bold" font-size="50">(Belgium,</text>
<text transform="translate(1700.26,110.9) scale(1.0474,1)" textLength="289.62" lengthAdjust="spacingAndGlyphs" font-weight="bold" font-size="50">1990-2021)</text>
<text transform="translate(1868.59,1298.9) scale(1.1881,1)" textLength="42.75" lengthAdjust="spacingAndGlyphs" font-weight="normal" font-size="50">%</text>
<text transform="translate(1930.55,1298.9) scale(0.9596,1)" textLength="165.58" lengthAdjust="spacingAndGlyphs" font-weight="normal" font-size="50">change</text>
<text transform="translate(2103.39,1298.9) scale(0.9553,1)" textLength="74.73" lengthAdjust="spacingAndGlyphs" font-weight="normal" font-size="50">per</text>
<text transform="translate(2190.68,1298.9) scale(0.9469,1)" textLength="100.34" lengthAdjust="spacingAndGlyphs" font-weight="normal" font-size="50">year</text>
<text transform="translate(1975.80,1371.6) scale(0.9597,1)" textLength="37.70" lengthAdjust="spacingAndGlyphs" font-weight="normal" font-size="50">&lt;</text>
<text transform="translate(2026.90,1371.6) scale(0.9888,1)" textLength="116.36" lengthAdjust="spacingAndGlyphs" font-weight="normal" font-size="50">-2,00</text>
<text transform="translate(2155.34,1371.6) scale(1.2042,1)" textLength="42.75" lengthAdjust="spacingAndGlyphs" font-weight="normal" font-size="50">%</text>
<text transform="translate(1975.60,1448.1) scale(0.9888,1)" textLength="116.36" lengthAdjust="spacingAndGlyphs" font-weight="normal" font-size="50">-2,00</text>
<text transform="translate(2104.04,1448.1) scale(1.2042,1)" textLength="42.75" lengthAdjust="spacingAndGlyphs" font-weight="normal" font-size="50">%</text>
<text transform="translate(2170.01,1448.1) scale(0.9657,1)" textLength="62.78" lengthAdjust="spacingAndGlyphs" font-weight="normal" font-size="50">tot</text>
<text transform="translate(2244.15,1448.1) scale(1.0087,1)" textLength="116.36" lengthAdjust="spacingAndGlyphs" font-weight="normal" font-size="50">-1,50</text>
<text transform="translate(2373.71,1448.1) scale(1.1800,1)" textLength="42.75" lengthAdjust="spacingAndGlyphs" font-weight="normal" font-size="50">%</text>
<text transform="translate(1975.60,1524.8) scale(0.9888,1)" textLength="116.36" lengthAdjust="spacingAndGlyphs" font-weight="normal" font-size="50">-1,50</text>
<text transform="translate(2104.04,1524.8) scale(1.2042,1)" textLength="42.75" lengthAdjust="spacingAndGlyphs" font-weight="normal" font-size="50">%</text>
<text transform="translate(2170.01,1524.8) scale(0.9657,1)" textLength="62.78" lengthAdjust="spacingAndGlyphs" font-weight="normal" font-size="50">tot</text>
<text transform="translate(2244.15,1524.8) scale(1.0087,1)" textLength="116.36" lengthAdjust="spacingAndGlyphs" font-weight="normal" font-size="50">-1,00</text>
<text transform="translate(2373.71,1524.8) scale(1.1800,1)" textLength="42.75" lengthAdjust="spacingAndGlyphs" font-weight="normal" font-size="50">%</text>
<text transform="translate(1975.81,1601.6) scale(0.9637,1)" textLength="37.70" lengthAdjust="spacingAndGlyphs" font-weight="normal" font-size="50">&gt;</text>
<text transform="translate(2026.90,1601.6) scale(0.9888,1)" textLength="116.36" lengthAdjust="spacingAndGlyphs" font-weight="normal" font-size="50">-1,00</text>
<text transform="translate(2155.34,1601.6) scale(1.2042,1)" textLength="42.75" lengthAdjust="spacingAndGlyphs" font-weight="normal" font-size="50">%</text>
<text transform="translate(305.59,1573.7) scale(1.1421,1)" textLength="28.62" lengthAdjust="spacingAndGlyphs" font-weight="normal" font-size="50">0</text>
<text transform="translate(457.67,1573.7) scale(1.0162,1)" textLength="57.23" lengthAdjust="spacingAndGlyphs" font-weight="normal" font-size="50">25</text>
<text transform="translate(623.01,1573.7) scale(0.9844,1)" textLength="57.23" lengthAdjust="spacingAndGlyphs" font-weight="normal" font-size="50">50</text>
<text transform="translate(785.77,1573.7) scale(1.0369,1)" textLength="57.23" lengthAdjust="spacingAndGlyphs" font-weight="normal" font-size="50">75</text>
<text transform="translate(939.66,1573.7) scale(0.9571,1)" textLength="85.84" lengthAdjust="spacingAndGlyphs" font-weight="normal" font-size="50">100</text>
<text transform="translate(1035.49,1573.7) scale(0.9803,1)" textLength="69.88" lengthAdjust="spacingAndGlyphs" font-weight="normal" font-size="50">km</text>
<text transform="translate(185.46,1557.8) scale(1.0545,1)" textLength="18.17" lengthAdjust="spacingAndGlyphs" font-weight="normal" font-size="27">N</text>
</svg></body></html>
